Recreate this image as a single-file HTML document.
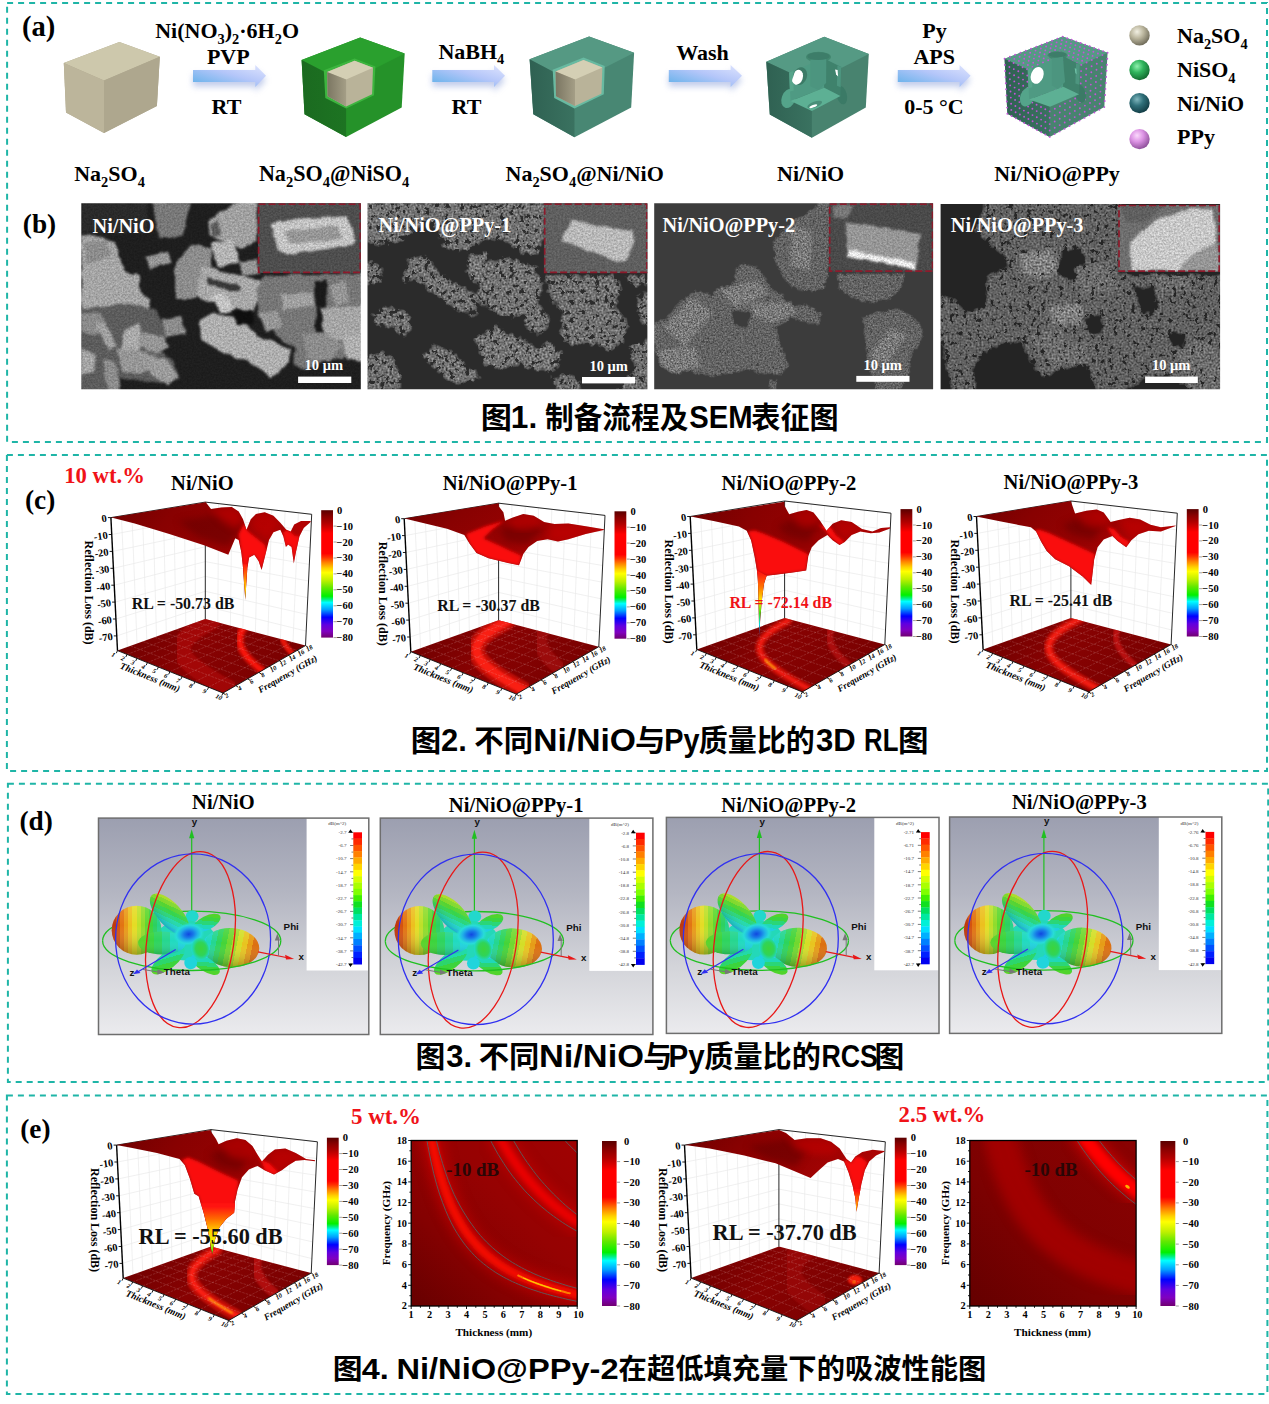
<!DOCTYPE html>
<html lang="zh"><head><meta charset="utf-8"><title>Figure</title>
<style>html,body{margin:0;padding:0;background:#fff}svg{display:block}text{white-space:pre}svg{font-family:'Liberation Serif','Noto Serif CJK SC',serif;font-weight:bold}</style></head>
<body><svg width="1269" height="1404" viewBox="0 0 1269 1404">
<defs>
<linearGradient id="arw" x1="0" y1="1" x2="1" y2="0"><stop offset="0" stop-color="#5cafe8"/><stop offset="0.55" stop-color="#b4c6f9"/><stop offset="1" stop-color="#e0e5fe"/></linearGradient>
<filter id="ashad" x="-20%" y="-60%" width="140%" height="260%"><feGaussianBlur stdDeviation="3.2"/></filter>
<radialGradient id="ballA" cx="0.38" cy="0.32" r="0.7"><stop offset="0" stop-color="#f1efe2"/><stop offset="0.45" stop-color="#bdb8a0"/><stop offset="1" stop-color="#6e6a58"/></radialGradient>
<radialGradient id="ballB" cx="0.38" cy="0.32" r="0.7"><stop offset="0" stop-color="#8ff0ad"/><stop offset="0.45" stop-color="#2fb45c"/><stop offset="1" stop-color="#136a30"/></radialGradient>
<radialGradient id="ballC" cx="0.38" cy="0.32" r="0.7"><stop offset="0" stop-color="#7fb6bd"/><stop offset="0.45" stop-color="#2f6f79"/><stop offset="1" stop-color="#123c44"/></radialGradient>
<radialGradient id="ballD" cx="0.38" cy="0.32" r="0.7"><stop offset="0" stop-color="#fbd9fc"/><stop offset="0.45" stop-color="#dc93e4"/><stop offset="1" stop-color="#8d4f99"/></radialGradient>
<linearGradient id="bL" x1="0" y1="0" x2="1" y2="0"><stop offset="0" stop-color="#7b7662"/><stop offset="1" stop-color="#a49e86"/></linearGradient>
<linearGradient id="gL" x1="0" y1="0" x2="1" y2="0"><stop offset="0" stop-color="#1b6a20"/><stop offset="1" stop-color="#1d7422"/></linearGradient>
<linearGradient id="tL" x1="0" y1="0" x2="1" y2="0"><stop offset="0" stop-color="#2f6152"/><stop offset="1" stop-color="#3a7260"/></linearGradient>
<pattern id="dotsL" width="5.6" height="5.6" patternUnits="userSpaceOnUse" patternTransform="matrix(1,0.48,0,1,1004.7,59.6)"><circle cx="2.8" cy="2.8" r="1.05" fill="#c64fd6"/></pattern>
<pattern id="dotsR" width="5.6" height="5.6" patternUnits="userSpaceOnUse" patternTransform="matrix(1,-0.53,0,1,1050.2,82)"><circle cx="2.8" cy="2.8" r="1.05" fill="#c64fd6"/></pattern>
<pattern id="dotsT" width="5.6" height="5.6" patternUnits="userSpaceOnUse" patternTransform="matrix(1,0.48,1.05,-0.42,1004.7,59.6)"><circle cx="2.8" cy="2.8" r="1.05" fill="#c64fd6"/></pattern>


<filter id="semA" x="0" y="0" width="100%" height="100%" color-interpolation-filters="sRGB">
  <feTurbulence type="fractalNoise" baseFrequency="0.09" numOctaves="2" seed="7" result="n0"/>
  <feDisplacementMap in="SourceGraphic" in2="n0" scale="5" xChannelSelector="R" yChannelSelector="G" result="d"/>
  <feGaussianBlur in="d" stdDeviation="0.9" result="m"/>
  <feTurbulence type="fractalNoise" baseFrequency="0.55" numOctaves="2" seed="11" result="n1"/>
  <feColorMatrix in="n1" type="matrix" values="1 0 0 0 0 1 0 0 0 0 1 0 0 0 0 0 0 0 0 1" result="ng"/>
  <feComposite in="m" in2="ng" operator="arithmetic" k1="0.5" k2="0.75" k3="0" k4="0"/>
</filter>
<filter id="semB" x="0" y="0" width="100%" height="100%" color-interpolation-filters="sRGB">
  <feTurbulence type="fractalNoise" baseFrequency="0.2" numOctaves="3" seed="5" result="n0"/>
  <feDisplacementMap in="SourceGraphic" in2="n0" scale="12" xChannelSelector="R" yChannelSelector="G" result="d"/>
  <feGaussianBlur in="d" stdDeviation="1.5" result="m"/>
  <feColorMatrix in="n0" type="matrix" values="0 0 1 0 0 0 0 1 0 0 0 0 1 0 0 0 0 0 0 1" result="ng"/>
  <feComposite in="m" in2="ng" operator="arithmetic" k1="0" k2="1" k3="2.4" k4="-1.2" result="t"/>
  <feComponentTransfer in="t" result="b"><feFuncR type="table" tableValues="0 0 0 0 0.15 0.85 1 1 1 1 1"/><feFuncG type="table" tableValues="0 0 0 0 0.15 0.85 1 1 1 1 1"/><feFuncB type="table" tableValues="0 0 0 0 0.15 0.85 1 1 1 1 1"/></feComponentTransfer>
  <feTurbulence type="fractalNoise" baseFrequency="0.5" numOctaves="3" seed="22" result="n1"/>
  <feColorMatrix in="n1" type="matrix" values="0.7600000000000001 0 0 0 -0.06000000000000005 0.7600000000000001 0 0 0 -0.06000000000000005 0.7600000000000001 0 0 0 -0.06000000000000005 0 0 0 0 1" result="g"/>
  <feComposite in="m" in2="g" operator="arithmetic" k1="2.0" k2="0" k3="-0.7" k4="0" result="gm"/>
  <feComposite in="b" in2="gm" operator="arithmetic" k1="1" k2="0" k3="0" k4="0.17" result="r"/>
  <feGaussianBlur in="r" stdDeviation="0.5"/>
</filter>
<filter id="semC" x="0" y="0" width="100%" height="100%" color-interpolation-filters="sRGB">
  <feTurbulence type="fractalNoise" baseFrequency="0.3" numOctaves="3" seed="9" result="n0"/>
  <feDisplacementMap in="SourceGraphic" in2="n0" scale="6" xChannelSelector="R" yChannelSelector="G" result="d"/>
  <feGaussianBlur in="d" stdDeviation="1.1" result="m"/>
  <feColorMatrix in="n0" type="matrix" values="0 0 1 0 0 0 0 1 0 0 0 0 1 0 0 0 0 0 0 1" result="ng"/>
  <feComposite in="m" in2="ng" operator="arithmetic" k1="0" k2="1" k3="1.2" k4="-0.6" result="t"/>
  <feComponentTransfer in="t" result="b"><feFuncR type="table" tableValues="0 0 0 0 0.15 0.85 1 1 1 1 1"/><feFuncG type="table" tableValues="0 0 0 0 0.15 0.85 1 1 1 1 1"/><feFuncB type="table" tableValues="0 0 0 0 0.15 0.85 1 1 1 1 1"/></feComponentTransfer>
  <feTurbulence type="fractalNoise" baseFrequency="0.6" numOctaves="3" seed="26" result="n1"/>
  <feColorMatrix in="n1" type="matrix" values="0.4800000000000001 0 0 0 -0.05500000000000002 0.4800000000000001 0 0 0 -0.05500000000000002 0.4800000000000001 0 0 0 -0.05500000000000002 0 0 0 0 1" result="g"/>
  <feComposite in="m" in2="g" operator="arithmetic" k1="2.0" k2="0" k3="-0.7" k4="0" result="gm"/>
  <feComposite in="b" in2="gm" operator="arithmetic" k1="1" k2="0" k3="0" k4="0.235" result="r"/>
  <feGaussianBlur in="r" stdDeviation="0.45"/>
</filter>
<filter id="semD" x="0" y="0" width="100%" height="100%" color-interpolation-filters="sRGB">
  <feTurbulence type="fractalNoise" baseFrequency="0.22" numOctaves="3" seed="13" result="n0"/>
  <feDisplacementMap in="SourceGraphic" in2="n0" scale="10" xChannelSelector="R" yChannelSelector="G" result="d"/>
  <feGaussianBlur in="d" stdDeviation="1.5" result="m"/>
  <feColorMatrix in="n0" type="matrix" values="0 0 1 0 0 0 0 1 0 0 0 0 1 0 0 0 0 0 0 1" result="ng"/>
  <feComposite in="m" in2="ng" operator="arithmetic" k1="0" k2="1" k3="2.0" k4="-1.0" result="t"/>
  <feComponentTransfer in="t" result="b"><feFuncR type="table" tableValues="0 0 0 0 0.15 0.85 1 1 1 1 1"/><feFuncG type="table" tableValues="0 0 0 0 0.15 0.85 1 1 1 1 1"/><feFuncB type="table" tableValues="0 0 0 0 0.15 0.85 1 1 1 1 1"/></feComponentTransfer>
  <feTurbulence type="fractalNoise" baseFrequency="0.5" numOctaves="3" seed="30" result="n1"/>
  <feColorMatrix in="n1" type="matrix" values="0.5999999999999999 0 0 0 -0.009999999999999953 0.5999999999999999 0 0 0 -0.009999999999999953 0.5999999999999999 0 0 0 -0.009999999999999953 0 0 0 0 1" result="g"/>
  <feComposite in="m" in2="g" operator="arithmetic" k1="2.0" k2="0" k3="-0.7" k4="0" result="gm"/>
  <feComposite in="b" in2="gm" operator="arithmetic" k1="1" k2="0" k3="0" k4="0.14" result="r"/>
  <feGaussianBlur in="r" stdDeviation="0.5"/>
</filter>


<linearGradient id="cbar" x1="0" y1="0" x2="0" y2="1"><stop offset="0" stop-color="#5a0000"/><stop offset="0.05" stop-color="#8a0000"/><stop offset="0.1" stop-color="#b00000"/><stop offset="0.15" stop-color="#e00000"/><stop offset="0.18" stop-color="#ff0000"/><stop offset="0.34" stop-color="#ff0000"/><stop offset="0.37" stop-color="#ff3000"/><stop offset="0.41" stop-color="#ff8000"/><stop offset="0.455" stop-color="#ffd000"/><stop offset="0.49" stop-color="#ffff00"/><stop offset="0.55" stop-color="#c0f000"/><stop offset="0.61" stop-color="#60e800"/><stop offset="0.675" stop-color="#00f000"/><stop offset="0.7" stop-color="#00f080"/><stop offset="0.725" stop-color="#00ffff"/><stop offset="0.78" stop-color="#00a0ff"/><stop offset="0.84" stop-color="#0000ff"/><stop offset="0.9" stop-color="#6000e0"/><stop offset="0.95" stop-color="#8000c0"/><stop offset="1" stop-color="#700070"/></linearGradient>
<linearGradient id="surfD" x1="0" y1="0" x2="1" y2="0.4"><stop offset="0" stop-color="#6e0000"/><stop offset="0.3" stop-color="#880101"/><stop offset="0.6" stop-color="#960202"/><stop offset="1" stop-color="#b00404"/></linearGradient>
<linearGradient id="floorG" x1="0" y1="0" x2="1" y2="0.3"><stop offset="0" stop-color="#6c0000"/><stop offset="0.5" stop-color="#880202"/><stop offset="1" stop-color="#7a0101"/></linearGradient>
<filter id="sblur" x="-10%" y="-10%" width="120%" height="120%"><feGaussianBlur stdDeviation="1.6"/></filter>
<filter id="sblur3" x="-20%" y="-20%" width="140%" height="140%"><feGaussianBlur stdDeviation="3.5"/></filter>
<filter id="fblur" x="-10%" y="-10%" width="120%" height="120%"><feGaussianBlur stdDeviation="1.3"/></filter>

<linearGradient id="rcsbg" x1="0" y1="0" x2="0" y2="1"><stop offset="0" stop-color="#9c9fb0"/><stop offset="0.35" stop-color="#b4b6c2"/><stop offset="0.7" stop-color="#d4d5da"/><stop offset="1" stop-color="#ebebee"/></linearGradient>
<linearGradient id="lobeL" x1="0" y1="0" x2="1" y2="0"><stop offset="0.000" stop-color="#bf380c"/><stop offset="0.083" stop-color="#bf380c"/><stop offset="0.083" stop-color="#d4520e"/><stop offset="0.167" stop-color="#d4520e"/><stop offset="0.167" stop-color="#e27412"/><stop offset="0.250" stop-color="#e27412"/><stop offset="0.250" stop-color="#e99a18"/><stop offset="0.333" stop-color="#e99a18"/><stop offset="0.333" stop-color="#ecc01e"/><stop offset="0.417" stop-color="#ecc01e"/><stop offset="0.417" stop-color="#e4dc24"/><stop offset="0.500" stop-color="#e4dc24"/><stop offset="0.500" stop-color="#bee028"/><stop offset="0.583" stop-color="#bee028"/><stop offset="0.583" stop-color="#90dc2c"/><stop offset="0.667" stop-color="#90dc2c"/><stop offset="0.667" stop-color="#60d830"/><stop offset="0.750" stop-color="#60d830"/><stop offset="0.750" stop-color="#3ad43c"/><stop offset="0.833" stop-color="#3ad43c"/><stop offset="0.833" stop-color="#2cd060"/><stop offset="0.917" stop-color="#2cd060"/><stop offset="0.917" stop-color="#26d488"/><stop offset="1.000" stop-color="#26d488"/></linearGradient>
<linearGradient id="lobeR" x1="1" y1="0.1" x2="0" y2="0"><stop offset="0.000" stop-color="#dc7010"/><stop offset="0.091" stop-color="#dc7010"/><stop offset="0.091" stop-color="#e69c16"/><stop offset="0.182" stop-color="#e69c16"/><stop offset="0.182" stop-color="#e8c41e"/><stop offset="0.273" stop-color="#e8c41e"/><stop offset="0.273" stop-color="#d4de26"/><stop offset="0.364" stop-color="#d4de26"/><stop offset="0.364" stop-color="#a4dc2a"/><stop offset="0.455" stop-color="#a4dc2a"/><stop offset="0.455" stop-color="#70d82e"/><stop offset="0.545" stop-color="#70d82e"/><stop offset="0.545" stop-color="#44d438"/><stop offset="0.636" stop-color="#44d438"/><stop offset="0.636" stop-color="#2cd45c"/><stop offset="0.727" stop-color="#2cd45c"/><stop offset="0.727" stop-color="#24d690"/><stop offset="0.818" stop-color="#24d690"/><stop offset="0.818" stop-color="#20d8c0"/><stop offset="0.909" stop-color="#20d8c0"/><stop offset="0.909" stop-color="#20d4dc"/><stop offset="1.000" stop-color="#20d4dc"/></linearGradient>
<linearGradient id="lobeUL" x1="0.15" y1="0.1" x2="0.85" y2="0.9"><stop offset="0.000" stop-color="#a8dc24"/><stop offset="0.125" stop-color="#a8dc24"/><stop offset="0.125" stop-color="#80d82a"/><stop offset="0.250" stop-color="#80d82a"/><stop offset="0.250" stop-color="#54d432"/><stop offset="0.375" stop-color="#54d432"/><stop offset="0.375" stop-color="#36d44c"/><stop offset="0.500" stop-color="#36d44c"/><stop offset="0.500" stop-color="#2ad67c"/><stop offset="0.625" stop-color="#2ad67c"/><stop offset="0.625" stop-color="#22daac"/><stop offset="0.750" stop-color="#22daac"/><stop offset="0.750" stop-color="#20d8d4"/><stop offset="0.875" stop-color="#20d8d4"/><stop offset="0.875" stop-color="#20c8e8"/><stop offset="1.000" stop-color="#20c8e8"/></linearGradient>
<linearGradient id="lobeLL" x1="0" y1="0.5" x2="1" y2="0.5"><stop offset="0.000" stop-color="#58d42a"/><stop offset="0.167" stop-color="#58d42a"/><stop offset="0.167" stop-color="#3cd43c"/><stop offset="0.333" stop-color="#3cd43c"/><stop offset="0.333" stop-color="#2ed45e"/><stop offset="0.500" stop-color="#2ed45e"/><stop offset="0.500" stop-color="#26d690"/><stop offset="0.667" stop-color="#26d690"/><stop offset="0.667" stop-color="#20dac0"/><stop offset="0.833" stop-color="#20dac0"/><stop offset="0.833" stop-color="#20d4e0"/><stop offset="1.000" stop-color="#20d4e0"/></linearGradient>
<linearGradient id="lobeBL" x1="0.1" y1="0.9" x2="0.9" y2="0.1"><stop offset="0.000" stop-color="#5cd428"/><stop offset="0.200" stop-color="#5cd428"/><stop offset="0.200" stop-color="#3cd43c"/><stop offset="0.400" stop-color="#3cd43c"/><stop offset="0.400" stop-color="#2cd66c"/><stop offset="0.600" stop-color="#2cd66c"/><stop offset="0.600" stop-color="#22daa8"/><stop offset="0.800" stop-color="#22daa8"/><stop offset="0.800" stop-color="#20d8d8"/><stop offset="1.000" stop-color="#20d8d8"/></linearGradient>
<linearGradient id="lobeTR" x1="0.1" y1="0.8" x2="0.9" y2="0.2"><stop offset="0.000" stop-color="#20d0e0"/><stop offset="0.200" stop-color="#20d0e0"/><stop offset="0.200" stop-color="#20d8b8"/><stop offset="0.400" stop-color="#20d8b8"/><stop offset="0.400" stop-color="#2ad678"/><stop offset="0.600" stop-color="#2ad678"/><stop offset="0.600" stop-color="#3cd440"/><stop offset="0.800" stop-color="#3cd440"/><stop offset="0.800" stop-color="#50d42c"/><stop offset="1.000" stop-color="#50d42c"/></linearGradient>
<linearGradient id="lobeBR" x1="0.1" y1="0.2" x2="0.9" y2="0.8"><stop offset="0.000" stop-color="#20d0e0"/><stop offset="0.200" stop-color="#20d0e0"/><stop offset="0.200" stop-color="#20d8b8"/><stop offset="0.400" stop-color="#20d8b8"/><stop offset="0.400" stop-color="#2ad678"/><stop offset="0.600" stop-color="#2ad678"/><stop offset="0.600" stop-color="#3cd440"/><stop offset="0.800" stop-color="#3cd440"/><stop offset="0.800" stop-color="#50d42c"/><stop offset="1.000" stop-color="#50d42c"/></linearGradient>
<radialGradient id="lobeF" cx="0.55" cy="0.5" r="0.55"><stop offset="0" stop-color="#3cd43c"/><stop offset="0.55" stop-color="#30d458"/><stop offset="0.8" stop-color="#24d8a0"/><stop offset="1" stop-color="#20d8d0"/></radialGradient>
<radialGradient id="lobeC" cx="0.5" cy="0.5" r="0.5"><stop offset="0" stop-color="#1048e0"/><stop offset="0.3" stop-color="#1878e8"/><stop offset="0.55" stop-color="#20b0e8"/><stop offset="0.8" stop-color="#28dcd8"/><stop offset="1" stop-color="#28dcd0" stop-opacity="0"/></radialGradient>
<linearGradient id="shade" x1="0" y1="0" x2="0" y2="1"><stop offset="0" stop-color="#fff" stop-opacity="0.12"/><stop offset="0.4" stop-color="#fff" stop-opacity="0"/><stop offset="1" stop-color="#000" stop-opacity="0.28"/></linearGradient>

<linearGradient id="hmG" x1="0" y1="1" x2="1" y2="0"><stop offset="0" stop-color="#660000"/><stop offset="0.3" stop-color="#840101"/><stop offset="0.6" stop-color="#960202"/><stop offset="1" stop-color="#a00202"/></linearGradient>
<linearGradient id="hmG2" x1="0" y1="1" x2="1" y2="0"><stop offset="0" stop-color="#640000"/><stop offset="0.4" stop-color="#7c0101"/><stop offset="1" stop-color="#8a0202"/></linearGradient>
<filter id="hblur" x="-10%" y="-10%" width="120%" height="120%"><feGaussianBlur stdDeviation="2.4"/></filter>
<filter id="hblur2" x="-10%" y="-10%" width="120%" height="120%"><feGaussianBlur stdDeviation="6"/></filter>
</defs>
<rect width="1269" height="1404" fill="#fff"/>
<rect x="7.1" y="3" width="1259.9" height="439" fill="none" stroke="#1fb5a7" stroke-width="2" stroke-dasharray="6 5"/>
<rect x="6.9" y="454.9" width="1260.1" height="316" fill="none" stroke="#1fb5a7" stroke-width="2" stroke-dasharray="6 5"/>
<rect x="7.9" y="783.8" width="1260.3" height="298.2" fill="none" stroke="#1fb5a7" stroke-width="2" stroke-dasharray="6 5"/>
<rect x="6.9" y="1095.4" width="1260.5" height="298.5" fill="none" stroke="#1fb5a7" stroke-width="2" stroke-dasharray="6 5"/>
<polygon points="63.8,63 119.4,42 159.8,56.8 156.9,106 104,132.9 66,112.6" fill="#aea78e"/><polygon points="63.8,63 119.4,42 159.8,56.8 104,80.6" fill="#cdc8ac"/><polygon points="63.8,63 104,80.6 104,132.9 66,112.6" fill="#bcb59b"/><polygon points="104,80.6 159.8,56.8 156.9,106 104,132.9" fill="#aea78e"/>
<polygon points="301.6,60.1 360.2,37.4 404.7,53.5 401.7,107.5 346.1,136.9 304.5,114.2" fill="#259229"/><polygon points="301.6,60.1 360.2,37.4 404.7,53.5 346.1,83" fill="#2aa02e"/><polygon points="301.6,60.1 346.1,83 346.1,136.9 304.5,114.2" fill="url(#gL)"/><polygon points="323.8,70.2 354.6,58.4 375.4,66.4 374,95.2 346.1,108.5 325.3,98.1" fill="#3db53f"/><polygon points="327.2,72.1 354.6,60.7 373,67.8 372.1,94.3 346.1,106.6 327.6,96.2" fill="#b9b399"/><polygon points="327.2,72.1 354.6,60.7 373,67.8 346.1,79.6" fill="#d4cfb4"/><polygon points="327.2,72.1 346.1,79.6 346.1,106.6 327.6,96.2" fill="url(#bL)"/>
<polygon points="529.6,59.3 589.1,36.6 634.1,52.7 631.2,107.5 574.5,137.3 533.3,114.2" fill="#488773"/><polygon points="529.6,59.3 589.1,36.6 634.1,52.7 574.5,83" fill="#559983"/><polygon points="529.6,59.3 574.5,83 574.5,137.3 533.3,114.2" fill="url(#tL)"/><polygon points="552.7,69.7 583.5,57.4 604.7,65.9 603.8,94.3 574.5,108.5 554.2,98.1" fill="#68baa1"/><polygon points="555.6,71.6 583.5,60.1 602.4,67.4 601.4,93.8 575,106.1 556,96.2" fill="#b9b399"/><polygon points="555.6,71.6 583.5,60.1 602.4,67.4 575,79.6" fill="#d4cfb4"/><polygon points="555.6,71.6 575,79.6 575,106.1 556,96.2" fill="url(#bL)"/>
<polygon points="766.3,61.7 824.2,36.8 868.8,54.1 865.8,107.5 811.9,137.8 769.8,114.6" fill="#48836f"/><polygon points="766.3,61.7 824.2,36.8 868.8,54.1 811.9,83" fill="#559a84"/><polygon points="766.3,61.7 811.9,83 811.9,137.8 769.8,114.6" fill="url(#tL)"/><ellipse cx="818.5" cy="57" rx="12.5" ry="5.2" fill="#43876f"/><ellipse cx="788.5" cy="98.5" rx="6.8" ry="9.9" fill="#54a48a" transform="rotate(20 788.5 98.5)"/><ellipse cx="841.6" cy="95" rx="5.2" ry="9.5" fill="#3b7a66" transform="rotate(-15 841.6 95)"/><polygon points="789.2,72.6 824.2,58.4 824.2,87.7 790.6,101.1" fill="#4f9a83"/><polygon points="824.2,58.4 841.2,66.9 840.5,95.9 824.2,87.7" fill="#3f826c"/><polygon points="790.6,101.1 824.2,87.7 840.5,95.9 811.9,111.1" fill="#5db094"/><polygon points="810.3,59.8 826.3,58.8 826.1,83 818.5,90 810.3,86.3" fill="#4c957f"/><ellipse cx="818.5" cy="56.2" rx="11.3" ry="3.9" fill="#3d7d69"/><polygon points="789.2,72.6 793.2,70.9 793.7,90.5 789.8,91.5" fill="#57a58b"/><polygon points="841.2,66.9 837.4,65.6 836.9,85.8 840.6,87.2" fill="#4d957f"/><ellipse cx="800.1" cy="76.1" rx="6.8" ry="9" fill="#3c7b67" transform="rotate(18 800.1 76.1)"/><clipPath id="hc4"><rect x="793.2" y="65.9" width="20" height="30"/></clipPath><ellipse cx="797.5" cy="77.3" rx="5.3" ry="7.6" fill="#fff" transform="rotate(18 797.5 77.3)" clip-path="url(#hc4)"/><polygon points="835.1,69.5 837.6,70.1 838.1,76.5 836.1,74.4" fill="#fff"/><ellipse cx="814.7" cy="104.5" rx="7.8" ry="2.8" fill="#498f79" transform="rotate(-20 814.7 104.5)"/><ellipse cx="813.3" cy="106.2" rx="4.2" ry="1.2" fill="#fff" transform="rotate(-22 813.3 106.2)"/>
<polygon points="1004.6,58.8 1062.7,36.6 1107.6,52.7 1104.3,107.1 1049.7,136.9 1007.4,113.7" fill="#48836f"/><polygon points="1004.6,58.8 1062.7,36.6 1107.6,52.7 1049.7,79.6" fill="#559a84"/><polygon points="1004.6,58.8 1049.7,79.6 1049.7,136.9 1007.4,113.7" fill="url(#tL)"/><path d="M1004.6 58.8h0M1004.9 64.9h0M1005.2 71h0M1005.5 77.1h0M1005.8 83.2h0M1006.1 89.3h0M1006.5 95.4h0M1006.8 101.5h0M1007.1 107.6h0M1007.4 113.7h0M1009.1 60.9h0M1009.4 67h0M1009.6 73.2h0M1009.9 79.3h0M1010.2 85.4h0M1010.5 91.5h0M1010.8 97.6h0M1011.1 103.8h0M1011.3 109.9h0M1011.6 116h0M1013.6 63h0M1013.8 69.1h0M1014.1 75.3h0M1014.3 81.4h0M1014.6 87.6h0M1014.8 93.7h0M1015.1 99.9h0M1015.4 106h0M1015.6 112.2h0M1015.9 118.3h0M1018.1 65.1h0M1018.3 71.3h0M1018.5 77.4h0M1018.8 83.6h0M1019 89.8h0M1019.2 95.9h0M1019.4 102.1h0M1019.6 108.3h0M1019.9 114.5h0M1020.1 120.6h0M1022.6 67.2h0M1022.8 73.4h0M1023 79.6h0M1023.2 85.8h0M1023.4 92h0M1023.6 98.2h0M1023.7 104.4h0M1023.9 110.6h0M1024.1 116.8h0M1024.3 123h0M1027.1 69.2h0M1027.3 75.5h0M1027.4 81.7h0M1027.6 87.9h0M1027.7 94.1h0M1027.9 100.4h0M1028.1 106.6h0M1028.2 112.8h0M1028.4 119h0M1028.5 125.3h0M1031.6 71.3h0M1031.8 77.6h0M1031.9 83.8h0M1032 90.1h0M1032.1 96.3h0M1032.3 102.6h0M1032.4 108.8h0M1032.5 115.1h0M1032.6 121.3h0M1032.8 127.6h0M1036.1 73.4h0M1036.2 79.7h0M1036.3 86h0M1036.4 92.2h0M1036.5 98.5h0M1036.6 104.8h0M1036.7 111.1h0M1036.8 117.3h0M1036.9 123.6h0M1037 129.9h0M1040.7 75.5h0M1040.7 81.8h0M1040.8 88.1h0M1040.8 94.4h0M1040.9 100.7h0M1041 107h0M1041 113.3h0M1041.1 119.6h0M1041.2 125.9h0M1041.2 132.2h0M1045.2 77.6h0M1045.2 83.9h0M1045.2 90.2h0M1045.3 96.6h0M1045.3 102.9h0M1045.3 109.2h0M1045.3 115.5h0M1045.4 121.9h0M1045.4 128.2h0M1045.4 134.5h0M1049.7 79.6h0M1049.7 86h0M1049.7 92.4h0M1049.7 98.7h0M1049.7 105.1h0M1049.7 111.4h0M1049.7 117.8h0M1049.7 124.1h0M1049.7 130.5h0M1049.7 136.9h0M1054.9 77.2h0M1054.9 83.5h0M1054.9 89.9h0M1054.8 96.2h0M1054.8 102.5h0M1054.8 108.8h0M1054.7 115.2h0M1054.7 121.5h0M1054.7 127.8h0M1054.6 134.1h0M1060.2 74.7h0M1060.1 81h0M1060.1 87.3h0M1060 93.6h0M1059.9 99.9h0M1059.9 106.2h0M1059.8 112.5h0M1059.7 118.8h0M1059.7 125.1h0M1059.6 131.4h0M1065.5 72.3h0M1065.4 78.6h0M1065.3 84.8h0M1065.2 91.1h0M1065.1 97.4h0M1065 103.6h0M1064.9 109.9h0M1064.8 116.2h0M1064.7 122.5h0M1064.6 128.7h0M1070.8 69.8h0M1070.6 76.1h0M1070.5 82.3h0M1070.3 88.6h0M1070.2 94.8h0M1070.1 101.1h0M1069.9 107.3h0M1069.8 113.5h0M1069.7 119.8h0M1069.5 126h0M1076 67.4h0M1075.9 73.6h0M1075.7 79.8h0M1075.5 86h0M1075.4 92.2h0M1075.2 98.5h0M1075 104.7h0M1074.8 110.9h0M1074.7 117.1h0M1074.5 123.3h0M1081.3 64.9h0M1081.1 71.1h0M1080.9 77.3h0M1080.7 83.5h0M1080.5 89.7h0M1080.3 95.9h0M1080.1 102.1h0M1079.9 108.2h0M1079.7 114.4h0M1079.5 120.6h0M1086.6 62.5h0M1086.3 68.7h0M1086.1 74.8h0M1085.9 81h0M1085.6 87.1h0M1085.4 93.3h0M1085.2 99.4h0M1084.9 105.6h0M1084.7 111.7h0M1084.5 117.9h0M1091.8 60h0M1091.6 66.2h0M1091.3 72.3h0M1091 78.4h0M1090.8 84.6h0M1090.5 90.7h0M1090.2 96.8h0M1090 102.9h0M1089.7 109.1h0M1089.4 115.2h0M1097.1 57.6h0M1096.8 63.7h0M1096.5 69.8h0M1096.2 75.9h0M1095.9 82h0M1095.6 88.1h0M1095.3 94.2h0M1095 100.3h0M1094.7 106.4h0M1094.4 112.5h0M1102.4 55.1h0M1102 61.2h0M1101.7 67.3h0M1101.4 73.4h0M1101 79.4h0M1100.7 85.5h0M1100.4 91.6h0M1100 97.6h0M1099.7 103.7h0M1099.4 109.8h0M1107.6 52.7h0M1107.3 58.7h0M1106.9 64.8h0M1106.5 70.8h0M1106.2 76.9h0M1105.8 82.9h0M1105.4 88.9h0M1105.1 95h0M1104.7 101h0M1104.3 107.1h0M1009.9 56.8h0M1015.1 54.8h0M1020.4 52.8h0M1025.7 50.8h0M1031 48.7h0M1036.3 46.7h0M1041.6 44.7h0M1046.9 42.7h0M1052.1 40.7h0M1057.4 38.6h0M1062.7 36.6h0M1014.4 58.9h0M1019.6 56.8h0M1024.9 54.7h0M1030.2 52.7h0M1035.5 50.6h0M1040.8 48.5h0M1046.1 46.5h0M1051.4 44.4h0M1056.6 42.4h0M1061.9 40.3h0M1067.2 38.2h0M1018.9 60.9h0M1024.2 58.8h0M1029.4 56.7h0M1034.7 54.6h0M1040 52.5h0M1045.3 50.4h0M1050.6 48.3h0M1055.9 46.2h0M1061.1 44h0M1066.4 41.9h0M1071.7 39.8h0M1023.4 62.9h0M1028.7 60.8h0M1033.9 58.6h0M1039.2 56.5h0M1044.5 54.3h0M1049.8 52.2h0M1055.1 50h0M1060.4 47.9h0M1065.6 45.7h0M1070.9 43.6h0M1076.2 41.4h0M1027.9 65h0M1033.2 62.8h0M1038.4 60.6h0M1043.7 58.4h0M1049 56.2h0M1054.3 54h0M1059.6 51.8h0M1064.8 49.6h0M1070.1 47.4h0M1075.4 45.2h0M1080.7 43h0M1032.4 67h0M1037.7 64.8h0M1043 62.5h0M1048.2 60.3h0M1053.5 58.1h0M1058.8 55.8h0M1064.1 53.6h0M1069.3 51.4h0M1074.6 49.1h0M1079.9 46.9h0M1085.2 44.7h0M1036.9 69h0M1042.2 66.8h0M1047.5 64.5h0M1052.7 62.2h0M1058 59.9h0M1063.3 57.7h0M1068.6 55.4h0M1073.8 53.1h0M1079.1 50.8h0M1084.4 48.5h0M1089.7 46.3h0M1041.4 71.1h0M1046.7 68.8h0M1052 66.4h0M1057.2 64.1h0M1062.5 61.8h0M1067.8 59.5h0M1073.1 57.2h0M1078.3 54.8h0M1083.6 52.5h0M1088.9 50.2h0M1094.2 47.9h0M1045.9 73.1h0M1051.2 70.8h0M1056.5 68.4h0M1061.7 66h0M1067 63.7h0M1072.3 61.3h0M1077.6 58.9h0M1082.8 56.6h0M1088.1 54.2h0M1093.4 51.8h0M1098.7 49.5h0M1050.4 75.2h0M1055.7 72.8h0M1061 70.3h0M1066.2 67.9h0M1071.5 65.5h0M1076.8 63.1h0M1082.1 60.7h0M1087.3 58.3h0M1092.6 55.9h0M1097.9 53.5h0M1103.1 51.1h0M1054.9 77.2h0M1060.2 74.7h0M1065.5 72.3h0M1070.8 69.8h0M1076 67.4h0M1081.3 64.9h0M1086.6 62.5h0M1091.8 60h0M1097.1 57.6h0M1102.4 55.1h0M1107.6 52.7h0" stroke="#c352d8" stroke-width="1.9" stroke-linecap="round" fill="none"/><ellipse cx="1057.5" cy="55.3" rx="9.9" ry="4" fill="#43876f"/><ellipse cx="1027.1" cy="96.9" rx="6.8" ry="9.9" fill="#54a48a" transform="rotate(20 1027.1 96.9)"/><ellipse cx="1080.2" cy="93.4" rx="5.2" ry="9.5" fill="#3b7a66" transform="rotate(-15 1080.2 93.4)"/><polygon points="1027.7,69.2 1063.2,56 1063.2,86.7 1029.2,99.5" fill="#4f9a83"/><polygon points="1063.2,56 1079.7,64.5 1079.1,94.3 1063.2,86.7" fill="#3f826c"/><polygon points="1029.2,99.5 1063.2,86.7 1079.1,94.3 1050,106.8" fill="#5db094"/><polygon points="1051.8,58.2 1062.7,57.2 1065.1,82 1057.5,89.1 1051.8,85.3" fill="#4c957f"/><ellipse cx="1057.5" cy="54.6" rx="8.8" ry="2.6" fill="#3d7d69"/><polygon points="1027.7,69.2 1031.7,67.5 1032.3,87.2 1028.3,88.2" fill="#57a58b"/><polygon points="1079.7,64.5 1076,63.2 1075.4,83.4 1079.2,84.8" fill="#4d957f"/><ellipse cx="1037.2" cy="75.4" rx="6.2" ry="8.7" fill="#fff" transform="rotate(20 1037.2 75.4)"/><polygon points="1074.7,68.3 1076.4,68.8 1076.7,74.4 1075.3,73" fill="#6fc0a6"/>
<path d="M193 70.1H255.3V65L266 75.8L255.3 87V81.9H193Z" fill="#8fa3dc" opacity="0.55" filter="url(#ashad)" transform="translate(0,4.5)"/><path d="M193 70.1H255.3V65L266 75.8L255.3 87V81.9H193Z" fill="url(#arw)"/>
<path d="M432.3 70.1H494V65L505 75.8L494 87V81.9H432.3Z" fill="#8fa3dc" opacity="0.55" filter="url(#ashad)" transform="translate(0,4.5)"/><path d="M432.3 70.1H494V65L505 75.8L494 87V81.9H432.3Z" fill="url(#arw)"/>
<path d="M668.8 70.1H730.6V65L742 75.8L730.6 87V81.9H668.8Z" fill="#8fa3dc" opacity="0.55" filter="url(#ashad)" transform="translate(0,4.5)"/><path d="M668.8 70.1H730.6V65L742 75.8L730.6 87V81.9H668.8Z" fill="url(#arw)"/>
<path d="M897.8 70.1H959.6V65L970.6 75.8L959.6 87V81.9H897.8Z" fill="#8fa3dc" opacity="0.55" filter="url(#ashad)" transform="translate(0,4.5)"/><path d="M897.8 70.1H959.6V65L970.6 75.8L959.6 87V81.9H897.8Z" fill="url(#arw)"/>
<g font-family="'Liberation Serif','Noto Serif CJK SC',serif" font-weight="bold">
<text x="22" y="36.4" font-size="28.6">(a)</text>
<text x="155.2" y="38.2" font-size="22">Ni(NO<tspan dy="5.7" font-size="14.4">3</tspan><tspan dy="-5.7">)</tspan><tspan dy="5.7" font-size="14.4">2</tspan><tspan dy="-5.7">·6H</tspan><tspan dy="5.7" font-size="14.4">2</tspan><tspan dy="-5.7">O</tspan></text>
<text x="228.3" y="64" font-size="22" text-anchor="middle">PVP</text>
<text x="226.5" y="113.7" font-size="22" text-anchor="middle">RT</text>
<text x="438.4" y="58.5" font-size="22">NaBH<tspan dy="5.7" font-size="14.4">4</tspan></text>
<text x="466.5" y="113.7" font-size="22" text-anchor="middle">RT</text>
<text x="702.5" y="60.3" font-size="22" text-anchor="middle">Wash</text>
<text x="934.5" y="37.6" font-size="22" text-anchor="middle">Py</text>
<text x="934.2" y="64" font-size="22" text-anchor="middle">APS</text>
<text x="934" y="113.7" font-size="22" text-anchor="middle">0-5 °C</text>
<text x="74.2" y="181" font-size="22">Na<tspan dy="5.7" font-size="14.4">2</tspan><tspan dy="-5.7">SO</tspan><tspan dy="5.7" font-size="14.4">4</tspan></text>
<text x="258.9" y="181" font-size="22.1">Na<tspan dy="5.7" font-size="14.5">2</tspan><tspan dy="-5.7">SO</tspan><tspan dy="5.7" font-size="14.5">4</tspan><tspan dy="-5.7">@NiSO</tspan><tspan dy="5.7" font-size="14.5">4</tspan></text>
<text x="505.5" y="181" font-size="22">Na<tspan dy="5.7" font-size="14.4">2</tspan><tspan dy="-5.7">SO</tspan><tspan dy="5.7" font-size="14.4">4</tspan><tspan dy="-5.7">@Ni/NiO</tspan></text>
<text x="777" y="181" font-size="22">Ni/NiO</text>
<text x="994.3" y="181" font-size="22">Ni/NiO@PPy</text>
<text x="1177" y="43.1" font-size="22">Na<tspan dy="5.7" font-size="14.4">2</tspan><tspan dy="-5.7">SO</tspan><tspan dy="5.7" font-size="14.4">4</tspan></text>
<text x="1177" y="77.3" font-size="22">NiSO<tspan dy="5.7" font-size="14.4">4</tspan></text>
<text x="1177" y="111" font-size="22">Ni/NiO</text>
<text x="1177" y="144.2" font-size="22">PPy</text>
</g>
<circle cx="1139.5" cy="35.4" r="10.2" fill="url(#ballA)"/>
<circle cx="1139.5" cy="70" r="10.2" fill="url(#ballB)"/>
<circle cx="1139.5" cy="103.1" r="10.2" fill="url(#ballC)"/>
<circle cx="1139.5" cy="139.1" r="10.2" fill="url(#ballD)"/>
<text x="22.5" y="0" font-size="1"></text>
<text x="22.8" y="232.6" font-size="27.3" font-family="'Liberation Serif','Noto Serif CJK SC',serif">(b)</text>
<clipPath id="semc1"><rect x="81.3" y="203.3" width="279.5" height="186"/></clipPath>
<g clip-path="url(#semc1)">
<g filter="url(#semA)">
<rect x="69.3" y="191.3" width="303.5" height="210" fill="#1e1e1e"/>
<polygon points="81.3,203.3 148,203.3 148,232.8 81.3,232.8" fill="#2a2a2a"/>
<polygon points="81.3,234 98.4,235.7 113.7,242.3 126.7,273 139,276.6 139,289.6 150.4,299 148,308.5 131.5,313.2 103.1,310.8 81.3,313.2" fill="#a5a5a5"/>
<polygon points="84.7,242.3 107.8,239.9 110.7,256.9 87,264" fill="#8c8c8c"/>
<polygon points="79.5,309.4 125.1,304 156.5,309.4 162,323.1 167.4,336.8 156.5,347.7 173.1,361.4 179.7,377.7 162,383.2 121.1,377.7 107.4,391.2 79.5,391.2" fill="#5c5c5c"/>
<polygon points="81.3,313.2 100.7,313.2 107.8,327.4 93.6,336.8 81.3,332.1" fill="#8a8a8a"/>
<polygon points="96,323.8 105.5,321.5 117.8,346.3 108.3,351.5" fill="#a0a0a0"/>
<polygon points="124.4,327.4 139,323.8 141.4,348.7 129.1,360.5 120.8,358.1" fill="#aaaaaa"/>
<polygon points="140.9,332.1 164.6,336.8 168.1,346.8 155.1,353.9 140.9,344.4" fill="#969696"/>
<polygon points="81.3,348.7 96,355.8 93.6,370.4 81.3,375.1" fill="#a5a5a5"/>
<polygon points="103.1,358.1 115.4,360.5 120.1,391.2 107.8,391.2" fill="#8c8c8c"/>
<polygon points="117.3,348.7 148,351 153.2,365.7 140.9,375.1 122,370.4" fill="#969696"/>
<polygon points="145.7,353.9 164.6,358.1 179.2,377.5 169.3,384.6 150.4,375.1" fill="#9b9b9b"/>
<polygon points="152.7,202.1 191,202.1 185.8,221 181.1,238 159.8,238 155.1,218.6" fill="#787878"/>
<polygon points="145.2,256.9 168.1,251.7 171.7,262.6 149.2,268.8" fill="#969696"/>
<polygon points="208.3,221 221.3,211.5 235.5,202.1 257.9,202.1 257.2,239.9 242.6,248.4 221.3,239.9 209.5,235.2" fill="#a0a0a0"/>
<polygon points="210.7,223.4 217.8,219.8 221.3,234 213,236.4" fill="#5a5a5a"/>
<polygon points="210.7,243.5 233.1,238.7 239.3,261.2 217.8,268.3" fill="#b4b4b4"/>
<polygon points="175.2,262.4 192.9,243.5 211.8,247.5 211.8,265.9 202.4,273.5 195.3,299 175.2,299" fill="#8c8c8c"/>
<polygon points="202.4,265.9 264.3,281.3 252.5,313.7 195.3,296.7" fill="#a8a8a8"/>
<polygon points="208.3,277.3 240.7,287.2 239.3,292.4 207.1,284.4" fill="#373737"/>
<polygon points="209.5,296.7 223.7,294.3 235.5,308.9 221.3,313.7" fill="#c3c3c3"/>
<polygon points="239,261.2 256.8,260 259.1,273.5 242.6,275.9" fill="#969696"/>
<polygon points="264.3,275.4 306.4,274.2 363.1,274.2 363.1,346.3 343,358.1 323.9,360.5 307.6,368.8 294.6,366.4 294.6,348.7 278,336.8 259.1,317.9 256.8,289.6" fill="#767676"/>
<polygon points="199.6,320.3 211.8,313.2 240.2,317.9 259.1,336.8 291,348.7 289.9,361 270.9,377.5 263.9,370.4 244.9,361 221.3,351.5 201.2,339.7" fill="#afafaf"/>
<polygon points="161.7,319.1 181.1,316 185.8,333.5 165.7,336.8" fill="#8c8c8c"/>
<polygon points="314.7,281.3 326.5,280.1 327.7,308.5 324.1,333.3 314.7,332.1 315.9,306.1" fill="#191919"/>
<polygon points="233.1,312 252,309.7 254.4,322.7 236.7,325.5" fill="#0f0f0f"/>
<polygon points="280.4,294.3 313.5,291.9 316.3,306.6 282.8,308.9" fill="#a0a0a0"/>
<polygon points="320.6,308.5 363.1,306.1 363.1,337.3 325.3,342" fill="#a5a5a5"/>
<polygon points="341.9,336.8 363.1,334.5 363.1,361 346.6,358.6" fill="#afafaf"/>
<polygon points="330,284.8 344.2,280.1 349.4,301.9 334.8,306.6" fill="#969696"/>
<polygon points="259.1,313.2 278,310.8 282.8,327.4 266.2,332.1" fill="#969696"/>
<polygon points="302.9,334.5 325.3,332.1 341.9,346.3 330,360.5 306.4,358.1" fill="#8c8c8c"/>
</g>
<clipPath id="semc1i"><rect x="258" y="203.6" width="102.8" height="69.4"/></clipPath>
<g clip-path="url(#semc1i)"><g filter="url(#semA)">
<rect x="248" y="193.6" width="122.8" height="89.4" fill="#4e4e4e"/>
<polygon points="270.5,225.7 278,221 346.6,216.3 356.5,239.9 351.3,245.8 287.5,254.6 278,249.8" fill="#c3c3c3"/>
<polygon points="283.9,230.5 337.1,225.7 341.9,238.7 289.9,244.6" fill="#969696"/>
</g></g>
<rect x="258.6" y="204.2" width="101.6" height="68.2" fill="none" stroke="#8d1a2b" stroke-width="1.7" stroke-dasharray="7 3"/>
</g>
<text x="92.5" y="232.8" font-size="20.3" fill="#fff" font-family="'Liberation Serif','Noto Serif CJK SC',serif">Ni/NiO</text>
<rect x="298.1" y="376.6" width="53.2" height="6.4" fill="#fff"/>
<text x="323.8" y="370" font-size="14.5" text-anchor="middle" fill="#fff" font-family="'Liberation Serif','Noto Serif CJK SC',serif">10 μm</text>
<clipPath id="semc2"><rect x="367.5" y="203.3" width="279.9" height="186"/></clipPath>
<g clip-path="url(#semc2)">
<g filter="url(#semB)">
<rect x="355.5" y="191.3" width="303.9" height="210" fill="#2c2c2c"/>
<polygon points="364.5,202.1 433,202.1 425.9,218.6 411.7,235.2 395.2,242.3 376.3,245.8 364.5,242.3" fill="#cacaca"/>
<polygon points="433,202.1 546.5,202.1 544.1,242.3 534.7,256.5 520.5,254.1 506.3,242.3 487.4,239.9 466.1,251.7 444.8,249.4 437.7,232.8 425.9,218.6" fill="#cacaca"/>
<polygon points="364.5,261.2 378.6,263.6 384.6,275.4 378.6,284.8 364.5,284.8" fill="#c6c6c6"/>
<polygon points="408.2,257.6 425.9,255.3 440.1,273 466.1,289.6 477.9,299 475.6,315.6 459,313.2 433,294.3 414.1,277.7 404.6,284.8 402.3,277.7" fill="#cacaca"/>
<polygon points="468.5,254.1 487.4,251.7 485,277.7 473.2,283.7 464.9,270.7" fill="#d0d0d0"/>
<polygon points="482.7,263.6 506.3,256.5 534.7,265.9 544.1,284.8 539.4,306.1 520.5,317.9 501.6,317.9 482.7,306.1 473.2,299 477.9,284.8" fill="#cacaca"/>
<polygon points="370.4,315.6 385.7,306.1 402.3,308.5 412.9,317.9 411.7,332.1 399.9,335.7 390.5,327.4 376.3,323.8" fill="#cacaca"/>
<polygon points="364.5,355.8 381,351 395.2,358.1 402.3,374.7 399.9,391.2 364.5,391.2" fill="#c6c6c6"/>
<polygon points="421.2,353.4 435.4,343.9 454.3,351 466.1,365.2 477.9,369.9 479.1,379.4 459,385.3 442.5,377 430.7,365.2" fill="#cccccc"/>
<polygon points="470.8,336.8 487.4,332.1 496.8,322.7 506.3,332.1 520.5,336.8 534.7,346.3 551.2,341.6 563,355.8 558.3,369.9 539.4,372.3 520.5,365.2 501.6,369.9 482.7,365.2 477.9,351" fill="#cecece"/>
<polygon points="544.1,274.2 567.8,274.2 591.4,275.4 615,274.2 624.5,289.6 615,306.1 629.2,322.7 624.5,341.6 610.3,351 591.4,343.9 567.8,346.3 558.3,332.1 563,313.2 548.9,299" fill="#c8c8c8"/>
<polygon points="520.5,308.5 539.4,303.7 551.2,317.9 544.1,334.5 525.2,329.8" fill="#cacaca"/>
<polygon points="636.3,294.3 650.5,289.6 650.5,327.4 638.7,322.7" fill="#c6c6c6"/>
<polygon points="629.2,346.3 650.5,336.8 650.5,391.2 615,391.2 634,369.9" fill="#c6c6c6"/>
<polygon points="551.2,377 567.8,372.3 582,381.8 582,391.2 555.9,391.2" fill="#c6c6c6"/>
<polygon points="624.5,274.2 650.5,274.2 650.5,284.8 634,287.2" fill="#c4c4c4"/>
</g>
<clipPath id="semc2i"><rect x="544.1" y="203.6" width="103.3" height="69.4"/></clipPath>
<g clip-path="url(#semc2i)"><g filter="url(#semA)">
<rect x="534.1" y="193.6" width="123.3" height="89.4" fill="#5f5f5f"/>
<polygon points="562.6,235.7 571.3,219.8 632.8,231.6 634,242.3 627.3,259.3 619.8,261.7 563,241.1" fill="#b9b9b9"/>
</g></g>
<rect x="544.7" y="204.2" width="102.1" height="68.2" fill="none" stroke="#8d1a2b" stroke-width="1.7" stroke-dasharray="7 3"/>
</g>
<text x="378.6" y="231.6" font-size="20.3" fill="#fff" font-family="'Liberation Serif','Noto Serif CJK SC',serif">Ni/NiO@PPy-1</text>
<rect x="582" y="377" width="53.1" height="6.4" fill="#fff"/>
<text x="608.6" y="371" font-size="14.5" text-anchor="middle" fill="#fff" font-family="'Liberation Serif','Noto Serif CJK SC',serif">10 μm</text>
<clipPath id="semc3"><rect x="654.2" y="203.3" width="278.9" height="186"/></clipPath>
<g clip-path="url(#semc3)">
<g filter="url(#semC)">
<rect x="642.2" y="191.3" width="302.9" height="210" fill="#3c3c3c"/>
<polygon points="772.4,242.3 781.8,230.5 796,218.6 805.5,213.9 819.7,202.1 831.5,202.1 829.1,273 824.4,289.6 805.5,291.9 791.3,287.2 781.8,275.4 774.8,261.2" fill="#c4c4c4"/>
<polygon points="651.8,322.7 666,317.9 677.8,303.7 696.7,289.6 710.9,294.3 718,287.2 734.6,282.5 734.6,268.3 744,263.6 758.2,265.9 767.7,280.1 772.4,289.6 784.2,294.3 786.6,306.1 805.5,303.7 822,313.2 819.7,325 805.5,322.7 791.3,317.9 777.1,327.4 781.8,346.3 788.9,365.2 781.8,374.7 762.9,374.7 744,369.9 729.8,374.7 710.9,377 696.7,374.7 682.6,369.9 668.4,360.5 656.5,355.8 651.8,336.8" fill="#c4c4c4"/>
<polygon points="663.6,327.4 692,296.7 713.3,313.2 684.9,346.3" fill="#ffffff"/>
<polygon points="720.4,289.6 758.2,280.1 767.7,294.3 734.6,308.5" fill="#ffffff"/>
<polygon points="751.1,303.7 791.3,301.4 796,313.2 772.4,322.7 753.5,315.6" fill="#ffffff"/>
<polygon points="732.2,310.8 751.1,313.2 746.4,327.4 734.6,325" fill="#2d2d2d"/>
<polygon points="656.5,351 694.4,346.3 701.5,365.2 675.5,374.7 658.9,365.2" fill="#ffffff"/>
<polygon points="836.2,273 907.1,273 900,289.6 890.6,299 871.7,303.7 852.8,299 838.6,289.6" fill="#c4c4c4"/>
<polygon points="862.2,317.9 876.4,310.8 900,308.5 921.3,322.7 923.7,336.8 911.9,355.8 909.5,374.7 900,391.2 876.4,391.2 867,360.5 864.6,341.6" fill="#c4c4c4"/>
<polygon points="890.6,327.4 907.1,334.5 885.9,365.2 869.3,355.8" fill="#ffffff"/>
<polygon points="767.7,379.4 777.1,379.4 777.1,391.2 770,391.2" fill="#c4c4c4"/>
<polygon points="791.3,223.4 812.6,232.8 810.2,270.7 791.3,265.9" fill="#ffffff"/>
</g>
<clipPath id="semc3i"><rect x="829.1" y="203.6" width="104" height="68.2"/></clipPath>
<g clip-path="url(#semc3i)"><g filter="url(#semA)">
<rect x="819.1" y="193.6" width="124" height="88.2" fill="#4a4a4a"/>
<polygon points="832.7,205.6 852.8,205.6 845.7,218.6 833.9,218.6" fill="#787878"/>
<polygon points="845.7,222.2 920.1,234 915.4,268.8 848,254.6" fill="#969696"/>
<polygon points="848,249.8 915.4,263.1 915.4,269.2 848,256.9" fill="#ebebeb"/>
</g></g>
<rect x="829.7" y="204.2" width="102.8" height="67" fill="none" stroke="#8d1a2b" stroke-width="1.7" stroke-dasharray="7 3"/>
</g>
<text x="662.5" y="231.6" font-size="20.3" fill="#fff" font-family="'Liberation Serif','Noto Serif CJK SC',serif">Ni/NiO@PPy-2</text>
<rect x="856.3" y="375.9" width="53.2" height="5.9" fill="#fff"/>
<text x="882.6" y="369.5" font-size="14.5" text-anchor="middle" fill="#fff" font-family="'Liberation Serif','Noto Serif CJK SC',serif">10 μm</text>
<clipPath id="semc4"><rect x="940.6" y="203.9" width="279.5" height="185.4"/></clipPath>
<g clip-path="url(#semc4)">
<g filter="url(#semD)">
<rect x="928.6" y="191.9" width="303.5" height="209.4" fill="#242424"/>
<polygon points="984.4,202.1 1121.5,202.1 1119.1,273 1223.1,274.2 1223.1,391.2 1190,391.2 1166.4,374.7 1142.8,381.8 1123.9,391.2 1095.5,391.2 1086,365.2 1062.4,369.9 1043.5,379.4 1029.3,360.5 1019.8,341.6 996.2,346.3 977.3,360.5 965.5,391.2 951.3,391.2 944.2,360.5 938.3,336.8 938.3,294.3 953.6,296.7 965.5,310.8 984.4,306.1 986.7,275.4 1008,265.9 1000.9,254.1 986.7,242.3 974.9,230.5" fill="#c4c4c4"/>
<polygon points="1062.4,251.7 1081.3,249.4 1086,265.9 1071.8,280.1 1057.7,273" fill="#1e1e1e"/>
<polygon points="1135.7,289.6 1152.2,287.2 1157,308.5 1142.8,313.2" fill="#232323"/>
<polygon points="1086,317.9 1100.2,315.6 1102.6,332.1 1088.4,332.1" fill="#282828"/>
<polygon points="1171.1,332.1 1185.3,334.5 1183,346.3 1171.1,343.9" fill="#232323"/>
<polygon points="1017.5,254.1 1052.9,249.4 1060,270.7 1041.1,280.1 1022.2,273" fill="#fafafa"/>
<polygon points="986.7,275.4 1008,284.8 1003.3,308.5 986.7,303.7" fill="#c4c4c4"/>
<polygon points="1031.7,332.1 1062.4,329.8 1067.1,346.3 1036.4,351" fill="#d7d7d7"/>
<polygon points="1043.5,348.7 1086,341.6 1088.4,360.5 1048.2,369.9" fill="#d7d7d7"/>
<polygon points="1175.9,346.3 1209,341.6 1223.1,360.5 1223.1,391.2 1190,391.2" fill="#d7d7d7"/>
<polygon points="948.9,346.3 970.2,346.3 977.3,391.2 953.6,391.2" fill="#c4c4c4"/>
<polygon points="1071.8,265.9 1109.7,263.6 1119.1,289.6 1081.3,294.3" fill="#d7d7d7"/>
<polygon points="1048.2,306.1 1081.3,303.7 1083.7,322.7 1052.9,325" fill="#fafafa"/>
<polygon points="1154.6,275.4 1190,275.4 1192.4,289.6 1157,291.9" fill="#d7d7d7"/>
</g>
<clipPath id="semc4i"><rect x="1118.4" y="204.9" width="101.4" height="66.9"/></clipPath>
<g clip-path="url(#semc4i)"><g filter="url(#semA)">
<rect x="1108.4" y="194.9" width="121.4" height="86.9" fill="#6e6e6e"/>
<polygon points="1119.1,204.5 1166.4,204.5 1142.8,223.4 1126.2,221" fill="#5f5f5f"/>
<polygon points="1130.9,242.3 1157,218.6 1190,209.2 1213.7,209.2 1217.2,242.3 1190,256.9 1178.2,270.7 1133.3,270.7 1128.6,256.5" fill="#c8c8c8"/>
<polygon points="1190,256.9 1217.2,242.3 1220.8,270.7 1178.2,270.7" fill="#969696"/>
</g></g>
<rect x="1119" y="205.5" width="100.2" height="65.7" fill="none" stroke="#8d1a2b" stroke-width="1.7" stroke-dasharray="7 3"/>
</g>
<text x="950.8" y="231.6" font-size="20.3" fill="#fff" font-family="'Liberation Serif','Noto Serif CJK SC',serif">Ni/NiO@PPy-3</text>
<rect x="1145.1" y="376.6" width="52.7" height="6.4" fill="#fff"/>
<text x="1171.2" y="370.4" font-size="14.5" text-anchor="middle" fill="#fff" font-family="'Liberation Serif','Noto Serif CJK SC',serif">10 μm</text>
<text x="25" y="508.8" font-size="27.3">(c)</text>
<text x="64.2" y="483.1" font-size="22.7" fill="#f01218">10 wt.%</text>
<text x="171.1" y="489.5" font-size="20.5">Ni/NiO</text>
<text x="442.8" y="490.4" font-size="20.6">Ni/NiO@PPy-1</text>
<text x="721.6" y="490.4" font-size="20.6">Ni/NiO@PPy-2</text>
<text x="1003.6" y="489.3" font-size="20.6">Ni/NiO@PPy-3</text>
<path d="M110.9 517.6L205.3 502.1L311.7 514.3M111.7 534.5L205.3 517L310.9 531M112.6 551.4L205.3 531.8L310.1 547.7M113.4 568.3L205.3 546.7L309.3 564.4M114.3 585.2L205.3 561.6L308.5 581M115.1 602.1L205.3 576.4L307.8 597.7M115.9 619L205.3 591.3L307 614.4M116.8 635.9L205.3 606.2L306.2 631.1M121.4 515.9L127.3 647.1M131.9 514.2L137 643.6M142.4 512.4L146.8 640.1M152.9 510.7L156.5 636.6M163.3 509L166.3 633.1M173.8 507.3L176 629.6M184.3 505.5L185.8 626.1M194.8 503.8L195.5 622.6M218.6 503.6L217.8 622.4M231.9 505.1L230.4 625.7M245.2 506.7L242.9 629M258.5 508.2L255.4 632.4M271.8 509.7L267.9 635.7M285.1 511.2L280.4 639M298.4 512.8L293 642.3" stroke="#e9e9e9" stroke-width="0.7" fill="none"/>
<clipPath id="fc1"><polygon points="117.5,650.6 205.3,619.1 305.5,645.6 223,693"/></clipPath>
<polygon points="117.5,650.6 205.3,619.1 305.5,645.6 223,693" fill="url(#floorG)"/>
<g clip-path="url(#fc1)">
<path d="M244 627.3L242.6 629.5L241.5 631.7L240.7 633.7L240.2 635.8L239.9 637.7L239.8 639.7L239.8 641.5L240.1 643.4L240.5 645.2L241.1 647L241.9 648.7L242.8 650.5L243.8 652.2L244.9 653.9L246.2 655.6L247.5 657.3L249 658.9L250.6 660.6L252.3 662.3L254.1 663.9L256 665.6L257.9 667.2L260 668.9L262.1 670.5" stroke="#ff1a10" stroke-width="9" opacity="0.5" fill="none" stroke-linecap="round" filter="url(#fblur)"/>
<path d="M244 627.3L242.6 629.5L241.5 631.7L240.7 633.7L240.2 635.8L239.9 637.7L239.8 639.7L239.8 641.5L240.1 643.4L240.5 645.2L241.1 647L241.9 648.7L242.8 650.5L243.8 652.2L244.9 653.9L246.2 655.6L247.5 657.3L249 658.9L250.6 660.6L252.3 662.3L254.1 663.9L256 665.6L257.9 667.2L260 668.9L262.1 670.5" stroke="#ff1208" stroke-width="4.5" opacity="0.9" fill="none" stroke-linecap="round" filter="url(#fblur)"/>
<path d="M281.4 636.2L281.6 636.8L281.7 637.3L281.9 637.8L282.1 638.3L282.3 638.8L282.4 639.3L282.7 639.8L282.9 640.2L283.1 640.7L283.3 641.2L283.6 641.7L283.8 642.2L284.1 642.7L284.4 643.2L284.6 643.7L284.9 644.2L285.2 644.7L285.5 645.1L285.9 645.6L286.2 646.1L286.5 646.6L286.9 647.1L287.2 647.6L287.6 648L287.9 648.5L288.3 649L288.7 649.5L289.1 650L289.5 650.5L289.9 650.9L290.3 651.4L290.7 651.9L291.2 652.4L291.6 652.8L292.1 653.3" stroke="#ff1a10" stroke-width="5.5" opacity="0.8" fill="none" stroke-linecap="round" filter="url(#fblur)"/>
<path d="M211.2 620.9L203.6 625.1L197.8 628.7L193.3 631.9L189.8 634.8L187.1 637.4L185.1 639.7L183.7 642L182.7 644.1L182.1 646L181.8 647.9L181.8 649.7L182.1 651.5L182.6 653.2L183.3 654.8L184.1 656.4L185.1 658L186.3 659.5L187.6 661.1L189 662.6L190.5 664.1L192.2 665.5L193.9 667L195.7 668.5L197.7 669.9L199.7 671.4L201.8 672.9L203.9 674.3L206.2 675.8L208.5 677.3L210.9 678.7L213.3 680.2L215.9 681.7L218.5 683.2L221.1 684.7L223.9 686.2L226.7 687.7L229.5 689.3" stroke="#c00808" stroke-width="18" opacity="0.5" fill="none" stroke-linecap="round" filter="url(#fblur)"/>
<path d="M127 654.4L214.7 621.6M136.9 658.4L224.5 624.2M147.4 662.6L234.7 626.9M158.4 667L245.3 629.7M169.9 671.7L256.3 632.6M182.1 676.6L267.8 635.6M195 681.7L279.8 638.8M208.6 687.2L292.4 642.1M130.6 645.9L235.8 685.6M143 641.5L247.7 678.8M154.7 637.3L258.9 672.4M165.8 633.3L269.4 666.3M176.4 629.5L279.2 660.7M186.5 625.8L288.5 655.4M196.1 622.4L297.2 650.3" stroke="#e8c8c8" stroke-opacity="0.3" stroke-width="0.6" stroke-dasharray="2.6 1" fill="none"/>
</g>
<path d="M110.9 517.6L205.3 502.1M205.3 502.1L311.7 514.3M205.3 502.1L205.3 619.1M311.7 514.3L305.5 645.6M117.5 650.6L223 693M223 693L305.5 645.6" stroke="#111" stroke-width="0.9" fill="none"/>
<path d="M110.9 517.6L117.5 650.6" stroke="#000" stroke-width="1.4"/>
<path d="M110.9 517.6h-3M111.7 534.5h-3M112.6 551.4h-3M113.4 568.3h-3M114.3 585.2h-3M115.1 602.1h-3M115.9 619h-3M116.8 635.9h-3M117.5 650.6l-1.2 2.6M127 654.4l-1.2 2.6M136.9 658.4l-1.2 2.6M147.4 662.6l-1.2 2.6M158.4 667l-1.2 2.6M169.9 671.7l-1.2 2.6M182.1 676.6l-1.2 2.6M195 681.7l-1.2 2.6M208.6 687.2l-1.2 2.6M223 693l-1.2 2.6M223 693l2.4 1.6M235.8 685.6l2.4 1.6M247.7 678.8l2.4 1.6M258.9 672.4l2.4 1.6M269.4 666.3l2.4 1.6M279.2 660.7l2.4 1.6M288.5 655.4l2.4 1.6M297.2 650.3l2.4 1.6M305.5 645.6l2.4 1.6" stroke="#000" stroke-width="0.9" fill="none"/>
<clipPath id="sc1"><polygon points="111.3,517.5 205.8,502.3 211,508.9 221.4,507.5 231.8,507.1 238.7,511.5 243,519.3 246.5,529.7 250.8,519.3 256,514.1 264.7,512.3 273.4,515.8 280.3,522.7 286.4,529.7 290.7,531.4 294.2,524.5 301.1,521 310.6,521 310.6,521.9 303.7,527.9 299.4,536.6 295.9,552.2 293.8,563.5 291.6,547 288.1,544.4 285.9,547 283.4,536.6 280.3,529.7 273.4,532.3 269,540.1 264.7,557.4 261.6,569.9 258.6,560.9 254.3,554.8 249.1,557.4 247.4,567.8 246.2,585.2 245.3,599.9 244.2,585.2 243,567.8 241.3,552.2 238.7,540.1 235.2,538.3 228.3,554.8 204,545.3 169.3,534 134.7,523.6"/></clipPath>
<polygon points="111.3,517.5 205.8,502.3 211,508.9 221.4,507.5 231.8,507.1 238.7,511.5 243,519.3 246.5,529.7 250.8,519.3 256,514.1 264.7,512.3 273.4,515.8 280.3,522.7 286.4,529.7 290.7,531.4 294.2,524.5 301.1,521 310.6,521 310.6,521.9 303.7,527.9 299.4,536.6 295.9,552.2 293.8,563.5 291.6,547 288.1,544.4 285.9,547 283.4,536.6 280.3,529.7 273.4,532.3 269,540.1 264.7,557.4 261.6,569.9 258.6,560.9 254.3,554.8 249.1,557.4 247.4,567.8 246.2,585.2 245.3,599.9 244.2,585.2 243,567.8 241.3,552.2 238.7,540.1 235.2,538.3 228.3,554.8 204,545.3 169.3,534 134.7,523.6" fill="url(#surfD)"/>
<g clip-path="url(#sc1)">
<polygon points="178,521 221.4,514.1 242.2,526.2 228.3,547 197.1,536.6" fill="#5e0000" opacity="0.5" filter="url(#sblur3)"/>
<polygon points="211,508.9 231.8,507.1 238.7,511.5 243,519.3 235.2,529.7 221.4,521" fill="#c40404" opacity="0.6" filter="url(#sblur3)"/>
<polygon points="250.8,519.3 256,514.1 264.7,512.3 273.4,515.8 280.3,522.7 273.4,532.3 269,540.1 261.2,534.9 252.6,529.7" fill="#c40404" opacity="0.6" filter="url(#sblur3)"/>
<polygon points="294.2,524.5 301.1,521 310.6,521 303.7,527.9 299.4,536.6" fill="#c40404" opacity="0.6" filter="url(#sblur3)"/>
<polygon points="238.7,534 243.9,523.6 247.4,530.5 252.6,534.9 264.7,544.4 267.3,552.2 264.7,557.4 261.6,569.9 258.6,560.9 254.3,554.8 249.1,557.4 247.4,567.8 246.2,585.2 245.3,599.9 244.2,585.2 243,567.8 241.3,552.2 239.6,541.8" fill="#fa0808" filter="url(#sblur)"/>
<polygon points="282.9,532.3 286.4,529.7 290.7,531.8 295,535.7 300.2,536.6 295.9,552.2 293.8,563.5 291.6,547 288.1,544.4 285.9,547 283.8,538.3" fill="#fa0808" filter="url(#sblur)"/>
<linearGradient id="spg1" gradientUnits="userSpaceOnUse" x1="0" y1="564.3" x2="0" y2="599.9"><stop offset="0" stop-color="#ff1a10"/><stop offset="0.4" stop-color="#ff8a00"/><stop offset="0.75" stop-color="#ffee00"/><stop offset="1" stop-color="#60e010"/></linearGradient>
<polygon points="243.2,564.3 247.4,564.3 246.2,585.2 245.3,599.9 244.2,585.2" fill="url(#spg1)"/>
</g>
<g font-size="10.5"><text x="107.3" y="521.6" text-anchor="end" transform="rotate(-8 107.3 521.6)">0</text><text x="108.1" y="538.5" text-anchor="end" transform="rotate(-8 108.1 538.5)">-10</text><text x="109" y="555.4" text-anchor="end" transform="rotate(-8 109 555.4)">-20</text><text x="109.8" y="572.3" text-anchor="end" transform="rotate(-8 109.8 572.3)">-30</text><text x="110.7" y="589.2" text-anchor="end" transform="rotate(-8 110.7 589.2)">-40</text><text x="111.5" y="606.1" text-anchor="end" transform="rotate(-8 111.5 606.1)">-50</text><text x="112.3" y="623" text-anchor="end" transform="rotate(-8 112.3 623)">-60</text><text x="113.2" y="639.9" text-anchor="end" transform="rotate(-8 113.2 639.9)">-70</text></g>
<text font-size="12" text-anchor="middle" transform="translate(85.4 592.6) rotate(90)">Reflection Loss (dB)</text>
<g font-size="6.5" font-style="italic"><text transform="translate(112.5 656.6) rotate(25)" text-anchor="middle">1</text><text transform="translate(122 660.4) rotate(25)" text-anchor="middle">2</text><text transform="translate(131.9 664.4) rotate(25)" text-anchor="middle">3</text><text transform="translate(142.4 668.6) rotate(25)" text-anchor="middle">4</text><text transform="translate(153.4 673) rotate(25)" text-anchor="middle">5</text><text transform="translate(164.9 677.7) rotate(25)" text-anchor="middle">6</text><text transform="translate(177.1 682.6) rotate(25)" text-anchor="middle">7</text><text transform="translate(190 687.7) rotate(25)" text-anchor="middle">8</text><text transform="translate(203.6 693.2) rotate(25)" text-anchor="middle">9</text><text transform="translate(218 699) rotate(25)" text-anchor="middle">10</text><text transform="translate(228 697.5) rotate(-32)" text-anchor="middle">2</text><text transform="translate(240.8 690.1) rotate(-32)" text-anchor="middle">4</text><text transform="translate(252.7 683.3) rotate(-32)" text-anchor="middle">6</text><text transform="translate(263.9 676.9) rotate(-32)" text-anchor="middle">8</text><text transform="translate(274.4 670.8) rotate(-32)" text-anchor="middle">10</text><text transform="translate(284.2 665.2) rotate(-32)" text-anchor="middle">12</text><text transform="translate(293.5 659.9) rotate(-32)" text-anchor="middle">14</text><text transform="translate(302.2 654.8) rotate(-32)" text-anchor="middle">16</text><text transform="translate(310.5 650.1) rotate(-32)" text-anchor="middle">18</text></g>
<text font-size="9.6" font-style="italic" text-anchor="middle" transform="translate(148.9 680.2) rotate(22)">Thickness (mm)</text>
<text font-size="9.2" font-style="italic" text-anchor="middle" transform="translate(289.1 676.7) rotate(-30)">Frequency (GHz)</text>
<text x="131.7" y="608.9" font-size="15.9" fill="#111">RL = -50.73 dB</text>
<rect x="321.2" y="510.2" width="11.8" height="127.4" fill="url(#cbar)"/><path d="M333.5 526.1h3" stroke="#888" stroke-width="0.8"/><path d="M333.5 542h3" stroke="#888" stroke-width="0.8"/><path d="M333.5 558h3" stroke="#888" stroke-width="0.8"/><path d="M333.5 573.9h3" stroke="#888" stroke-width="0.8"/><path d="M333.5 589.8h3" stroke="#888" stroke-width="0.8"/><path d="M333.5 605.8h3" stroke="#888" stroke-width="0.8"/><path d="M333.5 621.7h3" stroke="#888" stroke-width="0.8"/><path d="M333.5 637.6h3" stroke="#888" stroke-width="0.8"/><g font-size="10.5"><text x="337.1" y="513.7">0</text><text x="336.6" y="529.6">−10</text><text x="336.6" y="545.5">−20</text><text x="336.6" y="561.4">−30</text><text x="336.6" y="577.4">−40</text><text x="336.6" y="593.3">−50</text><text x="336.6" y="609.2">−60</text><text x="336.6" y="625.1">−70</text><text x="336.6" y="641.1">−80</text></g>
<path d="M404.2 518.7L498.6 503.2L605 515.4M405 535.6L498.6 518.1L604.2 532.1M405.9 552.5L498.6 532.9L603.4 548.8M406.7 569.4L498.6 547.8L602.6 565.5M407.6 586.3L498.6 562.7L601.8 582.1M408.4 603.2L498.6 577.5L601.1 598.8M409.2 620.1L498.6 592.4L600.3 615.5M410.1 637L498.6 607.3L599.5 632.2M414.7 517L420.6 648.2M425.2 515.3L430.3 644.7M435.7 513.5L440.1 641.2M446.2 511.8L449.8 637.7M456.6 510.1L459.6 634.2M467.1 508.4L469.3 630.7M477.6 506.6L479.1 627.2M488.1 504.9L488.8 623.7M511.9 504.7L511.1 623.5M525.2 506.2L523.6 626.8M538.5 507.8L536.2 630.1M551.8 509.3L548.7 633.5M565.1 510.8L561.2 636.8M578.4 512.4L573.8 640.1M591.7 513.9L586.3 643.4" stroke="#e9e9e9" stroke-width="0.7" fill="none"/>
<clipPath id="fc2"><polygon points="410.8,651.7 498.6,620.2 598.8,646.7 516.3,694.1"/></clipPath>
<polygon points="410.8,651.7 498.6,620.2 598.8,646.7 516.3,694.1" fill="url(#floorG)"/>
<g clip-path="url(#fc2)">
<path d="M507.2 621L499.4 625.3L493.4 629L488.7 632.2L485.1 635.1L482.3 637.7L480.2 640.1L478.7 642.4L477.6 644.5L476.9 646.5L476.6 648.4L476.5 650.2L476.7 652L477.2 653.7L477.8 655.4L478.6 657L479.6 658.6L480.7 660.1L481.9 661.7L483.3 663.2L484.8 664.7L486.4 666.2L488.1 667.7L490 669.1L491.9 670.6L493.8 672.1L495.9 673.6L498 675L500.3 676.5L502.6 678L504.9 679.4L507.4 680.9L509.9 682.4L512.5 683.9L515.1 685.4L517.8 686.9L520.6 688.5L523.4 690" stroke="#ff1a10" stroke-width="17" opacity="0.5" fill="none" stroke-linecap="round" filter="url(#fblur)"/>
<path d="M507.2 621L499.4 625.3L493.4 629L488.7 632.2L485.1 635.1L482.3 637.7L480.2 640.1L478.7 642.4L477.6 644.5L476.9 646.5L476.6 648.4L476.5 650.2L476.7 652L477.2 653.7L477.8 655.4L478.6 657L479.6 658.6L480.7 660.1L481.9 661.7L483.3 663.2L484.8 664.7L486.4 666.2L488.1 667.7L490 669.1L491.9 670.6L493.8 672.1L495.9 673.6L498 675L500.3 676.5L502.6 678L504.9 679.4L507.4 680.9L509.9 682.4L512.5 683.9L515.1 685.4L517.8 686.9L520.6 688.5L523.4 690" stroke="#ff2015" stroke-width="9" opacity="0.9" fill="none" stroke-linecap="round" filter="url(#fblur)"/>
<path d="M542.6 629.4L541.6 631.5L540.8 633.6L540.3 635.6L540 637.6L540 639.5L540.1 641.4L540.3 643.2L540.8 645.1L541.4 646.9L542.1 648.6L543 650.4L544 652.1L545.1 653.8L546.4 655.5L547.8 657.2L549.2 658.9L550.8 660.6L552.5 662.2L554.3 663.9L556.1 665.6L558.1 667.2L560.1 668.9" stroke="#b51212" stroke-width="14" opacity="0.5" fill="none" stroke-linecap="round" filter="url(#fblur)"/>
<path d="M420.3 655.5L508 622.7M430.2 659.5L517.8 625.3M440.7 663.7L528 628M451.7 668.1L538.6 630.8M463.2 672.8L549.6 633.7M475.4 677.7L561.1 636.7M488.3 682.8L573.1 639.9M501.9 688.3L585.7 643.2M423.9 647L529.1 686.7M436.3 642.6L541 679.9M448 638.4L552.2 673.5M459.1 634.4L562.7 667.4M469.7 630.6L572.5 661.8M479.8 626.9L581.8 656.5M489.4 623.5L590.5 651.4" stroke="#e8c8c8" stroke-opacity="0.3" stroke-width="0.6" stroke-dasharray="2.6 1" fill="none"/>
</g>
<path d="M404.2 518.7L498.6 503.2M498.6 503.2L605 515.4M498.6 503.2L498.6 620.2M605 515.4L598.8 646.7M410.8 651.7L516.3 694.1M516.3 694.1L598.8 646.7" stroke="#111" stroke-width="0.9" fill="none"/>
<path d="M404.2 518.7L410.8 651.7" stroke="#000" stroke-width="1.4"/>
<path d="M404.2 518.7h-3M405 535.6h-3M405.9 552.5h-3M406.7 569.4h-3M407.6 586.3h-3M408.4 603.2h-3M409.2 620.1h-3M410.1 637h-3M410.8 651.7l-1.2 2.6M420.3 655.5l-1.2 2.6M430.2 659.5l-1.2 2.6M440.7 663.7l-1.2 2.6M451.7 668.1l-1.2 2.6M463.2 672.8l-1.2 2.6M475.4 677.7l-1.2 2.6M488.3 682.8l-1.2 2.6M501.9 688.3l-1.2 2.6M516.3 694.1l-1.2 2.6M516.3 694.1l2.4 1.6M529.1 686.7l2.4 1.6M541 679.9l2.4 1.6M552.2 673.5l2.4 1.6M562.7 667.4l2.4 1.6M572.5 661.8l2.4 1.6M581.8 656.5l2.4 1.6M590.5 651.4l2.4 1.6M598.8 646.7l2.4 1.6" stroke="#000" stroke-width="0.9" fill="none"/>
<clipPath id="sc2"><polygon points="404.5,518.4 498.7,503.3 498.7,506.3 503.4,512.3 505.1,520.7 512.9,517.5 523.3,514.1 533.7,515.8 544.1,521.9 554.5,524.1 568.4,523.6 585.7,526.2 603.9,529.3 603.9,530 585.7,534 568.4,539.2 558,541.5 547.6,539.2 537.2,540.9 528.5,547 523.3,553.9 519,565.2 506,562.6 488.6,558.3 476.5,553.1 469.5,543.5 464.3,534.9 447,528.8 421,522.4"/></clipPath>
<polygon points="404.5,518.4 498.7,503.3 498.7,506.3 503.4,512.3 505.1,520.7 512.9,517.5 523.3,514.1 533.7,515.8 544.1,521.9 554.5,524.1 568.4,523.6 585.7,526.2 603.9,529.3 603.9,530 585.7,534 568.4,539.2 558,541.5 547.6,539.2 537.2,540.9 528.5,547 523.3,553.9 519,565.2 506,562.6 488.6,558.3 476.5,553.1 469.5,543.5 464.3,534.9 447,528.8 421,522.4" fill="url(#surfD)"/>
<g clip-path="url(#sc2)">
<polygon points="499,529.7 526.8,521 544.1,529.7 526.8,545.3 506,541.8" fill="#5e0000" opacity="0.5" filter="url(#sblur3)"/>
<polygon points="506,521 523.3,514.4 533.7,515.8 544.1,521.9 530.2,529.7 516.4,529.7" fill="#c40404" opacity="0.6" filter="url(#sblur3)"/>
<polygon points="551,524.5 568.4,523.6 585.7,526.2 603.9,529.3 585.7,534 568.4,539.2 558,541.5 547.6,539.2" fill="#c40404" opacity="0.6" filter="url(#sblur3)"/>
<polygon points="466.1,534 485.2,526.2 504.2,520.7 492.1,529.7 483.4,538.3 499,545.3 521.6,555.7 519,565.2 506,562.6 488.6,558.3 476.5,553.1 469.5,543.5" fill="#fa0808" filter="url(#sblur)"/>
</g>
<g font-size="10.5"><text x="400.6" y="522.7" text-anchor="end" transform="rotate(-8 400.6 522.7)">0</text><text x="401.4" y="539.6" text-anchor="end" transform="rotate(-8 401.4 539.6)">-10</text><text x="402.3" y="556.5" text-anchor="end" transform="rotate(-8 402.3 556.5)">-20</text><text x="403.1" y="573.4" text-anchor="end" transform="rotate(-8 403.1 573.4)">-30</text><text x="404" y="590.3" text-anchor="end" transform="rotate(-8 404 590.3)">-40</text><text x="404.8" y="607.2" text-anchor="end" transform="rotate(-8 404.8 607.2)">-50</text><text x="405.6" y="624.1" text-anchor="end" transform="rotate(-8 405.6 624.1)">-60</text><text x="406.5" y="641" text-anchor="end" transform="rotate(-8 406.5 641)">-70</text></g>
<text font-size="12" text-anchor="middle" transform="translate(378.7 593.7) rotate(90)">Reflection Loss (dB)</text>
<g font-size="6.5" font-style="italic"><text transform="translate(405.8 657.7) rotate(25)" text-anchor="middle">1</text><text transform="translate(415.3 661.5) rotate(25)" text-anchor="middle">2</text><text transform="translate(425.2 665.5) rotate(25)" text-anchor="middle">3</text><text transform="translate(435.7 669.7) rotate(25)" text-anchor="middle">4</text><text transform="translate(446.7 674.1) rotate(25)" text-anchor="middle">5</text><text transform="translate(458.2 678.8) rotate(25)" text-anchor="middle">6</text><text transform="translate(470.4 683.7) rotate(25)" text-anchor="middle">7</text><text transform="translate(483.3 688.8) rotate(25)" text-anchor="middle">8</text><text transform="translate(496.9 694.3) rotate(25)" text-anchor="middle">9</text><text transform="translate(511.3 700.1) rotate(25)" text-anchor="middle">10</text><text transform="translate(521.3 698.6) rotate(-32)" text-anchor="middle">2</text><text transform="translate(534.1 691.2) rotate(-32)" text-anchor="middle">4</text><text transform="translate(546 684.4) rotate(-32)" text-anchor="middle">6</text><text transform="translate(557.2 678) rotate(-32)" text-anchor="middle">8</text><text transform="translate(567.7 671.9) rotate(-32)" text-anchor="middle">10</text><text transform="translate(577.5 666.3) rotate(-32)" text-anchor="middle">12</text><text transform="translate(586.8 661) rotate(-32)" text-anchor="middle">14</text><text transform="translate(595.5 655.9) rotate(-32)" text-anchor="middle">16</text><text transform="translate(603.8 651.2) rotate(-32)" text-anchor="middle">18</text></g>
<text font-size="9.6" font-style="italic" text-anchor="middle" transform="translate(442.2 681.3) rotate(22)">Thickness (mm)</text>
<text font-size="9.2" font-style="italic" text-anchor="middle" transform="translate(582.4 677.8) rotate(-30)">Frequency (GHz)</text>
<text x="437.2" y="610.7" font-size="15.9" fill="#111">RL = -30.37 dB</text>
<rect x="614.5" y="511.3" width="11.8" height="127.4" fill="url(#cbar)"/><path d="M626.8 527.2h3" stroke="#888" stroke-width="0.8"/><path d="M626.8 543.1h3" stroke="#888" stroke-width="0.8"/><path d="M626.8 559.1h3" stroke="#888" stroke-width="0.8"/><path d="M626.8 575h3" stroke="#888" stroke-width="0.8"/><path d="M626.8 590.9h3" stroke="#888" stroke-width="0.8"/><path d="M626.8 606.9h3" stroke="#888" stroke-width="0.8"/><path d="M626.8 622.8h3" stroke="#888" stroke-width="0.8"/><path d="M626.8 638.7h3" stroke="#888" stroke-width="0.8"/><g font-size="10.5"><text x="630.4" y="514.8">0</text><text x="629.9" y="530.7">−10</text><text x="629.9" y="546.6">−20</text><text x="629.9" y="562.5">−30</text><text x="629.9" y="578.5">−40</text><text x="629.9" y="594.4">−50</text><text x="629.9" y="610.3">−60</text><text x="629.9" y="626.2">−70</text><text x="629.9" y="642.2">−80</text></g>
<path d="M690.2 516.5L784.6 501L891 513.2M691 533.4L784.6 515.9L890.2 529.9M691.9 550.3L784.6 530.7L889.4 546.6M692.7 567.2L784.6 545.6L888.6 563.3M693.6 584.1L784.6 560.5L887.8 579.9M694.4 601L784.6 575.3L887.1 596.6M695.2 617.9L784.6 590.2L886.3 613.3M696.1 634.8L784.6 605.1L885.5 630M700.7 514.8L706.6 646M711.2 513.1L716.3 642.5M721.7 511.3L726.1 639M732.2 509.6L735.8 635.5M742.6 507.9L745.6 632M753.1 506.2L755.3 628.5M763.6 504.4L765.1 625M774.1 502.7L774.8 621.5M797.9 502.5L797.1 621.3M811.2 504L809.6 624.6M824.5 505.6L822.2 627.9M837.8 507.1L834.7 631.2M851.1 508.6L847.2 634.6M864.4 510.1L859.8 637.9M877.7 511.7L872.3 641.2" stroke="#e9e9e9" stroke-width="0.7" fill="none"/>
<clipPath id="fc3"><polygon points="696.8,649.5 784.6,618 884.8,644.5 802.3,691.9"/></clipPath>
<polygon points="696.8,649.5 784.6,618 884.8,644.5 802.3,691.9" fill="url(#floorG)"/>
<g clip-path="url(#fc3)">
<path d="M787.8 620.8L780.4 624.9L774.8 628.5L770.4 631.6L767.1 634.4L764.5 637L762.6 639.3L761.3 641.5L760.4 643.6L759.9 645.5L759.6 647.4L759.7 649.2L760 650.9L760.6 652.6L761.3 654.2L762.2 655.8L763.3 657.4L764.5 658.9L765.8 660.4L767.3 661.9L768.8 663.4L770.5 664.9L772.3 666.4L774.1 667.8L776.1 669.3L778.1 670.7L780.2 672.2L782.4 673.6L784.7 675.1L787 676.6L789.4 678L791.9 679.5L794.5 681L797.1 682.5L799.7 684L802.5 685.5L805.3 687L808.2 688.5" stroke="#ff1a10" stroke-width="9" opacity="0.5" fill="none" stroke-linecap="round" filter="url(#fblur)"/>
<path d="M787.8 620.8L780.4 624.9L774.8 628.5L770.4 631.6L767.1 634.4L764.5 637L762.6 639.3L761.3 641.5L760.4 643.6L759.9 645.5L759.6 647.4L759.7 649.2L760 650.9L760.6 652.6L761.3 654.2L762.2 655.8L763.3 657.4L764.5 658.9L765.8 660.4L767.3 661.9L768.8 663.4L770.5 664.9L772.3 666.4L774.1 667.8L776.1 669.3L778.1 670.7L780.2 672.2L782.4 673.6L784.7 675.1L787 676.6L789.4 678L791.9 679.5L794.5 681L797.1 682.5L799.7 684L802.5 685.5L805.3 687L808.2 688.5" stroke="#ff2015" stroke-width="3.5" opacity="0.8" fill="none" stroke-linecap="round" filter="url(#fblur)"/>
<path d="M765.1 659.6L765.3 659.8L765.5 660.1L765.7 660.3L765.9 660.5L766.1 660.8L766.3 661L766.6 661.2L766.8 661.5L767 661.7L767.3 661.9L767.5 662.2L767.7 662.4L768 662.6L768.2 662.9L768.5 663.1L768.7 663.3L769 663.5L769.2 663.8L769.5 664L769.7 664.2L770 664.5L770.3 664.7L770.5 664.9L770.8 665.2L771.1 665.4L771.3 665.6L771.6 665.8L771.9 666.1L772.2 666.3L772.5 666.5L772.8 666.7L773 667L773.3 667.2L773.6 667.4L773.9 667.7L774.2 667.9L774.5 668.1L774.8 668.3L775.1 668.6L775.4 668.8" stroke="#ffd000" stroke-width="1.6" opacity="1" fill="none" stroke-linecap="round" filter="url(#fblur)"/>
<path d="M831.6 627.6L830.8 629.7L830.2 631.7L829.8 633.7L829.6 635.6L829.7 637.5L829.9 639.4L830.2 641.2L830.7 643L831.4 644.8L832.2 646.6L833.1 648.3L834.2 650.1L835.4 651.8L836.7 653.5L838.1 655.2L839.6 656.9L841.2 658.5L843 660.2L844.8 661.9L846.7 663.6L848.7 665.2" stroke="#c81414" stroke-width="7" opacity="0.6" fill="none" stroke-linecap="round" filter="url(#fblur)"/>
<path d="M706.3 653.3L794 620.5M716.2 657.3L803.8 623.1M726.7 661.5L814 625.8M737.7 665.9L824.6 628.6M749.2 670.6L835.6 631.5M761.4 675.5L847.1 634.5M774.3 680.6L859.1 637.7M787.9 686.1L871.7 641M709.9 644.8L815.1 684.5M722.3 640.4L827 677.7M734 636.2L838.2 671.3M745.1 632.2L848.7 665.2M755.7 628.4L858.5 659.6M765.8 624.7L867.8 654.3M775.4 621.3L876.5 649.2" stroke="#e8c8c8" stroke-opacity="0.3" stroke-width="0.6" stroke-dasharray="2.6 1" fill="none"/>
</g>
<path d="M690.2 516.5L784.6 501M784.6 501L891 513.2M784.6 501L784.6 618M891 513.2L884.8 644.5M696.8 649.5L802.3 691.9M802.3 691.9L884.8 644.5" stroke="#111" stroke-width="0.9" fill="none"/>
<path d="M690.2 516.5L696.8 649.5" stroke="#000" stroke-width="1.4"/>
<path d="M690.2 516.5h-3M691 533.4h-3M691.9 550.3h-3M692.7 567.2h-3M693.6 584.1h-3M694.4 601h-3M695.2 617.9h-3M696.1 634.8h-3M696.8 649.5l-1.2 2.6M706.3 653.3l-1.2 2.6M716.2 657.3l-1.2 2.6M726.7 661.5l-1.2 2.6M737.7 665.9l-1.2 2.6M749.2 670.6l-1.2 2.6M761.4 675.5l-1.2 2.6M774.3 680.6l-1.2 2.6M787.9 686.1l-1.2 2.6M802.3 691.9l-1.2 2.6M802.3 691.9l2.4 1.6M815.1 684.5l2.4 1.6M827 677.7l2.4 1.6M838.2 671.3l2.4 1.6M848.7 665.2l2.4 1.6M858.5 659.6l2.4 1.6M867.8 654.3l2.4 1.6M876.5 649.2l2.4 1.6M884.8 644.5l2.4 1.6" stroke="#000" stroke-width="0.9" fill="none"/>
<clipPath id="sc3"><polygon points="690.7,516.4 784.4,501.8 784.4,505.6 789.2,514.3 797.9,511.7 806.6,509.9 813.5,512.5 820.4,521.2 826.5,530.7 832.6,523.8 841.2,520.3 851.6,522.1 862,529 872.4,531.6 881.1,528.1 890.1,527.3 890.1,528.5 879.4,532.5 870.7,533.3 860.3,531.6 851.6,535.1 844.7,542 839.5,545.1 832.6,540.3 827.4,535.1 818.7,540.3 811.8,547.2 808.3,555.9 806.2,570.6 792.7,572.4 777.1,574.6 766.7,575.8 764.1,583.6 761.8,601 760.1,621.8 759.4,639.1 758.9,621.8 758.4,601 758,583.6 757.1,571.5 754.5,555.9 751.1,540.3 746.7,530.7 738.9,526.4 714.7,521.2"/></clipPath>
<polygon points="690.7,516.4 784.4,501.8 784.4,505.6 789.2,514.3 797.9,511.7 806.6,509.9 813.5,512.5 820.4,521.2 826.5,530.7 832.6,523.8 841.2,520.3 851.6,522.1 862,529 872.4,531.6 881.1,528.1 890.1,527.3 890.1,528.5 879.4,532.5 870.7,533.3 860.3,531.6 851.6,535.1 844.7,542 839.5,545.1 832.6,540.3 827.4,535.1 818.7,540.3 811.8,547.2 808.3,555.9 806.2,570.6 792.7,572.4 777.1,574.6 766.7,575.8 764.1,583.6 761.8,601 760.1,621.8 759.4,639.1 758.9,621.8 758.4,601 758,583.6 757.1,571.5 754.5,555.9 751.1,540.3 746.7,530.7 738.9,526.4 714.7,521.2" fill="url(#surfD)"/>
<g clip-path="url(#sc3)">
<polygon points="777.1,526.4 804.8,514.3 818.7,524.7 808.3,542 787.5,536.8" fill="#5e0000" opacity="0.5" filter="url(#sblur3)"/>
<polygon points="791,514.3 806.6,509.9 813.5,512.5 820.4,521.2 808.3,528.1 797.9,524.7" fill="#c40404" opacity="0.6" filter="url(#sblur3)"/>
<polygon points="832.6,523.8 841.2,520.3 851.6,522.1 862,529 872.4,531.6 881.1,528.1 890.1,527.3 879.4,532.5 860.3,531.6 851.6,535.1 844.7,542" fill="#c40404" opacity="0.6" filter="url(#sblur3)"/>
<polygon points="747.6,531.6 754.5,530.2 763.2,533.3 784,542 808.3,554.1 806.2,570.6 792.7,572.4 777.1,574.6 766.7,575.8 757.1,571.5 754.5,555.9 751.1,540.3" fill="#fa0808" filter="url(#sblur)"/>
<polygon points="818.7,524.7 826.5,531.6 829.1,535.9 839.5,545.1 844.7,542 836,535.1 830.8,527.3" fill="#fa0808" filter="url(#sblur)"/>
<linearGradient id="spg3" gradientUnits="userSpaceOnUse" x1="0" y1="573.2" x2="0" y2="639.1"><stop offset="0" stop-color="#ff1a10"/><stop offset="0.22" stop-color="#ff7a00"/><stop offset="0.42" stop-color="#ffe800"/><stop offset="0.6" stop-color="#40e010"/><stop offset="0.78" stop-color="#00d8e8"/><stop offset="1" stop-color="#1030ff"/></linearGradient>
<polygon points="757,570.6 767,575.8 764.1,583.6 761.8,601 760.1,621.8 759.4,639.1 758.9,621.8 758.4,601 758,583.6" fill="url(#spg3)"/>
</g>
<g font-size="10.5"><text x="686.6" y="520.5" text-anchor="end" transform="rotate(-8 686.6 520.5)">0</text><text x="687.4" y="537.4" text-anchor="end" transform="rotate(-8 687.4 537.4)">-10</text><text x="688.3" y="554.3" text-anchor="end" transform="rotate(-8 688.3 554.3)">-20</text><text x="689.1" y="571.2" text-anchor="end" transform="rotate(-8 689.1 571.2)">-30</text><text x="690" y="588.1" text-anchor="end" transform="rotate(-8 690 588.1)">-40</text><text x="690.8" y="605" text-anchor="end" transform="rotate(-8 690.8 605)">-50</text><text x="691.6" y="621.9" text-anchor="end" transform="rotate(-8 691.6 621.9)">-60</text><text x="692.5" y="638.8" text-anchor="end" transform="rotate(-8 692.5 638.8)">-70</text></g>
<text font-size="12" text-anchor="middle" transform="translate(664.7 591.5) rotate(90)">Reflection Loss (dB)</text>
<g font-size="6.5" font-style="italic"><text transform="translate(691.8 655.5) rotate(25)" text-anchor="middle">1</text><text transform="translate(701.3 659.3) rotate(25)" text-anchor="middle">2</text><text transform="translate(711.2 663.3) rotate(25)" text-anchor="middle">3</text><text transform="translate(721.7 667.5) rotate(25)" text-anchor="middle">4</text><text transform="translate(732.7 671.9) rotate(25)" text-anchor="middle">5</text><text transform="translate(744.2 676.6) rotate(25)" text-anchor="middle">6</text><text transform="translate(756.4 681.5) rotate(25)" text-anchor="middle">7</text><text transform="translate(769.3 686.6) rotate(25)" text-anchor="middle">8</text><text transform="translate(782.9 692.1) rotate(25)" text-anchor="middle">9</text><text transform="translate(797.3 697.9) rotate(25)" text-anchor="middle">10</text><text transform="translate(807.3 696.4) rotate(-32)" text-anchor="middle">2</text><text transform="translate(820.1 689) rotate(-32)" text-anchor="middle">4</text><text transform="translate(832 682.2) rotate(-32)" text-anchor="middle">6</text><text transform="translate(843.2 675.8) rotate(-32)" text-anchor="middle">8</text><text transform="translate(853.7 669.7) rotate(-32)" text-anchor="middle">10</text><text transform="translate(863.5 664.1) rotate(-32)" text-anchor="middle">12</text><text transform="translate(872.8 658.8) rotate(-32)" text-anchor="middle">14</text><text transform="translate(881.5 653.7) rotate(-32)" text-anchor="middle">16</text><text transform="translate(889.8 649) rotate(-32)" text-anchor="middle">18</text></g>
<text font-size="9.6" font-style="italic" text-anchor="middle" transform="translate(728.2 679.1) rotate(22)">Thickness (mm)</text>
<text font-size="9.2" font-style="italic" text-anchor="middle" transform="translate(868.4 675.6) rotate(-30)">Frequency (GHz)</text>
<text x="729.4" y="608" font-size="15.9" fill="#f01218">RL = -72.14 dB</text>
<rect x="900.5" y="509.1" width="11.8" height="127.4" fill="url(#cbar)"/><path d="M912.8 525h3" stroke="#888" stroke-width="0.8"/><path d="M912.8 540.9h3" stroke="#888" stroke-width="0.8"/><path d="M912.8 556.9h3" stroke="#888" stroke-width="0.8"/><path d="M912.8 572.8h3" stroke="#888" stroke-width="0.8"/><path d="M912.8 588.7h3" stroke="#888" stroke-width="0.8"/><path d="M912.8 604.6h3" stroke="#888" stroke-width="0.8"/><path d="M912.8 620.6h3" stroke="#888" stroke-width="0.8"/><path d="M912.8 636.5h3" stroke="#888" stroke-width="0.8"/><g font-size="10.5"><text x="916.4" y="512.6">0</text><text x="915.9" y="528.5">−10</text><text x="915.9" y="544.4">−20</text><text x="915.9" y="560.3">−30</text><text x="915.9" y="576.3">−40</text><text x="915.9" y="592.2">−50</text><text x="915.9" y="608.1">−60</text><text x="915.9" y="624">−70</text><text x="915.9" y="640">−80</text></g>
<path d="M976.5 516.5L1070.9 501L1177.3 513.2M977.3 533.4L1070.9 515.9L1176.5 529.9M978.2 550.3L1070.9 530.7L1175.7 546.6M979 567.2L1070.9 545.6L1174.9 563.3M979.9 584.1L1070.9 560.5L1174.1 579.9M980.7 601L1070.9 575.3L1173.4 596.6M981.5 617.9L1070.9 590.2L1172.6 613.3M982.4 634.8L1070.9 605.1L1171.8 630M987 514.8L992.9 646M997.5 513.1L1002.6 642.5M1008 511.3L1012.4 639M1018.5 509.6L1022.1 635.5M1028.9 507.9L1031.9 632M1039.4 506.2L1041.6 628.5M1049.9 504.4L1051.4 625M1060.4 502.7L1061.1 621.5M1084.2 502.5L1083.4 621.3M1097.5 504L1096 624.6M1110.8 505.6L1108.5 627.9M1124.1 507.1L1121 631.2M1137.4 508.6L1133.5 634.6M1150.7 510.1L1146 637.9M1164 511.7L1158.6 641.2" stroke="#e9e9e9" stroke-width="0.7" fill="none"/>
<clipPath id="fc4"><polygon points="983.1,649.5 1070.9,618 1171.1,644.5 1088.6,691.9"/></clipPath>
<polygon points="983.1,649.5 1070.9,618 1171.1,644.5 1088.6,691.9" fill="url(#floorG)"/>
<g clip-path="url(#fc4)">
<path d="M1079.5 618.8L1071.7 623.1L1065.7 626.8L1061 630L1057.4 632.9L1054.6 635.5L1052.5 637.9L1051 640.2L1049.9 642.3L1049.2 644.3L1048.9 646.2L1048.8 648L1049 649.8L1049.5 651.5L1050.1 653.2L1050.9 654.8L1051.9 656.4L1053 657.9L1054.2 659.5L1055.6 661L1057.1 662.5L1058.7 664L1060.4 665.5L1062.3 666.9L1064.2 668.4L1066.1 669.9L1068.2 671.4L1070.3 672.8L1072.6 674.3L1074.9 675.8L1077.2 677.2L1079.7 678.7L1082.2 680.2L1084.8 681.7L1087.4 683.2L1090.1 684.7L1092.9 686.3L1095.7 687.8" stroke="#ff1a10" stroke-width="10" opacity="0.5" fill="none" stroke-linecap="round" filter="url(#fblur)"/>
<path d="M1079.5 618.8L1071.7 623.1L1065.7 626.8L1061 630L1057.4 632.9L1054.6 635.5L1052.5 637.9L1051 640.2L1049.9 642.3L1049.2 644.3L1048.9 646.2L1048.8 648L1049 649.8L1049.5 651.5L1050.1 653.2L1050.9 654.8L1051.9 656.4L1053 657.9L1054.2 659.5L1055.6 661L1057.1 662.5L1058.7 664L1060.4 665.5L1062.3 666.9L1064.2 668.4L1066.1 669.9L1068.2 671.4L1070.3 672.8L1072.6 674.3L1074.9 675.8L1077.2 677.2L1079.7 678.7L1082.2 680.2L1084.8 681.7L1087.4 683.2L1090.1 684.7L1092.9 686.3L1095.7 687.8" stroke="#ff2015" stroke-width="4.5" opacity="0.8" fill="none" stroke-linecap="round" filter="url(#fblur)"/>
<path d="M1117.9 627.6L1117.1 629.7L1116.5 631.7L1116.1 633.7L1115.9 635.6L1116 637.5L1116.2 639.4L1116.5 641.2L1117 643L1117.7 644.8L1118.5 646.6L1119.4 648.3L1120.5 650.1L1121.7 651.8L1123 653.5L1124.4 655.2L1125.9 656.9L1127.5 658.5L1129.3 660.2L1131.1 661.9L1133 663.6L1135 665.2" stroke="#e01a1a" stroke-width="6" opacity="0.6" fill="none" stroke-linecap="round" filter="url(#fblur)"/>
<path d="M992.6 653.3L1080.3 620.5M1002.5 657.3L1090.1 623.1M1013 661.5L1100.3 625.8M1024 665.9L1110.9 628.6M1035.5 670.6L1121.9 631.5M1047.7 675.5L1133.4 634.5M1060.6 680.6L1145.4 637.7M1074.2 686.1L1158 641M996.2 644.8L1101.4 684.5M1008.6 640.4L1113.3 677.7M1020.3 636.2L1124.5 671.3M1031.4 632.2L1135 665.2M1042 628.4L1144.8 659.6M1052.1 624.7L1154.1 654.3M1061.7 621.3L1162.8 649.2" stroke="#e8c8c8" stroke-opacity="0.3" stroke-width="0.6" stroke-dasharray="2.6 1" fill="none"/>
</g>
<path d="M976.5 516.5L1070.9 501M1070.9 501L1177.3 513.2M1070.9 501L1070.9 618M1177.3 513.2L1171.1 644.5M983.1 649.5L1088.6 691.9M1088.6 691.9L1171.1 644.5" stroke="#111" stroke-width="0.9" fill="none"/>
<path d="M976.5 516.5L983.1 649.5" stroke="#000" stroke-width="1.4"/>
<path d="M976.5 516.5h-3M977.3 533.4h-3M978.2 550.3h-3M979 567.2h-3M979.9 584.1h-3M980.7 601h-3M981.5 617.9h-3M982.4 634.8h-3M983.1 649.5l-1.2 2.6M992.6 653.3l-1.2 2.6M1002.5 657.3l-1.2 2.6M1013 661.5l-1.2 2.6M1024 665.9l-1.2 2.6M1035.5 670.6l-1.2 2.6M1047.7 675.5l-1.2 2.6M1060.6 680.6l-1.2 2.6M1074.2 686.1l-1.2 2.6M1088.6 691.9l-1.2 2.6M1088.6 691.9l2.4 1.6M1101.4 684.5l2.4 1.6M1113.3 677.7l2.4 1.6M1124.5 671.3l2.4 1.6M1135 665.2l2.4 1.6M1144.8 659.6l2.4 1.6M1154.1 654.3l2.4 1.6M1162.8 649.2l2.4 1.6M1171.1 644.5l2.4 1.6" stroke="#000" stroke-width="0.9" fill="none"/>
<clipPath id="sc4"><polygon points="976.3,516.4 1071.1,501.1 1071.1,502.1 1075.1,513.4 1086.4,510.8 1096.8,509.4 1103.7,512.5 1110.6,522.1 1117.6,520.3 1129.7,517.7 1140.1,519.5 1150.5,524.7 1160.9,527.3 1175.6,525.5 1175.6,526.1 1160.9,531.6 1148.8,530.7 1138.4,534.2 1131.4,540.3 1126.2,547.2 1117.6,541.1 1112.4,535.9 1103.7,539.4 1097.6,547.2 1094.2,559.3 1091.2,585 1082.9,576.7 1069,566.3 1055.2,559.3 1046.5,550.7 1041.3,542 1036.1,531.6 1030.9,527.3 999.7,521.2"/></clipPath>
<polygon points="976.3,516.4 1071.1,501.1 1071.1,502.1 1075.1,513.4 1086.4,510.8 1096.8,509.4 1103.7,512.5 1110.6,522.1 1117.6,520.3 1129.7,517.7 1140.1,519.5 1150.5,524.7 1160.9,527.3 1175.6,525.5 1175.6,526.1 1160.9,531.6 1148.8,530.7 1138.4,534.2 1131.4,540.3 1126.2,547.2 1117.6,541.1 1112.4,535.9 1103.7,539.4 1097.6,547.2 1094.2,559.3 1091.2,585 1082.9,576.7 1069,566.3 1055.2,559.3 1046.5,550.7 1041.3,542 1036.1,531.6 1030.9,527.3 999.7,521.2" fill="url(#surfD)"/>
<g clip-path="url(#sc4)">
<polygon points="1062.1,524.7 1089.8,514.3 1103.7,522.9 1093.3,540.3 1072.5,535.1" fill="#5e0000" opacity="0.5" filter="url(#sblur3)"/>
<polygon points="1076,513.4 1096.8,509.4 1103.7,512.5 1110.6,522.1 1096.8,528.1 1084.6,524.7" fill="#c40404" opacity="0.6" filter="url(#sblur3)"/>
<polygon points="1117.6,520.3 1129.7,517.7 1140.1,519.5 1150.5,524.7 1160.9,527.3 1175.6,525.5 1160.9,531.6 1148.8,530.7 1138.4,534.2 1131.4,540.3" fill="#c40404" opacity="0.6" filter="url(#sblur3)"/>
<polygon points="1034.3,530.2 1039.5,529.5 1048.2,532.5 1069,542 1095,554.1 1094.2,559.3 1091.2,585 1082.9,576.7 1069,566.3 1055.2,559.3 1046.5,550.7 1041.3,542" fill="#fa0808" filter="url(#sblur)"/>
<polygon points="1107.2,527.3 1112.4,535.9 1117.6,541.1 1126.2,547.2 1129.7,542 1121,536.8 1114.1,529" fill="#fa0808" filter="url(#sblur)"/>
</g>
<g font-size="10.5"><text x="972.9" y="520.5" text-anchor="end" transform="rotate(-8 972.9 520.5)">0</text><text x="973.7" y="537.4" text-anchor="end" transform="rotate(-8 973.7 537.4)">-10</text><text x="974.6" y="554.3" text-anchor="end" transform="rotate(-8 974.6 554.3)">-20</text><text x="975.4" y="571.2" text-anchor="end" transform="rotate(-8 975.4 571.2)">-30</text><text x="976.3" y="588.1" text-anchor="end" transform="rotate(-8 976.3 588.1)">-40</text><text x="977.1" y="605" text-anchor="end" transform="rotate(-8 977.1 605)">-50</text><text x="977.9" y="621.9" text-anchor="end" transform="rotate(-8 977.9 621.9)">-60</text><text x="978.8" y="638.8" text-anchor="end" transform="rotate(-8 978.8 638.8)">-70</text></g>
<text font-size="12" text-anchor="middle" transform="translate(951 591.5) rotate(90)">Reflection Loss (dB)</text>
<g font-size="6.5" font-style="italic"><text transform="translate(978.1 655.5) rotate(25)" text-anchor="middle">1</text><text transform="translate(987.6 659.3) rotate(25)" text-anchor="middle">2</text><text transform="translate(997.5 663.3) rotate(25)" text-anchor="middle">3</text><text transform="translate(1008 667.5) rotate(25)" text-anchor="middle">4</text><text transform="translate(1019 671.9) rotate(25)" text-anchor="middle">5</text><text transform="translate(1030.5 676.6) rotate(25)" text-anchor="middle">6</text><text transform="translate(1042.7 681.5) rotate(25)" text-anchor="middle">7</text><text transform="translate(1055.6 686.6) rotate(25)" text-anchor="middle">8</text><text transform="translate(1069.2 692.1) rotate(25)" text-anchor="middle">9</text><text transform="translate(1083.6 697.9) rotate(25)" text-anchor="middle">10</text><text transform="translate(1093.6 696.4) rotate(-32)" text-anchor="middle">2</text><text transform="translate(1106.4 689) rotate(-32)" text-anchor="middle">4</text><text transform="translate(1118.3 682.2) rotate(-32)" text-anchor="middle">6</text><text transform="translate(1129.5 675.8) rotate(-32)" text-anchor="middle">8</text><text transform="translate(1140 669.7) rotate(-32)" text-anchor="middle">10</text><text transform="translate(1149.8 664.1) rotate(-32)" text-anchor="middle">12</text><text transform="translate(1159.1 658.8) rotate(-32)" text-anchor="middle">14</text><text transform="translate(1167.8 653.7) rotate(-32)" text-anchor="middle">16</text><text transform="translate(1176.1 649) rotate(-32)" text-anchor="middle">18</text></g>
<text font-size="9.6" font-style="italic" text-anchor="middle" transform="translate(1014.5 679.1) rotate(22)">Thickness (mm)</text>
<text font-size="9.2" font-style="italic" text-anchor="middle" transform="translate(1154.7 675.6) rotate(-30)">Frequency (GHz)</text>
<text x="1009.6" y="605.8" font-size="15.9" fill="#111">RL = -25.41 dB</text>
<rect x="1186.8" y="509.1" width="11.8" height="127.4" fill="url(#cbar)"/><path d="M1199.1 525h3" stroke="#888" stroke-width="0.8"/><path d="M1199.1 540.9h3" stroke="#888" stroke-width="0.8"/><path d="M1199.1 556.9h3" stroke="#888" stroke-width="0.8"/><path d="M1199.1 572.8h3" stroke="#888" stroke-width="0.8"/><path d="M1199.1 588.7h3" stroke="#888" stroke-width="0.8"/><path d="M1199.1 604.6h3" stroke="#888" stroke-width="0.8"/><path d="M1199.1 620.6h3" stroke="#888" stroke-width="0.8"/><path d="M1199.1 636.5h3" stroke="#888" stroke-width="0.8"/><g font-size="10.5"><text x="1202.7" y="512.6">0</text><text x="1202.2" y="528.5">−10</text><text x="1202.2" y="544.4">−20</text><text x="1202.2" y="560.3">−30</text><text x="1202.2" y="576.3">−40</text><text x="1202.2" y="592.2">−50</text><text x="1202.2" y="608.1">−60</text><text x="1202.2" y="624">−70</text><text x="1202.2" y="640">−80</text></g>
<text x="19.5" y="829.5" font-size="27.3">(d)</text>
<text x="192.1" y="809.4" font-size="20.5">Ni/NiO</text>
<text x="448.8" y="811.7" font-size="20.6">Ni/NiO@PPy-1</text>
<text x="721.3" y="811.7" font-size="20.6">Ni/NiO@PPy-2</text>
<text x="1012" y="809.4" font-size="20.6">Ni/NiO@PPy-3</text>
<clipPath id="rc1"><rect x="98.5" y="818.1" width="270.3" height="216.4"/></clipPath>
<rect x="98.5" y="818.1" width="270.3" height="216.4" fill="url(#rcsbg)"/>
<g clip-path="url(#rc1)">
<rect x="306.6" y="818.1" width="62.2" height="152.4" fill="#fff"/>
<rect x="353.3" y="832.3" width="8.7" height="6.6" fill="#ff0000"/>
<rect x="353.3" y="838.6" width="8.7" height="6.6" fill="#ff2a00"/>
<rect x="353.3" y="844.8" width="8.7" height="6.6" fill="#ff5500"/>
<rect x="353.3" y="851.1" width="8.7" height="6.6" fill="#ff8000"/>
<rect x="353.3" y="857.4" width="8.7" height="6.6" fill="#ffaa00"/>
<rect x="353.3" y="863.7" width="8.7" height="6.6" fill="#ffd500"/>
<rect x="353.3" y="869.9" width="8.7" height="6.6" fill="#ffff00"/>
<rect x="353.3" y="876.2" width="8.7" height="6.6" fill="#d4ff00"/>
<rect x="353.3" y="882.5" width="8.7" height="6.6" fill="#aaff00"/>
<rect x="353.3" y="888.8" width="8.7" height="6.6" fill="#80ff00"/>
<rect x="353.3" y="895.1" width="8.7" height="6.6" fill="#40f000"/>
<rect x="353.3" y="901.3" width="8.7" height="6.6" fill="#10e020"/>
<rect x="353.3" y="907.6" width="8.7" height="6.6" fill="#00e060"/>
<rect x="353.3" y="913.9" width="8.7" height="6.6" fill="#00e8a0"/>
<rect x="353.3" y="920.2" width="8.7" height="6.6" fill="#00f0d8"/>
<rect x="353.3" y="926.5" width="8.7" height="6.6" fill="#00e0ff"/>
<rect x="353.3" y="932.7" width="8.7" height="6.6" fill="#00b0ff"/>
<rect x="353.3" y="939" width="8.7" height="6.6" fill="#0080ff"/>
<rect x="353.3" y="945.3" width="8.7" height="6.6" fill="#0050ff"/>
<rect x="353.3" y="951.6" width="8.7" height="6.6" fill="#0020ff"/>
<rect x="353.3" y="957.9" width="8.7" height="6.6" fill="#0000f0"/>
<path d="M353.3 832.3h-3.2M353.3 845.5h-3.2M353.3 858.6h-3.2M353.3 871.8h-3.2M353.3 885h-3.2M353.3 898.2h-3.2M353.3 911.4h-3.2M353.3 924.6h-3.2M353.3 937.8h-3.2M353.3 950.9h-3.2M353.3 964.1h-3.2M353.3 838.9h-1.8M353.3 852.1h-1.8M353.3 865.2h-1.8M353.3 878.4h-1.8M353.3 891.6h-1.8M353.3 904.8h-1.8M353.3 918h-1.8M353.3 931.2h-1.8M353.3 944.4h-1.8M353.3 957.5h-1.8" stroke="#222" stroke-width="0.6"/>
<path d="M350.5 829.3l-2.3 3.5h4.6zM350.5 967.1l-2.3 -3.5h4.6z" fill="#000"/>
<g font-size="5" font-weight="normal" fill="#333"><text x="337.3" y="825.2" text-anchor="middle">dB(m^2)</text><text x="346.4" y="834.1" text-anchor="end">-2.7</text><text x="346.4" y="847.3" text-anchor="end">-6.7</text><text x="346.4" y="860.4" text-anchor="end">-10.7</text><text x="346.4" y="873.6" text-anchor="end">-14.7</text><text x="346.4" y="886.8" text-anchor="end">-18.7</text><text x="346.4" y="900" text-anchor="end">-22.7</text><text x="346.4" y="913.2" text-anchor="end">-26.7</text><text x="346.4" y="926.4" text-anchor="end">-30.7</text><text x="346.4" y="939.6" text-anchor="end">-34.7</text><text x="346.4" y="952.7" text-anchor="end">-38.7</text><text x="346.4" y="965.9" text-anchor="end">-42.7</text></g>
<path d="M102.6 940.8A89.1 29.7 0 0 1 280.8 940.8" fill="none" stroke="#20c020" stroke-width="1.3"/>
<path d="M191.7 936.3V835.7" stroke="#20c020" stroke-width="1.2"/>
<path d="M191.7 829.3l-2.6 9h5.2z" fill="#20c020"/>
<ellipse cx="192.1" cy="916.2" rx="6.4" ry="6" fill="#22d8cc"/>
<ellipse cx="185.4" cy="940.3" rx="30.8" ry="20.1" fill="#24d8b8"/>
<ellipse cx="206.8" cy="922.9" rx="15" ry="7" transform="rotate(-27 206.8 922.9)" fill="url(#lobeTR)"/>
<ellipse cx="136.6" cy="930.2" rx="24.9" ry="24.5" fill="url(#lobeL)"/>
<ellipse cx="136.6" cy="930.2" rx="24.9" ry="24.5" fill="url(#shade)"/>
<ellipse cx="230.9" cy="947.6" rx="28.4" ry="19.6" transform="rotate(3 230.9 947.6)" fill="url(#lobeR)"/>
<ellipse cx="230.9" cy="947.6" rx="28.4" ry="19.6" transform="rotate(3 230.9 947.6)" fill="url(#shade)"/>
<ellipse cx="169.6" cy="914.2" rx="26.1" ry="11.8" transform="rotate(47 169.6 914.2)" fill="url(#lobeUL)"/>
<ellipse cx="169.6" cy="914.2" rx="26.1" ry="11.8" transform="rotate(47 169.6 914.2)" fill="url(#shade)" opacity="0.6"/>
<ellipse cx="168" cy="960.4" rx="20.1" ry="8.3" transform="rotate(-38 168 960.4)" fill="url(#lobeBL)"/>
<ellipse cx="205.5" cy="964.4" rx="16.3" ry="7" transform="rotate(32 205.5 964.4)" fill="url(#lobeBR)"/>
<ellipse cx="190.7" cy="963" rx="6.4" ry="6.2" fill="#20d4dc"/>
<ellipse cx="161.9" cy="943" rx="23.8" ry="11.5" fill="url(#lobeLL)"/>
<ellipse cx="161.9" cy="943" rx="23.8" ry="11.5" fill="url(#shade)" opacity="0.6"/>
<ellipse cx="188.7" cy="934.2" rx="15.8" ry="11.3" transform="rotate(-10 188.7 934.2)" fill="url(#lobeC)"/>
<ellipse cx="200.1" cy="949" rx="8.8" ry="11" transform="rotate(-10 200.1 949)" fill="url(#lobeF)"/>
<path d="M102.6 940.8A89.1 29.7 0 0 0 280.8 940.8" fill="none" stroke="#20c020" stroke-width="1.3"/>
<ellipse cx="190.5" cy="939.7" rx="43.4" ry="88.7" transform="rotate(8.5 190.5 939.7)" fill="none" stroke="#e81818" stroke-width="1.3"/>
<ellipse cx="193.1" cy="939" rx="77.5" ry="85.2" fill="none" stroke="#3030f0" stroke-width="1.3"/>
<path d="M258 951.8L288.8 958" stroke="#e81818" stroke-width="1.2"/>
<path d="M294.1 959.1l-9 -4.3l0.9 4.6z" fill="#e81818"/>
<path d="M175.7 949.5L136.8 972.4" stroke="#3030f0" stroke-width="1.2"/>
<path d="M133 974.2l7.5 -1.2l-3.5 -3.6z" fill="#3030f0"/>
<path d="M142.6 969.4L158.6 972.1" stroke="#777" stroke-width="1"/>
<path d="M164.3 972.4l-7 -3.4v5.4z" fill="#777"/>
<path d="M278.5 955.7V939.7" stroke="#777" stroke-width="1"/>
<path d="M277.4 933.5l-2.6 7h5.2z" fill="#777"/>
<g font-family="'Liberation Sans','Noto Sans CJK SC',sans-serif" font-size="9.8" fill="#111"><text x="191.7" y="824.7">y</text><text x="298.4" y="960.2">x</text><text x="129.5" y="975.6">z</text><text x="283.6" y="930.1">Phi</text><text x="163.8" y="975.1">Theta</text></g>
</g>
<rect x="98.5" y="818.1" width="270.3" height="216.4" fill="none" stroke="#6e6e6e" stroke-width="1.5"/>
<clipPath id="rc2"><rect x="380.3" y="818.1" width="272.6" height="216.4"/></clipPath>
<rect x="380.3" y="818.1" width="272.6" height="216.4" fill="url(#rcsbg)"/>
<g clip-path="url(#rc2)">
<rect x="589.3" y="818.1" width="63.6" height="152.8" fill="#fff"/>
<rect x="636" y="832.7" width="8.7" height="6.6" fill="#ff0000"/>
<rect x="636" y="839" width="8.7" height="6.6" fill="#ff2a00"/>
<rect x="636" y="845.2" width="8.7" height="6.6" fill="#ff5500"/>
<rect x="636" y="851.5" width="8.7" height="6.6" fill="#ff8000"/>
<rect x="636" y="857.8" width="8.7" height="6.6" fill="#ffaa00"/>
<rect x="636" y="864.1" width="8.7" height="6.6" fill="#ffd500"/>
<rect x="636" y="870.3" width="8.7" height="6.6" fill="#ffff00"/>
<rect x="636" y="876.6" width="8.7" height="6.6" fill="#d4ff00"/>
<rect x="636" y="882.9" width="8.7" height="6.6" fill="#aaff00"/>
<rect x="636" y="889.2" width="8.7" height="6.6" fill="#80ff00"/>
<rect x="636" y="895.5" width="8.7" height="6.6" fill="#40f000"/>
<rect x="636" y="901.7" width="8.7" height="6.6" fill="#10e020"/>
<rect x="636" y="908" width="8.7" height="6.6" fill="#00e060"/>
<rect x="636" y="914.3" width="8.7" height="6.6" fill="#00e8a0"/>
<rect x="636" y="920.6" width="8.7" height="6.6" fill="#00f0d8"/>
<rect x="636" y="926.9" width="8.7" height="6.6" fill="#00e0ff"/>
<rect x="636" y="933.1" width="8.7" height="6.6" fill="#00b0ff"/>
<rect x="636" y="939.4" width="8.7" height="6.6" fill="#0080ff"/>
<rect x="636" y="945.7" width="8.7" height="6.6" fill="#0050ff"/>
<rect x="636" y="952" width="8.7" height="6.6" fill="#0020ff"/>
<rect x="636" y="958.3" width="8.7" height="6.6" fill="#0000f0"/>
<path d="M636 832.7h-3.2M636 845.9h-3.2M636 859h-3.2M636 872.2h-3.2M636 885.4h-3.2M636 898.6h-3.2M636 911.8h-3.2M636 925h-3.2M636 938.2h-3.2M636 951.3h-3.2M636 964.5h-3.2M636 839.3h-1.8M636 852.5h-1.8M636 865.6h-1.8M636 878.8h-1.8M636 892h-1.8M636 905.2h-1.8M636 918.4h-1.8M636 931.6h-1.8M636 944.8h-1.8M636 957.9h-1.8" stroke="#222" stroke-width="0.6"/>
<path d="M633.2 829.7l-2.3 3.5h4.6zM633.2 967.5l-2.3 -3.5h4.6z" fill="#000"/>
<g font-size="5" font-weight="normal" fill="#333"><text x="620" y="825.6" text-anchor="middle">dB(m^2)</text><text x="629.1" y="834.5" text-anchor="end">-2.8</text><text x="629.1" y="847.7" text-anchor="end">-6.8</text><text x="629.1" y="860.8" text-anchor="end">-10.8</text><text x="629.1" y="874" text-anchor="end">-14.8</text><text x="629.1" y="887.2" text-anchor="end">-18.8</text><text x="629.1" y="900.4" text-anchor="end">-22.8</text><text x="629.1" y="913.6" text-anchor="end">-26.8</text><text x="629.1" y="926.8" text-anchor="end">-30.8</text><text x="629.1" y="940" text-anchor="end">-34.8</text><text x="629.1" y="953.1" text-anchor="end">-38.8</text><text x="629.1" y="966.3" text-anchor="end">-42.8</text></g>
<path d="M385.3 941.2A89.1 29.7 0 0 1 563.5 941.2" fill="none" stroke="#20c020" stroke-width="1.3"/>
<path d="M474.4 936.7V836.1" stroke="#20c020" stroke-width="1.2"/>
<path d="M474.4 829.7l-2.6 9h5.2z" fill="#20c020"/>
<ellipse cx="474.8" cy="916.6" rx="6.4" ry="6" fill="#22d8cc"/>
<ellipse cx="468.1" cy="940.7" rx="30.8" ry="20.1" fill="#24d8b8"/>
<ellipse cx="489.5" cy="923.3" rx="15" ry="7" transform="rotate(-27 489.5 923.3)" fill="url(#lobeTR)"/>
<ellipse cx="419.3" cy="930.6" rx="24.9" ry="24.5" fill="url(#lobeL)"/>
<ellipse cx="419.3" cy="930.6" rx="24.9" ry="24.5" fill="url(#shade)"/>
<ellipse cx="513.6" cy="948" rx="28.4" ry="19.6" transform="rotate(3 513.6 948)" fill="url(#lobeR)"/>
<ellipse cx="513.6" cy="948" rx="28.4" ry="19.6" transform="rotate(3 513.6 948)" fill="url(#shade)"/>
<ellipse cx="452.3" cy="914.6" rx="26.1" ry="11.8" transform="rotate(47 452.3 914.6)" fill="url(#lobeUL)"/>
<ellipse cx="452.3" cy="914.6" rx="26.1" ry="11.8" transform="rotate(47 452.3 914.6)" fill="url(#shade)" opacity="0.6"/>
<ellipse cx="450.7" cy="960.8" rx="20.1" ry="8.3" transform="rotate(-38 450.7 960.8)" fill="url(#lobeBL)"/>
<ellipse cx="488.2" cy="964.8" rx="16.3" ry="7" transform="rotate(32 488.2 964.8)" fill="url(#lobeBR)"/>
<ellipse cx="473.4" cy="963.4" rx="6.4" ry="6.2" fill="#20d4dc"/>
<ellipse cx="444.6" cy="943.4" rx="23.8" ry="11.5" fill="url(#lobeLL)"/>
<ellipse cx="444.6" cy="943.4" rx="23.8" ry="11.5" fill="url(#shade)" opacity="0.6"/>
<ellipse cx="471.4" cy="934.6" rx="15.8" ry="11.3" transform="rotate(-10 471.4 934.6)" fill="url(#lobeC)"/>
<ellipse cx="482.8" cy="949.4" rx="8.8" ry="11" transform="rotate(-10 482.8 949.4)" fill="url(#lobeF)"/>
<path d="M385.3 941.2A89.1 29.7 0 0 0 563.5 941.2" fill="none" stroke="#20c020" stroke-width="1.3"/>
<ellipse cx="473.2" cy="940.1" rx="43.4" ry="88.7" transform="rotate(8.5 473.2 940.1)" fill="none" stroke="#e81818" stroke-width="1.3"/>
<ellipse cx="475.8" cy="939.4" rx="77.5" ry="85.2" fill="none" stroke="#3030f0" stroke-width="1.3"/>
<path d="M540.7 952.2L571.5 958.4" stroke="#e81818" stroke-width="1.2"/>
<path d="M576.8 959.5l-9 -4.3l0.9 4.6z" fill="#e81818"/>
<path d="M458.4 949.9L419.5 972.8" stroke="#3030f0" stroke-width="1.2"/>
<path d="M415.7 974.6l7.5 -1.2l-3.5 -3.6z" fill="#3030f0"/>
<path d="M425.3 969.8L441.3 972.5" stroke="#777" stroke-width="1"/>
<path d="M447 972.8l-7 -3.4v5.4z" fill="#777"/>
<path d="M561.2 956.1V940.1" stroke="#777" stroke-width="1"/>
<path d="M560.1 933.9l-2.6 7h5.2z" fill="#777"/>
<g font-family="'Liberation Sans','Noto Sans CJK SC',sans-serif" font-size="9.8" fill="#111"><text x="474.4" y="825.1">y</text><text x="581.1" y="960.6">x</text><text x="412.2" y="976">z</text><text x="566.3" y="930.5">Phi</text><text x="446.5" y="975.5">Theta</text></g>
</g>
<rect x="380.3" y="818.1" width="272.6" height="216.4" fill="none" stroke="#6e6e6e" stroke-width="1.5"/>
<clipPath id="rc3"><rect x="666.4" y="817.4" width="272.6" height="216"/></clipPath>
<rect x="666.4" y="817.4" width="272.6" height="216" fill="url(#rcsbg)"/>
<g clip-path="url(#rc3)">
<rect x="874.3" y="817.4" width="64.7" height="152.9" fill="#fff"/>
<rect x="921" y="832.1" width="8.7" height="6.6" fill="#ff0000"/>
<rect x="921" y="838.4" width="8.7" height="6.6" fill="#ff2a00"/>
<rect x="921" y="844.6" width="8.7" height="6.6" fill="#ff5500"/>
<rect x="921" y="850.9" width="8.7" height="6.6" fill="#ff8000"/>
<rect x="921" y="857.2" width="8.7" height="6.6" fill="#ffaa00"/>
<rect x="921" y="863.5" width="8.7" height="6.6" fill="#ffd500"/>
<rect x="921" y="869.7" width="8.7" height="6.6" fill="#ffff00"/>
<rect x="921" y="876" width="8.7" height="6.6" fill="#d4ff00"/>
<rect x="921" y="882.3" width="8.7" height="6.6" fill="#aaff00"/>
<rect x="921" y="888.6" width="8.7" height="6.6" fill="#80ff00"/>
<rect x="921" y="894.9" width="8.7" height="6.6" fill="#40f000"/>
<rect x="921" y="901.1" width="8.7" height="6.6" fill="#10e020"/>
<rect x="921" y="907.4" width="8.7" height="6.6" fill="#00e060"/>
<rect x="921" y="913.7" width="8.7" height="6.6" fill="#00e8a0"/>
<rect x="921" y="920" width="8.7" height="6.6" fill="#00f0d8"/>
<rect x="921" y="926.3" width="8.7" height="6.6" fill="#00e0ff"/>
<rect x="921" y="932.5" width="8.7" height="6.6" fill="#00b0ff"/>
<rect x="921" y="938.8" width="8.7" height="6.6" fill="#0080ff"/>
<rect x="921" y="945.1" width="8.7" height="6.6" fill="#0050ff"/>
<rect x="921" y="951.4" width="8.7" height="6.6" fill="#0020ff"/>
<rect x="921" y="957.7" width="8.7" height="6.6" fill="#0000f0"/>
<path d="M921 832.1h-3.2M921 845.3h-3.2M921 858.4h-3.2M921 871.6h-3.2M921 884.8h-3.2M921 898h-3.2M921 911.2h-3.2M921 924.4h-3.2M921 937.6h-3.2M921 950.7h-3.2M921 963.9h-3.2M921 838.7h-1.8M921 851.9h-1.8M921 865h-1.8M921 878.2h-1.8M921 891.4h-1.8M921 904.6h-1.8M921 917.8h-1.8M921 931h-1.8M921 944.2h-1.8M921 957.3h-1.8" stroke="#222" stroke-width="0.6"/>
<path d="M918.2 829.1l-2.3 3.5h4.6zM918.2 966.9l-2.3 -3.5h4.6z" fill="#000"/>
<g font-size="5" font-weight="normal" fill="#333"><text x="905" y="825" text-anchor="middle">dB(m^2)</text><text x="914.1" y="833.9" text-anchor="end">-2.71</text><text x="914.1" y="847.1" text-anchor="end">-6.71</text><text x="914.1" y="860.2" text-anchor="end">-10.7</text><text x="914.1" y="873.4" text-anchor="end">-14.7</text><text x="914.1" y="886.6" text-anchor="end">-18.7</text><text x="914.1" y="899.8" text-anchor="end">-22.7</text><text x="914.1" y="913" text-anchor="end">-26.7</text><text x="914.1" y="926.2" text-anchor="end">-30.7</text><text x="914.1" y="939.4" text-anchor="end">-34.7</text><text x="914.1" y="952.5" text-anchor="end">-38.7</text><text x="914.1" y="965.7" text-anchor="end">-42.7</text></g>
<path d="M670.3 940.6A89.1 29.7 0 0 1 848.5 940.6" fill="none" stroke="#20c020" stroke-width="1.3"/>
<path d="M759.4 936.1V835.5" stroke="#20c020" stroke-width="1.2"/>
<path d="M759.4 829.1l-2.6 9h5.2z" fill="#20c020"/>
<ellipse cx="759.8" cy="916" rx="6.4" ry="6" fill="#22d8cc"/>
<ellipse cx="753.1" cy="940.1" rx="30.8" ry="20.1" fill="#24d8b8"/>
<ellipse cx="774.5" cy="922.7" rx="15" ry="7" transform="rotate(-27 774.5 922.7)" fill="url(#lobeTR)"/>
<ellipse cx="704.3" cy="930" rx="24.9" ry="24.5" fill="url(#lobeL)"/>
<ellipse cx="704.3" cy="930" rx="24.9" ry="24.5" fill="url(#shade)"/>
<ellipse cx="798.6" cy="947.4" rx="28.4" ry="19.6" transform="rotate(3 798.6 947.4)" fill="url(#lobeR)"/>
<ellipse cx="798.6" cy="947.4" rx="28.4" ry="19.6" transform="rotate(3 798.6 947.4)" fill="url(#shade)"/>
<ellipse cx="737.3" cy="914" rx="26.1" ry="11.8" transform="rotate(47 737.3 914)" fill="url(#lobeUL)"/>
<ellipse cx="737.3" cy="914" rx="26.1" ry="11.8" transform="rotate(47 737.3 914)" fill="url(#shade)" opacity="0.6"/>
<ellipse cx="735.7" cy="960.2" rx="20.1" ry="8.3" transform="rotate(-38 735.7 960.2)" fill="url(#lobeBL)"/>
<ellipse cx="773.2" cy="964.2" rx="16.3" ry="7" transform="rotate(32 773.2 964.2)" fill="url(#lobeBR)"/>
<ellipse cx="758.4" cy="962.8" rx="6.4" ry="6.2" fill="#20d4dc"/>
<ellipse cx="729.6" cy="942.8" rx="23.8" ry="11.5" fill="url(#lobeLL)"/>
<ellipse cx="729.6" cy="942.8" rx="23.8" ry="11.5" fill="url(#shade)" opacity="0.6"/>
<ellipse cx="756.4" cy="934" rx="15.8" ry="11.3" transform="rotate(-10 756.4 934)" fill="url(#lobeC)"/>
<ellipse cx="767.8" cy="948.8" rx="8.8" ry="11" transform="rotate(-10 767.8 948.8)" fill="url(#lobeF)"/>
<path d="M670.3 940.6A89.1 29.7 0 0 0 848.5 940.6" fill="none" stroke="#20c020" stroke-width="1.3"/>
<ellipse cx="758.2" cy="939.5" rx="43.4" ry="88.7" transform="rotate(8.5 758.2 939.5)" fill="none" stroke="#e81818" stroke-width="1.3"/>
<ellipse cx="760.8" cy="938.8" rx="77.5" ry="85.2" fill="none" stroke="#3030f0" stroke-width="1.3"/>
<path d="M825.7 951.6L856.5 957.8" stroke="#e81818" stroke-width="1.2"/>
<path d="M861.8 958.9l-9 -4.3l0.9 4.6z" fill="#e81818"/>
<path d="M743.4 949.3L704.5 972.2" stroke="#3030f0" stroke-width="1.2"/>
<path d="M700.7 974l7.5 -1.2l-3.5 -3.6z" fill="#3030f0"/>
<path d="M710.3 969.2L726.3 971.9" stroke="#777" stroke-width="1"/>
<path d="M732 972.2l-7 -3.4v5.4z" fill="#777"/>
<path d="M846.2 955.5V939.5" stroke="#777" stroke-width="1"/>
<path d="M845.1 933.3l-2.6 7h5.2z" fill="#777"/>
<g font-family="'Liberation Sans','Noto Sans CJK SC',sans-serif" font-size="9.8" fill="#111"><text x="759.4" y="824.5">y</text><text x="866.1" y="960">x</text><text x="697.2" y="975.4">z</text><text x="851.3" y="929.9">Phi</text><text x="731.5" y="974.9">Theta</text></g>
</g>
<rect x="666.4" y="817.4" width="272.6" height="216" fill="none" stroke="#6e6e6e" stroke-width="1.5"/>
<clipPath id="rc4"><rect x="949.6" y="817" width="272.2" height="216.4"/></clipPath>
<rect x="949.6" y="817" width="272.2" height="216.4" fill="url(#rcsbg)"/>
<g clip-path="url(#rc4)">
<rect x="1158.8" y="817" width="63" height="153.1" fill="#fff"/>
<rect x="1205.5" y="831.9" width="8.7" height="6.6" fill="#ff0000"/>
<rect x="1205.5" y="838.2" width="8.7" height="6.6" fill="#ff2a00"/>
<rect x="1205.5" y="844.4" width="8.7" height="6.6" fill="#ff5500"/>
<rect x="1205.5" y="850.7" width="8.7" height="6.6" fill="#ff8000"/>
<rect x="1205.5" y="857" width="8.7" height="6.6" fill="#ffaa00"/>
<rect x="1205.5" y="863.3" width="8.7" height="6.6" fill="#ffd500"/>
<rect x="1205.5" y="869.5" width="8.7" height="6.6" fill="#ffff00"/>
<rect x="1205.5" y="875.8" width="8.7" height="6.6" fill="#d4ff00"/>
<rect x="1205.5" y="882.1" width="8.7" height="6.6" fill="#aaff00"/>
<rect x="1205.5" y="888.4" width="8.7" height="6.6" fill="#80ff00"/>
<rect x="1205.5" y="894.7" width="8.7" height="6.6" fill="#40f000"/>
<rect x="1205.5" y="900.9" width="8.7" height="6.6" fill="#10e020"/>
<rect x="1205.5" y="907.2" width="8.7" height="6.6" fill="#00e060"/>
<rect x="1205.5" y="913.5" width="8.7" height="6.6" fill="#00e8a0"/>
<rect x="1205.5" y="919.8" width="8.7" height="6.6" fill="#00f0d8"/>
<rect x="1205.5" y="926.1" width="8.7" height="6.6" fill="#00e0ff"/>
<rect x="1205.5" y="932.3" width="8.7" height="6.6" fill="#00b0ff"/>
<rect x="1205.5" y="938.6" width="8.7" height="6.6" fill="#0080ff"/>
<rect x="1205.5" y="944.9" width="8.7" height="6.6" fill="#0050ff"/>
<rect x="1205.5" y="951.2" width="8.7" height="6.6" fill="#0020ff"/>
<rect x="1205.5" y="957.5" width="8.7" height="6.6" fill="#0000f0"/>
<path d="M1205.5 831.9h-3.2M1205.5 845.1h-3.2M1205.5 858.2h-3.2M1205.5 871.4h-3.2M1205.5 884.6h-3.2M1205.5 897.8h-3.2M1205.5 911h-3.2M1205.5 924.2h-3.2M1205.5 937.4h-3.2M1205.5 950.5h-3.2M1205.5 963.7h-3.2M1205.5 838.5h-1.8M1205.5 851.7h-1.8M1205.5 864.8h-1.8M1205.5 878h-1.8M1205.5 891.2h-1.8M1205.5 904.4h-1.8M1205.5 917.6h-1.8M1205.5 930.8h-1.8M1205.5 944h-1.8M1205.5 957.1h-1.8" stroke="#222" stroke-width="0.6"/>
<path d="M1202.7 828.9l-2.3 3.5h4.6zM1202.7 966.7l-2.3 -3.5h4.6z" fill="#000"/>
<g font-size="5" font-weight="normal" fill="#333"><text x="1189.5" y="824.8" text-anchor="middle">dB(m^2)</text><text x="1198.6" y="833.7" text-anchor="end">-2.76</text><text x="1198.6" y="846.9" text-anchor="end">-6.76</text><text x="1198.6" y="860" text-anchor="end">-10.8</text><text x="1198.6" y="873.2" text-anchor="end">-14.8</text><text x="1198.6" y="886.4" text-anchor="end">-18.8</text><text x="1198.6" y="899.6" text-anchor="end">-22.8</text><text x="1198.6" y="912.8" text-anchor="end">-26.8</text><text x="1198.6" y="926" text-anchor="end">-30.8</text><text x="1198.6" y="939.2" text-anchor="end">-34.8</text><text x="1198.6" y="952.3" text-anchor="end">-38.8</text><text x="1198.6" y="965.5" text-anchor="end">-42.8</text></g>
<path d="M954.8 940.4A89.1 29.7 0 0 1 1133 940.4" fill="none" stroke="#20c020" stroke-width="1.3"/>
<path d="M1043.9 935.9V835.3" stroke="#20c020" stroke-width="1.2"/>
<path d="M1043.9 828.9l-2.6 9h5.2z" fill="#20c020"/>
<ellipse cx="1044.3" cy="915.8" rx="6.4" ry="6" fill="#22d8cc"/>
<ellipse cx="1037.6" cy="939.9" rx="30.8" ry="20.1" fill="#24d8b8"/>
<ellipse cx="1059" cy="922.5" rx="15" ry="7" transform="rotate(-27 1059 922.5)" fill="url(#lobeTR)"/>
<ellipse cx="988.8" cy="929.8" rx="24.9" ry="24.5" fill="url(#lobeL)"/>
<ellipse cx="988.8" cy="929.8" rx="24.9" ry="24.5" fill="url(#shade)"/>
<ellipse cx="1083.1" cy="947.2" rx="28.4" ry="19.6" transform="rotate(3 1083.1 947.2)" fill="url(#lobeR)"/>
<ellipse cx="1083.1" cy="947.2" rx="28.4" ry="19.6" transform="rotate(3 1083.1 947.2)" fill="url(#shade)"/>
<ellipse cx="1021.8" cy="913.8" rx="26.1" ry="11.8" transform="rotate(47 1021.8 913.8)" fill="url(#lobeUL)"/>
<ellipse cx="1021.8" cy="913.8" rx="26.1" ry="11.8" transform="rotate(47 1021.8 913.8)" fill="url(#shade)" opacity="0.6"/>
<ellipse cx="1020.2" cy="960" rx="20.1" ry="8.3" transform="rotate(-38 1020.2 960)" fill="url(#lobeBL)"/>
<ellipse cx="1057.7" cy="964" rx="16.3" ry="7" transform="rotate(32 1057.7 964)" fill="url(#lobeBR)"/>
<ellipse cx="1042.9" cy="962.6" rx="6.4" ry="6.2" fill="#20d4dc"/>
<ellipse cx="1014.1" cy="942.6" rx="23.8" ry="11.5" fill="url(#lobeLL)"/>
<ellipse cx="1014.1" cy="942.6" rx="23.8" ry="11.5" fill="url(#shade)" opacity="0.6"/>
<ellipse cx="1040.9" cy="933.8" rx="15.8" ry="11.3" transform="rotate(-10 1040.9 933.8)" fill="url(#lobeC)"/>
<ellipse cx="1052.3" cy="948.6" rx="8.8" ry="11" transform="rotate(-10 1052.3 948.6)" fill="url(#lobeF)"/>
<path d="M954.8 940.4A89.1 29.7 0 0 0 1133 940.4" fill="none" stroke="#20c020" stroke-width="1.3"/>
<ellipse cx="1042.7" cy="939.3" rx="43.4" ry="88.7" transform="rotate(8.5 1042.7 939.3)" fill="none" stroke="#e81818" stroke-width="1.3"/>
<ellipse cx="1045.3" cy="938.6" rx="77.5" ry="85.2" fill="none" stroke="#3030f0" stroke-width="1.3"/>
<path d="M1110.2 951.4L1141 957.6" stroke="#e81818" stroke-width="1.2"/>
<path d="M1146.3 958.7l-9 -4.3l0.9 4.6z" fill="#e81818"/>
<path d="M1027.9 949.1L989 972" stroke="#3030f0" stroke-width="1.2"/>
<path d="M985.2 973.8l7.5 -1.2l-3.5 -3.6z" fill="#3030f0"/>
<path d="M994.8 969L1010.8 971.7" stroke="#777" stroke-width="1"/>
<path d="M1016.5 972l-7 -3.4v5.4z" fill="#777"/>
<path d="M1130.7 955.3V939.3" stroke="#777" stroke-width="1"/>
<path d="M1129.6 933.1l-2.6 7h5.2z" fill="#777"/>
<g font-family="'Liberation Sans','Noto Sans CJK SC',sans-serif" font-size="9.8" fill="#111"><text x="1043.9" y="824.3">y</text><text x="1150.6" y="959.8">x</text><text x="981.7" y="975.2">z</text><text x="1135.8" y="929.7">Phi</text><text x="1016" y="974.7">Theta</text></g>
</g>
<rect x="949.6" y="817" width="272.2" height="216.4" fill="none" stroke="#6e6e6e" stroke-width="1.5"/>
<text x="20.2" y="1137.9" font-size="27.3">(e)</text>
<text x="351" y="1124.3" font-size="22.9" fill="#f01218">5 wt.%</text>
<text x="898.6" y="1122" font-size="22.8" fill="#f01218">2.5 wt.%</text>
<path d="M116.6 1145.1L211 1129.6L317.4 1141.8M117.4 1162L211 1144.5L316.6 1158.5M118.3 1178.9L211 1159.3L315.8 1175.2M119.1 1195.8L211 1174.2L315 1191.9M120 1212.7L211 1189.1L314.2 1208.5M120.8 1229.6L211 1203.9L313.5 1225.2M121.6 1246.5L211 1218.8L312.7 1241.9M122.5 1263.4L211 1233.7L311.9 1258.6M127.1 1143.4L133 1274.6M137.6 1141.7L142.7 1271.1M148.1 1139.9L152.5 1267.6M158.6 1138.2L162.2 1264.1M169 1136.5L172 1260.6M179.5 1134.8L181.7 1257.1M190 1133L191.5 1253.6M200.5 1131.3L201.2 1250.1M224.3 1131.1L223.5 1249.9M237.6 1132.6L236.1 1253.2M250.9 1134.2L248.6 1256.5M264.2 1135.7L261.1 1259.8M277.5 1137.2L273.6 1263.2M290.8 1138.8L286.1 1266.5M304.1 1140.3L298.7 1269.8" stroke="#e9e9e9" stroke-width="0.7" fill="none"/>
<clipPath id="fc5"><polygon points="123.2,1278.1 211,1246.6 311.2,1273.1 228.7,1320.5"/></clipPath>
<polygon points="123.2,1278.1 211,1246.6 311.2,1273.1 228.7,1320.5" fill="url(#floorG)"/>
<g clip-path="url(#fc5)">
<path d="M216.6 1249.9L210.3 1253.7L205.3 1257L201.5 1260L198.5 1262.7L196.2 1265.2L194.4 1267.5L193.2 1269.6L192.4 1271.7L191.9 1273.6L191.7 1275.5L191.8 1277.3L192.1 1279L192.6 1280.7L193.4 1282.4L194.2 1284L195.3 1285.6L196.5 1287.1L197.8 1288.7L199.2 1290.2L200.8 1291.7L202.4 1293.2L204.2 1294.7L206 1296.2L207.9 1297.7L210 1299.1L212.1 1300.6L214.3 1302.1L216.5 1303.6L218.8 1305.1L221.2 1306.6L223.7 1308L226.3 1309.6L228.9 1311.1L231.6 1312.6L234.3 1314.1L237.1 1315.7" stroke="#ff1a10" stroke-width="12" opacity="0.5" fill="none" stroke-linecap="round" filter="url(#fblur)"/>
<path d="M216.6 1249.9L210.3 1253.7L205.3 1257L201.5 1260L198.5 1262.7L196.2 1265.2L194.4 1267.5L193.2 1269.6L192.4 1271.7L191.9 1273.6L191.7 1275.5L191.8 1277.3L192.1 1279L192.6 1280.7L193.4 1282.4L194.2 1284L195.3 1285.6L196.5 1287.1L197.8 1288.7L199.2 1290.2L200.8 1291.7L202.4 1293.2L204.2 1294.7L206 1296.2L207.9 1297.7L210 1299.1L212.1 1300.6L214.3 1302.1L216.5 1303.6L218.8 1305.1L221.2 1306.6L223.7 1308L226.3 1309.6L228.9 1311.1L231.6 1312.6L234.3 1314.1L237.1 1315.7" stroke="#ff2015" stroke-width="5" opacity="0.9" fill="none" stroke-linecap="round" filter="url(#fblur)"/>
<path d="M208.8 1298.3L209.3 1298.7L209.8 1299L210.3 1299.4L210.8 1299.8L211.4 1300.1L211.9 1300.5L212.4 1300.8L212.9 1301.2L213.5 1301.6L214 1301.9L214.5 1302.3L215.1 1302.7L215.6 1303L216.2 1303.4L216.8 1303.7L217.3 1304.1L217.9 1304.5L218.5 1304.8L219.1 1305.2L219.6 1305.6L220.2 1305.9L220.8 1306.3L221.4 1306.7L222 1307L222.6 1307.4L223.2 1307.7L223.8 1308.1L224.4 1308.5L225.1 1308.8L225.7 1309.2L226.3 1309.6L227 1310L227.6 1310.3L228.2 1310.7L228.9 1311.1L229.5 1311.4L230.2 1311.8L230.8 1312.2L231.5 1312.6L232.2 1312.9" stroke="#ffc800" stroke-width="1.6" opacity="1" fill="none" stroke-linecap="round" filter="url(#fblur)"/>
<path d="M258 1256.2L257.2 1258.3L256.6 1260.3L256.2 1262.3L256 1264.2L256.1 1266.1L256.3 1268L256.6 1269.8L257.1 1271.6L257.8 1273.4L258.6 1275.2L259.5 1276.9L260.6 1278.7L261.8 1280.4L263.1 1282.1L264.5 1283.8L266 1285.5L267.6 1287.1L269.4 1288.8L271.2 1290.5L273.1 1292.2L275.1 1293.8" stroke="#d01515" stroke-width="10" opacity="0.6" fill="none" stroke-linecap="round" filter="url(#fblur)"/>
<path d="M132.7 1281.9L220.4 1249.1M142.6 1285.9L230.2 1251.7M153.1 1290.1L240.4 1254.4M164.1 1294.5L251 1257.2M175.6 1299.2L262 1260.1M187.8 1304.1L273.5 1263.1M200.7 1309.2L285.5 1266.3M214.3 1314.7L298.1 1269.6M136.3 1273.4L241.5 1313.1M148.7 1269L253.4 1306.3M160.4 1264.8L264.6 1299.9M171.5 1260.8L275.1 1293.8M182.1 1257L284.9 1288.2M192.2 1253.3L294.2 1282.9M201.8 1249.9L302.9 1277.8" stroke="#e8c8c8" stroke-opacity="0.3" stroke-width="0.6" stroke-dasharray="2.6 1" fill="none"/>
</g>
<path d="M116.6 1145.1L211 1129.6M211 1129.6L317.4 1141.8M211 1129.6L211 1246.6M317.4 1141.8L311.2 1273.1M123.2 1278.1L228.7 1320.5M228.7 1320.5L311.2 1273.1" stroke="#111" stroke-width="0.9" fill="none"/>
<path d="M116.6 1145.1L123.2 1278.1" stroke="#000" stroke-width="1.4"/>
<path d="M116.6 1145.1h-3M117.4 1162h-3M118.3 1178.9h-3M119.1 1195.8h-3M120 1212.7h-3M120.8 1229.6h-3M121.6 1246.5h-3M122.5 1263.4h-3M123.2 1278.1l-1.2 2.6M132.7 1281.9l-1.2 2.6M142.6 1285.9l-1.2 2.6M153.1 1290.1l-1.2 2.6M164.1 1294.5l-1.2 2.6M175.6 1299.2l-1.2 2.6M187.8 1304.1l-1.2 2.6M200.7 1309.2l-1.2 2.6M214.3 1314.7l-1.2 2.6M228.7 1320.5l-1.2 2.6M228.7 1320.5l2.4 1.6M241.5 1313.1l2.4 1.6M253.4 1306.3l2.4 1.6M264.6 1299.9l2.4 1.6M275.1 1293.8l2.4 1.6M284.9 1288.2l2.4 1.6M294.2 1282.9l2.4 1.6M302.9 1277.8l2.4 1.6M311.2 1273.1l2.4 1.6" stroke="#000" stroke-width="0.9" fill="none"/>
<clipPath id="sc5"><polygon points="116.3,1145.1 210.8,1129.9 210.8,1131.3 216,1139.1 218.6,1144.3 226.4,1140.8 236.8,1138.2 245.4,1139.9 252.4,1146 257.6,1154.7 261.9,1161.6 268,1154.7 274.9,1149.5 285.3,1148.6 295.7,1152.9 306.1,1159 315.1,1160.2 315.1,1161.3 304.4,1159.9 295.7,1160.7 288.8,1165.1 281.8,1170.3 274,1174.6 264.5,1170.3 257.6,1165.9 248.9,1169.4 242,1177.2 237.6,1189.3 235,1201.5 234.2,1212.8 226.4,1218.8 219.4,1227.5 215.1,1239.6 212.1,1255.2 209.9,1241.4 207.3,1227.5 203.8,1213.6 198.6,1196.3 194.3,1193.7 190,1178.9 184.8,1165.1 179.5,1159 157,1152.9 131,1147.7"/></clipPath>
<polygon points="116.3,1145.1 210.8,1129.9 210.8,1131.3 216,1139.1 218.6,1144.3 226.4,1140.8 236.8,1138.2 245.4,1139.9 252.4,1146 257.6,1154.7 261.9,1161.6 268,1154.7 274.9,1149.5 285.3,1148.6 295.7,1152.9 306.1,1159 315.1,1160.2 315.1,1161.3 304.4,1159.9 295.7,1160.7 288.8,1165.1 281.8,1170.3 274,1174.6 264.5,1170.3 257.6,1165.9 248.9,1169.4 242,1177.2 237.6,1189.3 235,1201.5 234.2,1212.8 226.4,1218.8 219.4,1227.5 215.1,1239.6 212.1,1255.2 209.9,1241.4 207.3,1227.5 203.8,1213.6 198.6,1196.3 194.3,1193.7 190,1178.9 184.8,1165.1 179.5,1159 157,1152.9 131,1147.7" fill="url(#surfD)"/>
<g clip-path="url(#sc5)">
<polygon points="209,1154.7 236.8,1142.5 250.6,1151.2 240.2,1172 219.4,1166.8" fill="#5e0000" opacity="0.5" filter="url(#sblur3)"/>
<polygon points="219.4,1144.3 236.8,1138.2 245.4,1139.9 252.4,1146 257.6,1154.7 243.7,1159.9 229.8,1156.4" fill="#c40404" opacity="0.6" filter="url(#sblur3)"/>
<polygon points="268,1154.7 274.9,1149.5 285.3,1148.6 295.7,1152.9 306.1,1159 315.1,1160.2 304.4,1159.9 295.7,1160.7 288.8,1165.1 281.8,1170.3 274,1174.6" fill="#c40404" opacity="0.6" filter="url(#sblur3)"/>
<polygon points="181.3,1160.2 188.2,1157.3 198.6,1161.6 216,1170.3 238.5,1180.7 237.6,1189.3 235,1201.5 234.2,1212.8 226.4,1218.8 219.4,1227.5 215.1,1239.6 212.1,1255.2 209.9,1241.4 207.3,1227.5 203.8,1213.6 198.6,1196.3 194.3,1193.7 190,1178.9 184.8,1165.1" fill="#fa0808" filter="url(#sblur)"/>
<polygon points="257.6,1155.5 261.9,1162.5 264.5,1170.3 274,1174.6 278.4,1172 269.7,1163.3 263.6,1160.7" fill="#fa0808" filter="url(#sblur)"/>
<linearGradient id="spg5" gradientUnits="userSpaceOnUse" x1="0" y1="1206.7" x2="0" y2="1255.2"><stop offset="0" stop-color="#ff1410"/><stop offset="0.25" stop-color="#ff6a00"/><stop offset="0.5" stop-color="#ffd000"/><stop offset="0.72" stop-color="#f0f000"/><stop offset="0.9" stop-color="#60e010"/><stop offset="1" stop-color="#20c020"/></linearGradient>
<polygon points="201.2,1203.2 236.8,1203.2 234.2,1212.8 226.4,1218.8 219.4,1227.5 215.1,1239.6 212.1,1255.2 209.9,1241.4 207.3,1227.5 203.8,1213.6" fill="url(#spg5)"/>
</g>
<g font-size="10.5"><text x="113" y="1149.1" text-anchor="end" transform="rotate(-8 113 1149.1)">0</text><text x="113.8" y="1166" text-anchor="end" transform="rotate(-8 113.8 1166)">-10</text><text x="114.7" y="1182.9" text-anchor="end" transform="rotate(-8 114.7 1182.9)">-20</text><text x="115.5" y="1199.8" text-anchor="end" transform="rotate(-8 115.5 1199.8)">-30</text><text x="116.4" y="1216.7" text-anchor="end" transform="rotate(-8 116.4 1216.7)">-40</text><text x="117.2" y="1233.6" text-anchor="end" transform="rotate(-8 117.2 1233.6)">-50</text><text x="118" y="1250.5" text-anchor="end" transform="rotate(-8 118 1250.5)">-60</text><text x="118.9" y="1267.4" text-anchor="end" transform="rotate(-8 118.9 1267.4)">-70</text></g>
<text font-size="12" text-anchor="middle" transform="translate(91.1 1220.1) rotate(90)">Reflection Loss (dB)</text>
<g font-size="6.5" font-style="italic"><text transform="translate(118.2 1284.1) rotate(25)" text-anchor="middle">1</text><text transform="translate(127.7 1287.9) rotate(25)" text-anchor="middle">2</text><text transform="translate(137.6 1291.9) rotate(25)" text-anchor="middle">3</text><text transform="translate(148.1 1296.1) rotate(25)" text-anchor="middle">4</text><text transform="translate(159.1 1300.5) rotate(25)" text-anchor="middle">5</text><text transform="translate(170.6 1305.2) rotate(25)" text-anchor="middle">6</text><text transform="translate(182.8 1310.1) rotate(25)" text-anchor="middle">7</text><text transform="translate(195.7 1315.2) rotate(25)" text-anchor="middle">8</text><text transform="translate(209.3 1320.7) rotate(25)" text-anchor="middle">9</text><text transform="translate(223.7 1326.5) rotate(25)" text-anchor="middle">10</text><text transform="translate(233.7 1325) rotate(-32)" text-anchor="middle">2</text><text transform="translate(246.5 1317.6) rotate(-32)" text-anchor="middle">4</text><text transform="translate(258.4 1310.8) rotate(-32)" text-anchor="middle">6</text><text transform="translate(269.6 1304.4) rotate(-32)" text-anchor="middle">8</text><text transform="translate(280.1 1298.3) rotate(-32)" text-anchor="middle">10</text><text transform="translate(289.9 1292.7) rotate(-32)" text-anchor="middle">12</text><text transform="translate(299.2 1287.4) rotate(-32)" text-anchor="middle">14</text><text transform="translate(307.9 1282.3) rotate(-32)" text-anchor="middle">16</text><text transform="translate(316.2 1277.6) rotate(-32)" text-anchor="middle">18</text></g>
<text font-size="9.6" font-style="italic" text-anchor="middle" transform="translate(154.6 1307.7) rotate(22)">Thickness (mm)</text>
<text font-size="9.2" font-style="italic" text-anchor="middle" transform="translate(294.8 1304.2) rotate(-30)">Frequency (GHz)</text>
<text x="138.6" y="1243.9" font-size="22.3" fill="#111">RL = -55.60 dB</text>
<rect x="326.9" y="1137.7" width="11.8" height="127.4" fill="url(#cbar)"/><path d="M339.2 1153.6h3" stroke="#888" stroke-width="0.8"/><path d="M339.2 1169.5h3" stroke="#888" stroke-width="0.8"/><path d="M339.2 1185.5h3" stroke="#888" stroke-width="0.8"/><path d="M339.2 1201.4h3" stroke="#888" stroke-width="0.8"/><path d="M339.2 1217.3h3" stroke="#888" stroke-width="0.8"/><path d="M339.2 1233.2h3" stroke="#888" stroke-width="0.8"/><path d="M339.2 1249.2h3" stroke="#888" stroke-width="0.8"/><path d="M339.2 1265.1h3" stroke="#888" stroke-width="0.8"/><g font-size="10.5"><text x="342.8" y="1141.2">0</text><text x="342.3" y="1157.1">−10</text><text x="342.3" y="1173">−20</text><text x="342.3" y="1188.9">−30</text><text x="342.3" y="1204.9">−40</text><text x="342.3" y="1220.8">−50</text><text x="342.3" y="1236.7">−60</text><text x="342.3" y="1252.6">−70</text><text x="342.3" y="1268.6">−80</text></g>
<path d="M684.5 1145.1L778.9 1129.6L885.3 1141.8M685.3 1162L778.9 1144.5L884.5 1158.5M686.2 1178.9L778.9 1159.3L883.7 1175.2M687 1195.8L778.9 1174.2L882.9 1191.9M687.9 1212.7L778.9 1189.1L882.1 1208.5M688.7 1229.6L778.9 1203.9L881.4 1225.2M689.5 1246.5L778.9 1218.8L880.6 1241.9M690.4 1263.4L778.9 1233.7L879.8 1258.6M695 1143.4L700.9 1274.6M705.5 1141.7L710.6 1271.1M716 1139.9L720.4 1267.6M726.5 1138.2L730.1 1264.1M736.9 1136.5L739.9 1260.6M747.4 1134.8L749.6 1257.1M757.9 1133L759.4 1253.6M768.4 1131.3L769.1 1250.1M792.2 1131.1L791.4 1249.9M805.5 1132.6L804 1253.2M818.8 1134.2L816.5 1256.5M832.1 1135.7L829 1259.8M845.4 1137.2L841.5 1263.2M858.7 1138.8L854.1 1266.5M872 1140.3L866.6 1269.8" stroke="#e9e9e9" stroke-width="0.7" fill="none"/>
<clipPath id="fc6"><polygon points="691.1,1278.1 778.9,1246.6 879.1,1273.1 796.6,1320.5"/></clipPath>
<polygon points="691.1,1278.1 778.9,1246.6 879.1,1273.1 796.6,1320.5" fill="url(#floorG)"/>
<g clip-path="url(#fc6)">
<path d="M802.6 1251.5L799.6 1254.2L797.1 1256.8L795.2 1259.2L793.6 1261.5L792.4 1263.7L791.5 1265.8L790.9 1267.8L790.6 1269.7L790.5 1271.6L790.6 1273.5L791 1275.3L791.5 1277L792.1 1278.8L793 1280.5L793.9 1282.2L795 1283.8L796.2 1285.5L797.6 1287.1L799 1288.7L800.6 1290.3L802.3 1291.9L804 1293.5L805.9 1295.1L807.9 1296.7L809.9 1298.3L812 1299.9L814.2 1301.5L816.5 1303.1L818.9 1304.7L821.3 1306.3" stroke="#a81010" stroke-width="22" opacity="0.5" fill="none" stroke-linecap="round" filter="url(#fblur)"/>
<ellipse cx="854.9" cy="1280" rx="7" ry="5" fill="#ff2010" opacity="0.9" filter="url(#fblur)"/>
<ellipse cx="854.1" cy="1282.1" rx="1.3" ry="1" fill="#ffd000" opacity="1" filter="url(#fblur)"/>
<path d="M700.6 1281.9L788.3 1249.1M710.5 1285.9L798.1 1251.7M721 1290.1L808.3 1254.4M732 1294.5L818.9 1257.2M743.5 1299.2L829.9 1260.1M755.7 1304.1L841.4 1263.1M768.6 1309.2L853.4 1266.3M782.2 1314.7L866 1269.6M704.2 1273.4L809.4 1313.1M716.6 1269L821.3 1306.3M728.3 1264.8L832.5 1299.9M739.4 1260.8L843 1293.8M750 1257L852.8 1288.2M760.1 1253.3L862.1 1282.9M769.7 1249.9L870.8 1277.8" stroke="#e8c8c8" stroke-opacity="0.3" stroke-width="0.6" stroke-dasharray="2.6 1" fill="none"/>
</g>
<path d="M684.5 1145.1L778.9 1129.6M778.9 1129.6L885.3 1141.8M778.9 1129.6L778.9 1246.6M885.3 1141.8L879.1 1273.1M691.1 1278.1L796.6 1320.5M796.6 1320.5L879.1 1273.1" stroke="#111" stroke-width="0.9" fill="none"/>
<path d="M684.5 1145.1L691.1 1278.1" stroke="#000" stroke-width="1.4"/>
<path d="M684.5 1145.1h-3M685.3 1162h-3M686.2 1178.9h-3M687 1195.8h-3M687.9 1212.7h-3M688.7 1229.6h-3M689.5 1246.5h-3M690.4 1263.4h-3M691.1 1278.1l-1.2 2.6M700.6 1281.9l-1.2 2.6M710.5 1285.9l-1.2 2.6M721 1290.1l-1.2 2.6M732 1294.5l-1.2 2.6M743.5 1299.2l-1.2 2.6M755.7 1304.1l-1.2 2.6M768.6 1309.2l-1.2 2.6M782.2 1314.7l-1.2 2.6M796.6 1320.5l-1.2 2.6M796.6 1320.5l2.4 1.6M809.4 1313.1l2.4 1.6M821.3 1306.3l2.4 1.6M832.5 1299.9l2.4 1.6M843 1293.8l2.4 1.6M852.8 1288.2l2.4 1.6M862.1 1282.9l2.4 1.6M870.8 1277.8l2.4 1.6M879.1 1273.1l2.4 1.6" stroke="#000" stroke-width="0.9" fill="none"/>
<clipPath id="sc6"><polygon points="685.1,1145.1 779,1129.9 786,1133 794.6,1139.9 806.8,1138.2 820.6,1138.2 831,1141.7 839.7,1148.6 846.6,1159 851,1162.5 855.3,1156.4 862.2,1152.1 872.6,1149.8 884.4,1150.9 884.4,1151.7 876.1,1155.5 869.2,1161.6 864.8,1170.3 861.4,1184.1 858.8,1198 856.5,1211.9 855.3,1198 852.7,1185.9 848.4,1172 844,1161.6 838,1159 827.6,1162.5 818.9,1170.3 810.6,1178.1 796.4,1172 775.6,1163.3 744.3,1155.5 709.7,1148.6"/></clipPath>
<polygon points="685.1,1145.1 779,1129.9 786,1133 794.6,1139.9 806.8,1138.2 820.6,1138.2 831,1141.7 839.7,1148.6 846.6,1159 851,1162.5 855.3,1156.4 862.2,1152.1 872.6,1149.8 884.4,1150.9 884.4,1151.7 876.1,1155.5 869.2,1161.6 864.8,1170.3 861.4,1184.1 858.8,1198 856.5,1211.9 855.3,1198 852.7,1185.9 848.4,1172 844,1161.6 838,1159 827.6,1162.5 818.9,1170.3 810.6,1178.1 796.4,1172 775.6,1163.3 744.3,1155.5 709.7,1148.6" fill="url(#surfD)"/>
<g clip-path="url(#sc6)">
<polygon points="747.8,1146 786,1139.1 806.8,1149.5 796.4,1166.8 765.2,1158.1" fill="#5e0000" opacity="0.5" filter="url(#sblur3)"/>
<polygon points="786,1133.9 794.6,1139.9 806.8,1138.2 820.6,1138.2 831,1141.7 839.7,1148.6 831,1154.7 813.7,1154.7 796.4,1149.5" fill="#c40404" opacity="0.6" filter="url(#sblur3)"/>
<polygon points="845.8,1159 851,1163 855.3,1156.8 861.4,1157.3 867.4,1162.5 864.8,1170.3 861.4,1184.1 858.8,1198 856.5,1211.9 855.3,1198 852.7,1185.9 848.4,1172 844,1161.6" fill="#fa0808" filter="url(#sblur)"/>
<linearGradient id="spg6" gradientUnits="userSpaceOnUse" x1="0" y1="1191.1" x2="0" y2="1211.9"><stop offset="0" stop-color="#ff1410"/><stop offset="0.5" stop-color="#ff7a00"/><stop offset="1" stop-color="#ffd800"/></linearGradient>
<polygon points="851.8,1189.3 861.4,1189.3 858.8,1198 856.5,1211.9 855.3,1198" fill="url(#spg6)"/>
</g>
<g font-size="10.5"><text x="680.9" y="1149.1" text-anchor="end" transform="rotate(-8 680.9 1149.1)">0</text><text x="681.7" y="1166" text-anchor="end" transform="rotate(-8 681.7 1166)">-10</text><text x="682.6" y="1182.9" text-anchor="end" transform="rotate(-8 682.6 1182.9)">-20</text><text x="683.4" y="1199.8" text-anchor="end" transform="rotate(-8 683.4 1199.8)">-30</text><text x="684.3" y="1216.7" text-anchor="end" transform="rotate(-8 684.3 1216.7)">-40</text><text x="685.1" y="1233.6" text-anchor="end" transform="rotate(-8 685.1 1233.6)">-50</text><text x="685.9" y="1250.5" text-anchor="end" transform="rotate(-8 685.9 1250.5)">-60</text><text x="686.8" y="1267.4" text-anchor="end" transform="rotate(-8 686.8 1267.4)">-70</text></g>
<text font-size="12" text-anchor="middle" transform="translate(659 1220.1) rotate(90)">Reflection Loss (dB)</text>
<g font-size="6.5" font-style="italic"><text transform="translate(686.1 1284.1) rotate(25)" text-anchor="middle">1</text><text transform="translate(695.6 1287.9) rotate(25)" text-anchor="middle">2</text><text transform="translate(705.5 1291.9) rotate(25)" text-anchor="middle">3</text><text transform="translate(716 1296.1) rotate(25)" text-anchor="middle">4</text><text transform="translate(727 1300.5) rotate(25)" text-anchor="middle">5</text><text transform="translate(738.5 1305.2) rotate(25)" text-anchor="middle">6</text><text transform="translate(750.7 1310.1) rotate(25)" text-anchor="middle">7</text><text transform="translate(763.6 1315.2) rotate(25)" text-anchor="middle">8</text><text transform="translate(777.2 1320.7) rotate(25)" text-anchor="middle">9</text><text transform="translate(791.6 1326.5) rotate(25)" text-anchor="middle">10</text><text transform="translate(801.6 1325) rotate(-32)" text-anchor="middle">2</text><text transform="translate(814.4 1317.6) rotate(-32)" text-anchor="middle">4</text><text transform="translate(826.3 1310.8) rotate(-32)" text-anchor="middle">6</text><text transform="translate(837.5 1304.4) rotate(-32)" text-anchor="middle">8</text><text transform="translate(848 1298.3) rotate(-32)" text-anchor="middle">10</text><text transform="translate(857.8 1292.7) rotate(-32)" text-anchor="middle">12</text><text transform="translate(867.1 1287.4) rotate(-32)" text-anchor="middle">14</text><text transform="translate(875.8 1282.3) rotate(-32)" text-anchor="middle">16</text><text transform="translate(884.1 1277.6) rotate(-32)" text-anchor="middle">18</text></g>
<text font-size="9.6" font-style="italic" text-anchor="middle" transform="translate(722.5 1307.7) rotate(22)">Thickness (mm)</text>
<text font-size="9.2" font-style="italic" text-anchor="middle" transform="translate(862.7 1304.2) rotate(-30)">Frequency (GHz)</text>
<text x="712.6" y="1239.8" font-size="22.3" fill="#111">RL = -37.70 dB</text>
<rect x="894.8" y="1137.7" width="11.8" height="127.4" fill="url(#cbar)"/><path d="M907.1 1153.6h3" stroke="#888" stroke-width="0.8"/><path d="M907.1 1169.5h3" stroke="#888" stroke-width="0.8"/><path d="M907.1 1185.5h3" stroke="#888" stroke-width="0.8"/><path d="M907.1 1201.4h3" stroke="#888" stroke-width="0.8"/><path d="M907.1 1217.3h3" stroke="#888" stroke-width="0.8"/><path d="M907.1 1233.2h3" stroke="#888" stroke-width="0.8"/><path d="M907.1 1249.2h3" stroke="#888" stroke-width="0.8"/><path d="M907.1 1265.1h3" stroke="#888" stroke-width="0.8"/><g font-size="10.5"><text x="910.7" y="1141.2">0</text><text x="910.2" y="1157.1">−10</text><text x="910.2" y="1173">−20</text><text x="910.2" y="1188.9">−30</text><text x="910.2" y="1204.9">−40</text><text x="910.2" y="1220.8">−50</text><text x="910.2" y="1236.7">−60</text><text x="910.2" y="1252.6">−70</text><text x="910.2" y="1268.6">−80</text></g>
<clipPath id="hm1"><rect x="411.2" y="1140.5" width="166" height="165.5"/></clipPath>
<rect x="411.2" y="1140.5" width="166" height="165.5" fill="url(#hmG)"/>
<g clip-path="url(#hm1)">
<path d="M428 1119.2L430.9 1135.8L433.8 1150L436.7 1162.4L439.6 1173.2L442.6 1182.8L445.5 1191.2L448.4 1198.8L451.3 1205.7L454.2 1211.9L457.2 1217.5L460.1 1222.6L463 1227.4L465.9 1231.7L468.8 1235.7L471.8 1239.4L474.7 1242.8L477.6 1246.1L480.5 1249L483.4 1251.8L486.4 1254.5L489.3 1256.9L492.2 1259.3L495.1 1261.4L498 1263.5L501 1265.5L503.9 1267.3L506.8 1269.1L509.7 1270.8L512.6 1272.3L515.6 1273.9L518.5 1275.3L521.4 1276.7L524.3 1278L527.2 1279.3L530.2 1280.5L533.1 1281.6L536 1282.7L538.9 1283.8L541.8 1284.8L544.8 1285.8L547.7 1286.7L550.6 1287.7L553.5 1288.5L556.5 1289.4L559.4 1290.2L562.3 1291L565.2 1291.7L568.1 1292.5L571.1 1293.2L574 1293.9L576.9 1294.6L579.8 1295.2L582.7 1295.8" stroke="#d80000" stroke-width="22" opacity="0.5" fill="none" stroke-linecap="round" filter="url(#hblur2)"/>
<path d="M428 1119.2L430.9 1135.8L433.8 1150L436.7 1162.4L439.6 1173.2L442.6 1182.8L445.5 1191.2L448.4 1198.8L451.3 1205.7L454.2 1211.9L457.2 1217.5L460.1 1222.6L463 1227.4L465.9 1231.7L468.8 1235.7L471.8 1239.4L474.7 1242.8L477.6 1246.1L480.5 1249L483.4 1251.8L486.4 1254.5L489.3 1256.9L492.2 1259.3L495.1 1261.4L498 1263.5L501 1265.5L503.9 1267.3L506.8 1269.1L509.7 1270.8L512.6 1272.3L515.6 1273.9L518.5 1275.3L521.4 1276.7L524.3 1278L527.2 1279.3L530.2 1280.5L533.1 1281.6L536 1282.7L538.9 1283.8L541.8 1284.8L544.8 1285.8L547.7 1286.7L550.6 1287.7L553.5 1288.5L556.5 1289.4L559.4 1290.2L562.3 1291L565.2 1291.7L568.1 1292.5L571.1 1293.2L574 1293.9L576.9 1294.6L579.8 1295.2L582.7 1295.8" stroke="#ff0a05" stroke-width="8.5" opacity="0.9" fill="none" stroke-linecap="round" filter="url(#hblur)"/>
<path d="M489.3 1115.4L492.2 1121.9L495.1 1128.1L498 1134L501 1139.5L503.9 1144.8L506.8 1149.7L509.7 1154.5L512.6 1159L515.6 1163.2L518.5 1167.3L521.4 1171.2L524.3 1175L527.2 1178.5L530.2 1181.9L533.1 1185.2L536 1188.3L538.9 1191.4L541.8 1194.2L544.8 1197L547.7 1199.7L550.6 1202.3L553.5 1204.8L556.5 1207.2L559.4 1209.5L562.3 1211.7L565.2 1213.9L568.1 1216L571.1 1218L574 1219.9L576.9 1221.8L579.8 1223.6L582.7 1225.4" stroke="#d00000" stroke-width="24" opacity="0.5" fill="none" stroke-linecap="round" filter="url(#hblur2)"/>
<path d="M489.3 1115.4L492.2 1121.9L495.1 1128.1L498 1134L501 1139.5L503.9 1144.8L506.8 1149.7L509.7 1154.5L512.6 1159L515.6 1163.2L518.5 1167.3L521.4 1171.2L524.3 1175L527.2 1178.5L530.2 1181.9L533.1 1185.2L536 1188.3L538.9 1191.4L541.8 1194.2L544.8 1197L547.7 1199.7L550.6 1202.3L553.5 1204.8L556.5 1207.2L559.4 1209.5L562.3 1211.7L565.2 1213.9L568.1 1216L571.1 1218L574 1219.9L576.9 1221.8L579.8 1223.6L582.7 1225.4" stroke="#f80505" stroke-width="9" opacity="0.8" fill="none" stroke-linecap="round" filter="url(#hblur)"/>
<path d="M425 1129.2L428 1146.5L430.9 1161.2L433.8 1173.8L436.7 1184.7L439.6 1194.2L442.6 1202.6L445.5 1210.1L448.4 1216.8L451.3 1222.9L454.2 1228.3L457.2 1233.3L460.1 1237.8L463 1242L465.9 1245.8L468.8 1249.3L471.8 1252.6L474.7 1255.7L477.6 1258.5L480.5 1261.1L483.4 1263.6L486.4 1265.9L489.3 1268.1L492.2 1270.1L495.1 1272.1L498 1273.9L501 1275.6L503.9 1277.3L506.8 1278.8L509.7 1280.3L512.6 1281.7L515.6 1283L518.5 1284.3L521.4 1285.5L524.3 1286.7L527.2 1287.8L530.2 1288.9L533.1 1289.9L536 1290.8L538.9 1291.8L541.8 1292.7L544.8 1293.6L547.7 1294.4L550.6 1295.2L553.5 1296L556.5 1296.7L559.4 1297.4L562.3 1298.1L565.2 1298.8L568.1 1299.5L571.1 1300.1L574 1300.7L576.9 1301.3L579.8 1301.9L582.7 1302.4" stroke="#5c5c5c" stroke-width="1" opacity="0.9" fill="none" stroke-linecap="round"/>
<path d="M430.9 1113.5L433.8 1128.6L436.7 1141.8L439.6 1153.3L442.6 1163.5L445.5 1172.5L448.4 1180.6L451.3 1187.9L454.2 1194.5L457.2 1200.5L460.1 1206L463 1211L465.9 1215.6L468.8 1220.2L471.8 1224.4L474.7 1228.4L477.6 1232.1L480.5 1235.6L483.4 1238.8L486.4 1241.9L489.3 1244.7L492.2 1247.4L495.1 1249.9L498 1252.3L501 1254.6L503.9 1256.8L506.8 1258.8L509.7 1260.7L512.6 1262.6L515.6 1264.3L518.5 1266L521.4 1267.6L524.3 1269.1L527.2 1270.6L530.2 1271.9L533.1 1273.3L536 1274.6L538.9 1275.8L541.8 1277L544.8 1278.1L547.7 1279.2L550.6 1280.3L553.5 1281.3L556.5 1282.3L559.4 1283.2L562.3 1284.1L565.2 1285L568.1 1285.9L571.1 1286.7L574 1287.5L576.9 1288.3L579.8 1289L582.7 1289.7" stroke="#5c5c5c" stroke-width="1" opacity="0.9" fill="none" stroke-linecap="round"/>
<path d="M477.6 1110.8L480.5 1118.3L483.4 1125.2L486.4 1131.7L489.3 1137.8L492.2 1143.6L495.1 1149L498 1154.2L501 1159L503.9 1163.6L506.8 1168L509.7 1172.1L512.6 1176.1L515.6 1179.8L518.5 1183.4L521.4 1186.8L524.3 1190.1L527.2 1193.2L530.2 1196.2L533.1 1199L536 1201.8L538.9 1204.4L541.8 1207L544.8 1209.4L547.7 1211.8L550.6 1214L553.5 1216.2L556.5 1218.3L559.4 1220.3L562.3 1222.3L565.2 1224.2L568.1 1226L571.1 1227.8L574 1229.5L576.9 1231.1L579.8 1232.7L582.7 1234.3" stroke="#5c5c5c" stroke-width="1" opacity="0.9" fill="none" stroke-linecap="round"/>
<path d="M501 1115.5L503.9 1121.8L506.8 1127.8L509.7 1133.5L512.6 1138.9L515.6 1144.1L518.5 1149L521.4 1153.7L524.3 1158.2L527.2 1162.4L530.2 1166.5L533.1 1170.5L536 1174.3L538.9 1177.9L541.8 1181.4L544.8 1184.7L547.7 1187.9L550.6 1191L553.5 1194L556.5 1196.9L559.4 1199.7L562.3 1202.4L565.2 1205L568.1 1207.5L571.1 1209.9L574 1212.3L576.9 1214.5L579.8 1216.7L582.7 1218.9" stroke="#5c5c5c" stroke-width="1" opacity="0.9" fill="none" stroke-linecap="round"/>
<path d="M541.8 1111.7L544.8 1115.8L547.7 1119.8L550.6 1123.6L553.5 1127.3L556.5 1130.9L559.4 1134.3L562.3 1137.6L565.2 1140.8L568.1 1143.9L571.1 1146.9L574 1149.8L576.9 1152.6L579.8 1155.3L582.7 1158" stroke="#5c5c5c" stroke-width="1" opacity="0.9" fill="none" stroke-linecap="round"/>
<path d="M518.2 1275.5L519 1275.9L519.9 1276.3L520.8 1276.7L521.6 1277.1L522.5 1277.5L523.3 1277.9L524.2 1278.3L525.1 1278.7L525.9 1279.1L526.8 1279.4L527.6 1279.8L528.5 1280.2L529.4 1280.5L530.2 1280.9L531.1 1281.2L531.9 1281.6L532.8 1281.9L533.7 1282.2L534.5 1282.6L535.4 1282.9L536.3 1283.2L537.1 1283.5L538 1283.8L538.8 1284.1L539.7 1284.4L540.6 1284.8L541.4 1285.1L542.3 1285.3L543.1 1285.6L544 1285.9L544.9 1286.2L545.7 1286.5L546.6 1286.8L547.4 1287.1L548.3 1287.3L549.2 1287.6L550 1287.9L550.9 1288.1L551.7 1288.4L552.6 1288.7L553.5 1288.9L554.3 1289.2L555.2 1289.4L556.1 1289.7L556.9 1289.9L557.8 1290.2L558.6 1290.4L559.5 1290.6L560.4 1290.9L561.2 1291.1L562.1 1291.3L562.9 1291.6L563.8 1291.8L564.7 1292L565.5 1292.2L566.4 1292.5L567.2 1292.7L568.1 1292.9L569 1293.1L569.8 1293.3" stroke="#ff8a00" stroke-width="2" opacity="0.9" fill="none" stroke-linecap="round"/>
<path d="M523.7 1278.1L524.3 1278.4L524.9 1278.6L525.6 1278.9L526.2 1279.2L526.8 1279.4L527.4 1279.7L528 1280L528.6 1280.2L529.2 1280.5L529.9 1280.7L530.5 1281L531.1 1281.2L531.7 1281.5L532.3 1281.7L532.9 1281.9L533.5 1282.2L534.2 1282.4L534.8 1282.6L535.4 1282.9L536 1283.1L536.6 1283.3L537.2 1283.6L537.9 1283.8L538.5 1284L539.1 1284.2L539.7 1284.4L540.3 1284.7L540.9 1284.9L541.5 1285.1L542.2 1285.3L542.8 1285.5L543.4 1285.7L544 1285.9L544.6 1286.1L545.2 1286.3L545.8 1286.5L546.5 1286.7L547.1 1286.9L547.7 1287.1L548.3 1287.3L548.9 1287.5L549.5 1287.7L550.1 1287.9L550.8 1288.1L551.4 1288.3L552 1288.5L552.6 1288.7L553.2 1288.8L553.8 1289L554.5 1289.2L555.1 1289.4L555.7 1289.6L556.3 1289.7L556.9 1289.9L557.5 1290.1L558.1 1290.3L558.8 1290.4L559.4 1290.6L560 1290.8L560.6 1290.9" stroke="#fff000" stroke-width="0.9" opacity="1" fill="none" stroke-linecap="round"/>

</g>
<rect x="411.2" y="1140.5" width="166" height="165.5" fill="none" stroke="#000" stroke-width="1.3"/>
<path d="M411.2 1306h-3M411.2 1295.7h-1.8M411.2 1285.3h-3M411.2 1275h-1.8M411.2 1264.6h-3M411.2 1254.3h-1.8M411.2 1243.9h-3M411.2 1233.6h-1.8M411.2 1223.2h-3M411.2 1212.9h-1.8M411.2 1202.6h-3M411.2 1192.2h-1.8M411.2 1181.9h-3M411.2 1171.5h-1.8M411.2 1161.2h-3M411.2 1150.8h-1.8M411.2 1140.5h-3M411.2 1306v3M420.4 1306v1.8M429.6 1306v3M438.9 1306v1.8M448.1 1306v3M457.3 1306v1.8M466.5 1306v3M475.8 1306v1.8M485 1306v3M494.2 1306v1.8M503.4 1306v3M512.6 1306v1.8M521.9 1306v3M531.1 1306v1.8M540.3 1306v3M549.5 1306v1.8M558.8 1306v3M568 1306v1.8M577.2 1306v3" stroke="#000" stroke-width="0.9"/>
<g font-size="10.3"><text x="407" y="1309.4" text-anchor="end">2</text><text x="407" y="1288.7" text-anchor="end">4</text><text x="407" y="1268" text-anchor="end">6</text><text x="407" y="1247.3" text-anchor="end">8</text><text x="407" y="1226.7" text-anchor="end">10</text><text x="407" y="1206" text-anchor="end">12</text><text x="407" y="1185.3" text-anchor="end">14</text><text x="407" y="1164.6" text-anchor="end">16</text><text x="407" y="1143.9" text-anchor="end">18</text><text x="411.2" y="1318.2" text-anchor="middle">1</text><text x="429.6" y="1318.2" text-anchor="middle">2</text><text x="448.1" y="1318.2" text-anchor="middle">3</text><text x="466.5" y="1318.2" text-anchor="middle">4</text><text x="485" y="1318.2" text-anchor="middle">5</text><text x="503.4" y="1318.2" text-anchor="middle">6</text><text x="521.9" y="1318.2" text-anchor="middle">7</text><text x="540.3" y="1318.2" text-anchor="middle">8</text><text x="558.8" y="1318.2" text-anchor="middle">9</text><text x="578.4" y="1318.2" text-anchor="middle">10</text></g>
<text font-size="11.3" text-anchor="middle" transform="translate(390.2 1223.2) rotate(-90)">Frequency (GHz)</text>
<text font-size="11.2" text-anchor="middle" x="493.8" y="1336.3">Thickness (mm)</text>
<text x="446.2" y="1175.5" font-size="18.9" fill="#2a0606">-10 dB</text>
<rect x="602" y="1141" width="14.6" height="165" fill="url(#cbar)"/><path d="M617.1 1161.6h3" stroke="#888" stroke-width="0.8"/><path d="M617.1 1182.2h3" stroke="#888" stroke-width="0.8"/><path d="M617.1 1202.9h3" stroke="#888" stroke-width="0.8"/><path d="M617.1 1223.5h3" stroke="#888" stroke-width="0.8"/><path d="M617.1 1244.1h3" stroke="#888" stroke-width="0.8"/><path d="M617.1 1264.8h3" stroke="#888" stroke-width="0.8"/><path d="M617.1 1285.4h3" stroke="#888" stroke-width="0.8"/><path d="M617.1 1306h3" stroke="#888" stroke-width="0.8"/><g font-size="10.5"><text x="624" y="1144.5">0</text><text x="623.5" y="1165.1">−10</text><text x="623.5" y="1185.7">−20</text><text x="623.5" y="1206.3">−30</text><text x="623.5" y="1227">−40</text><text x="623.5" y="1247.6">−50</text><text x="623.5" y="1268.2">−60</text><text x="623.5" y="1288.8">−70</text><text x="623.5" y="1309.5">−80</text></g>
<clipPath id="hm2"><rect x="969.8" y="1140.5" width="166.3" height="165.5"/></clipPath>
<rect x="969.8" y="1140.5" width="166.3" height="165.5" fill="url(#hmG2)"/>
<g clip-path="url(#hm2)">
<path d="M995.4 1118.4L998.3 1131.3L1001.2 1142.8L1004.1 1153L1007.1 1162.1L1010 1170.3L1012.9 1177.7L1015.8 1184.5L1018.8 1190.7L1021.7 1196.3L1024.6 1201.5L1027.5 1206.3L1030.5 1210.8L1033.4 1214.9L1036.3 1218.8L1039.2 1222.3L1042.2 1225.7L1045.1 1228.9L1048 1231.8L1050.9 1234.6L1053.9 1237.2L1056.8 1239.7L1059.7 1242.1L1062.7 1244.3L1065.6 1246.4L1068.5 1248.4L1071.4 1250.3L1074.4 1252.1L1077.3 1253.9L1080.2 1255.5L1083.1 1257.1L1086.1 1258.6L1089 1260L1091.9 1261.4L1094.8 1262.8L1097.8 1264L1100.7 1265.3L1103.6 1266.4L1106.5 1267.6L1109.5 1268.7L1112.4 1269.7L1115.3 1270.7L1118.2 1271.7L1121.2 1272.7L1124.1 1273.6L1127 1274.5L1129.9 1275.3L1132.9 1276.2L1135.8 1277L1138.7 1277.7L1141.6 1278.5" stroke="#b00505" stroke-width="34" opacity="0.7" fill="none" stroke-linecap="round" filter="url(#hblur2)"/>
<path d="M1068.5 1111.4L1071.4 1116.6L1074.4 1121.6L1077.3 1126.4L1080.2 1130.9L1083.1 1135.3L1086.1 1139.4L1089 1143.4L1091.9 1147.2L1094.8 1150.9L1097.8 1154.4L1100.7 1157.8L1103.6 1161L1106.5 1164.1L1109.5 1167.2L1112.4 1170L1115.3 1172.8L1118.2 1175.5L1121.2 1178.1L1124.1 1180.7L1127 1183.1L1129.9 1185.4L1132.9 1187.7L1135.8 1189.9L1138.7 1192.1L1141.6 1194.1" stroke="#d80000" stroke-width="26" opacity="0.6" fill="none" stroke-linecap="round" filter="url(#hblur2)"/>
<path d="M1068.5 1111.4L1071.4 1116.6L1074.4 1121.6L1077.3 1126.4L1080.2 1130.9L1083.1 1135.3L1086.1 1139.4L1089 1143.4L1091.9 1147.2L1094.8 1150.9L1097.8 1154.4L1100.7 1157.8L1103.6 1161L1106.5 1164.1L1109.5 1167.2L1112.4 1170L1115.3 1172.8L1118.2 1175.5L1121.2 1178.1L1124.1 1180.7L1127 1183.1L1129.9 1185.4L1132.9 1187.7L1135.8 1189.9L1138.7 1192.1L1141.6 1194.1" stroke="#ff0402" stroke-width="13.5" opacity="1" fill="none" stroke-linecap="round" filter="url(#hblur)"/>
<path d="M1062.7 1114.6L1065.6 1120.4L1068.5 1125.9L1071.4 1131.1L1074.4 1136.1L1077.3 1140.8L1080.2 1145.4L1083.1 1149.7L1086.1 1153.8L1089 1157.8L1091.9 1161.6L1094.8 1165.2L1097.8 1168.7L1100.7 1172.1L1103.6 1175.3L1106.5 1178.4L1109.5 1181.4L1112.4 1184.3L1115.3 1187.1L1118.2 1189.7L1121.2 1192.3L1124.1 1194.8L1127 1197.3L1129.9 1199.6L1132.9 1201.9L1135.8 1204.1L1138.7 1206.2L1141.6 1208.2" stroke="#5c5c5c" stroke-width="1" opacity="0.9" fill="none" stroke-linecap="round"/>
<path d="M1080.2 1111.6L1083.1 1116.6L1086.1 1121.4L1089 1126L1091.9 1130.4L1094.8 1134.6L1097.8 1138.6L1100.7 1142.5L1103.6 1146.3L1106.5 1149.9L1109.5 1153.3L1112.4 1156.7L1115.3 1159.9L1118.2 1163L1121.2 1166L1124.1 1168.9L1127 1171.7L1129.9 1174.4L1132.9 1177L1135.8 1179.5L1138.7 1182L1141.6 1184.4" stroke="#5c5c5c" stroke-width="1" opacity="0.9" fill="none" stroke-linecap="round"/>
<ellipse cx="1127.5" cy="1186.8" rx="2.6" ry="1.5" fill="#ffb000" transform="rotate(35 1127.5 1186.8)"/>
</g>
<rect x="969.8" y="1140.5" width="166.3" height="165.5" fill="none" stroke="#000" stroke-width="1.3"/>
<path d="M969.8 1306h-3M969.8 1295.7h-1.8M969.8 1285.3h-3M969.8 1275h-1.8M969.8 1264.6h-3M969.8 1254.3h-1.8M969.8 1243.9h-3M969.8 1233.6h-1.8M969.8 1223.2h-3M969.8 1212.9h-1.8M969.8 1202.6h-3M969.8 1192.2h-1.8M969.8 1181.9h-3M969.8 1171.5h-1.8M969.8 1161.2h-3M969.8 1150.8h-1.8M969.8 1140.5h-3M969.8 1306v3M979 1306v1.8M988.3 1306v3M997.5 1306v1.8M1006.8 1306v3M1016 1306v1.8M1025.2 1306v3M1034.5 1306v1.8M1043.7 1306v3M1052.9 1306v1.8M1062.2 1306v3M1071.4 1306v1.8M1080.7 1306v3M1089.9 1306v1.8M1099.1 1306v3M1108.4 1306v1.8M1117.6 1306v3M1126.9 1306v1.8M1136.1 1306v3" stroke="#000" stroke-width="0.9"/>
<g font-size="10.3"><text x="965.6" y="1309.4" text-anchor="end">2</text><text x="965.6" y="1288.7" text-anchor="end">4</text><text x="965.6" y="1268" text-anchor="end">6</text><text x="965.6" y="1247.3" text-anchor="end">8</text><text x="965.6" y="1226.7" text-anchor="end">10</text><text x="965.6" y="1206" text-anchor="end">12</text><text x="965.6" y="1185.3" text-anchor="end">14</text><text x="965.6" y="1164.6" text-anchor="end">16</text><text x="965.6" y="1143.9" text-anchor="end">18</text><text x="969.8" y="1318.2" text-anchor="middle">1</text><text x="988.3" y="1318.2" text-anchor="middle">2</text><text x="1006.8" y="1318.2" text-anchor="middle">3</text><text x="1025.2" y="1318.2" text-anchor="middle">4</text><text x="1043.7" y="1318.2" text-anchor="middle">5</text><text x="1062.2" y="1318.2" text-anchor="middle">6</text><text x="1080.7" y="1318.2" text-anchor="middle">7</text><text x="1099.1" y="1318.2" text-anchor="middle">8</text><text x="1117.6" y="1318.2" text-anchor="middle">9</text><text x="1137.3" y="1318.2" text-anchor="middle">10</text></g>
<text font-size="11.3" text-anchor="middle" transform="translate(948.8 1223.2) rotate(-90)">Frequency (GHz)</text>
<text font-size="11.2" text-anchor="middle" x="1052.5" y="1336.3">Thickness (mm)</text>
<text x="1024.5" y="1175.5" font-size="18.9" fill="#2a0606">-10 dB</text>
<rect x="1160.4" y="1141" width="14.9" height="165" fill="url(#cbar)"/><path d="M1175.8 1161.6h3" stroke="#888" stroke-width="0.8"/><path d="M1175.8 1182.2h3" stroke="#888" stroke-width="0.8"/><path d="M1175.8 1202.9h3" stroke="#888" stroke-width="0.8"/><path d="M1175.8 1223.5h3" stroke="#888" stroke-width="0.8"/><path d="M1175.8 1244.1h3" stroke="#888" stroke-width="0.8"/><path d="M1175.8 1264.8h3" stroke="#888" stroke-width="0.8"/><path d="M1175.8 1285.4h3" stroke="#888" stroke-width="0.8"/><path d="M1175.8 1306h3" stroke="#888" stroke-width="0.8"/><g font-size="10.5"><text x="1183" y="1144.5">0</text><text x="1182.5" y="1165.1">−10</text><text x="1182.5" y="1185.7">−20</text><text x="1182.5" y="1206.3">−30</text><text x="1182.5" y="1227">−40</text><text x="1182.5" y="1247.6">−50</text><text x="1182.5" y="1268.2">−60</text><text x="1182.5" y="1288.8">−70</text><text x="1182.5" y="1309.5">−80</text></g>
<g font-family="'Liberation Sans','Noto Sans CJK SC',sans-serif" font-weight="bold" fill="#000">
<text x="480.8" y="428" font-size="29.2" textLength="31.2" lengthAdjust="spacingAndGlyphs">图</text>
<text x="510.8" y="428" font-size="31.2" textLength="26.4" lengthAdjust="spacingAndGlyphs">1.</text>
<text x="545.1" y="428" font-size="29.2" textLength="143.2" lengthAdjust="spacingAndGlyphs">制备流程及</text>
<text x="689.2" y="428" font-size="31.2" textLength="63.3" lengthAdjust="spacingAndGlyphs">SEM</text>
<text x="751.3" y="428" font-size="29.2" textLength="87.3" lengthAdjust="spacingAndGlyphs">表征图</text>
<text x="410.7" y="750.6" font-size="29.2" textLength="30.5" lengthAdjust="spacingAndGlyphs">图</text>
<text x="441.1" y="750.6" font-size="30.6" textLength="25.8" lengthAdjust="spacingAndGlyphs">2.</text>
<text x="474.3" y="750.6" font-size="29.2" textLength="58.7" lengthAdjust="spacingAndGlyphs">不同</text>
<text x="533.3" y="750.6" font-size="30.6" textLength="102.7" lengthAdjust="spacingAndGlyphs">Ni/NiO</text>
<text x="635.1" y="750.6" font-size="29.2" textLength="30.3" lengthAdjust="spacingAndGlyphs">与</text>
<text x="664.3" y="750.6" font-size="30.6" textLength="35.3" lengthAdjust="spacingAndGlyphs">Py</text>
<text x="698.7" y="750.6" font-size="29.2" textLength="116.1" lengthAdjust="spacingAndGlyphs">质量比的</text>
<text x="816" y="750.6" font-size="30.6" textLength="39.7" lengthAdjust="spacingAndGlyphs">3D</text>
<text x="864.1" y="750.6" font-size="30.6" textLength="34.3" lengthAdjust="spacingAndGlyphs">RL</text>
<text x="897.9" y="750.6" font-size="29.2" textLength="30.5" lengthAdjust="spacingAndGlyphs">图</text>
<text x="415.6" y="1066.6" font-size="29.2" textLength="29.8" lengthAdjust="spacingAndGlyphs">图</text>
<text x="446.3" y="1066.6" font-size="30.6" textLength="25.8" lengthAdjust="spacingAndGlyphs">3.</text>
<text x="478.8" y="1066.6" font-size="29.2" textLength="60.6" lengthAdjust="spacingAndGlyphs">不同</text>
<text x="538.9" y="1066.6" font-size="30.6" textLength="105.1" lengthAdjust="spacingAndGlyphs">Ni/NiO</text>
<text x="643.3" y="1066.6" font-size="29.2" textLength="28.9" lengthAdjust="spacingAndGlyphs">与</text>
<text x="668.6" y="1066.6" font-size="30.6" textLength="36.2" lengthAdjust="spacingAndGlyphs">Py</text>
<text x="704.3" y="1066.6" font-size="29.2" textLength="116.6" lengthAdjust="spacingAndGlyphs">质量比的</text>
<text x="821.4" y="1066.6" font-size="30.6" textLength="56.6" lengthAdjust="spacingAndGlyphs">RCS</text>
<text x="874.4" y="1066.6" font-size="29.2" textLength="29.8" lengthAdjust="spacingAndGlyphs">图</text>
<text x="332.8" y="1379.3" font-size="28.2" textLength="29.8" lengthAdjust="spacingAndGlyphs">图</text>
<text x="361.7" y="1379.3" font-size="29.3" textLength="27" lengthAdjust="spacingAndGlyphs">4.</text>
<text x="396.4" y="1379.3" font-size="29.3" textLength="222.2" lengthAdjust="spacingAndGlyphs">Ni/NiO@PPy-2</text>
<text x="618.6" y="1379.3" font-size="28.2" textLength="367.8" lengthAdjust="spacingAndGlyphs">在超低填充量下的吸波性能图</text>
</g>
</svg></body></html>
